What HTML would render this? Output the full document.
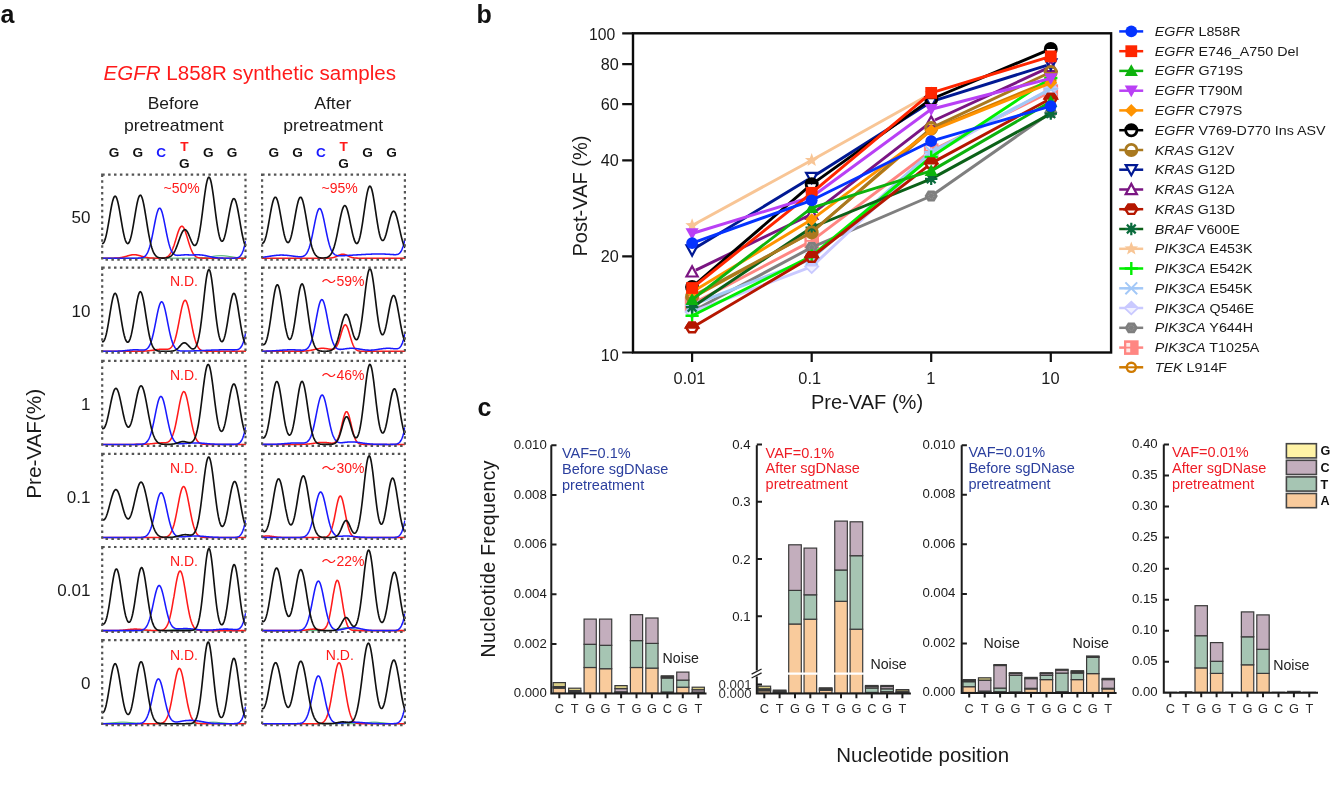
<!DOCTYPE html>
<html lang="en">
<head>
<meta charset="utf-8">
<title>Figure</title>
<style>
html,body{margin:0;padding:0;background:#fff;}
body{width:1332px;height:795px;overflow:hidden;font-family:"Liberation Sans", sans-serif;}
svg{display:block;}
</style>
</head>
<body>
<svg width="1332" height="795" viewBox="0 0 1332 795" font-family='"Liberation Sans", sans-serif'>
<rect width="1332" height="795" fill="#ffffff"/>
<g id="panel-a">
<text x="0.6" y="22.5" font-size="25" fill="#111" text-anchor="start" font-weight="bold" font-style="normal" >a</text>
<text x="103.5" y="80.3" font-size="19.6" fill="#ff1a1a" textLength="292.5" lengthAdjust="spacingAndGlyphs"><tspan font-style="italic">EGFR</tspan> L858R synthetic samples</text>
<text x="173.4" y="109.0" font-size="16.4" fill="#1a1a1a" text-anchor="middle" textLength="51.3" lengthAdjust="spacingAndGlyphs">Before</text>
<text x="173.8" y="130.6" font-size="16.4" fill="#1a1a1a" text-anchor="middle" textLength="99.8" lengthAdjust="spacingAndGlyphs">pretreatment</text>
<text x="332.8" y="109.0" font-size="16.4" fill="#1a1a1a" text-anchor="middle" textLength="37.2" lengthAdjust="spacingAndGlyphs">After</text>
<text x="333.2" y="130.6" font-size="16.4" fill="#1a1a1a" text-anchor="middle" textLength="99.8" lengthAdjust="spacingAndGlyphs">pretreatment</text>
<text x="114.0" y="157.2" font-size="13.6" fill="#111" text-anchor="middle" font-weight="bold" font-style="normal" >G</text>
<text x="137.8" y="157.2" font-size="13.6" fill="#111" text-anchor="middle" font-weight="bold" font-style="normal" >G</text>
<text x="161.2" y="157.2" font-size="13.6" fill="#1a1aff" text-anchor="middle" font-weight="bold" font-style="normal" >C</text>
<text x="184.3" y="151.2" font-size="13.6" fill="#ff1a1a" text-anchor="middle" font-weight="bold" font-style="normal" >T</text>
<text x="184.3" y="167.8" font-size="13.6" fill="#111" text-anchor="middle" font-weight="bold" font-style="normal" >G</text>
<text x="208.2" y="157.2" font-size="13.6" fill="#111" text-anchor="middle" font-weight="bold" font-style="normal" >G</text>
<text x="232.0" y="157.2" font-size="13.6" fill="#111" text-anchor="middle" font-weight="bold" font-style="normal" >G</text>
<text x="273.9" y="157.2" font-size="13.6" fill="#111" text-anchor="middle" font-weight="bold" font-style="normal" >G</text>
<text x="297.6" y="157.2" font-size="13.6" fill="#111" text-anchor="middle" font-weight="bold" font-style="normal" >G</text>
<text x="321.0" y="157.2" font-size="13.6" fill="#1a1aff" text-anchor="middle" font-weight="bold" font-style="normal" >C</text>
<text x="343.6" y="151.2" font-size="13.6" fill="#ff1a1a" text-anchor="middle" font-weight="bold" font-style="normal" >T</text>
<text x="343.6" y="167.8" font-size="13.6" fill="#111" text-anchor="middle" font-weight="bold" font-style="normal" >G</text>
<text x="367.6" y="157.2" font-size="13.6" fill="#111" text-anchor="middle" font-weight="bold" font-style="normal" >G</text>
<text x="391.6" y="157.2" font-size="13.6" fill="#111" text-anchor="middle" font-weight="bold" font-style="normal" >G</text>
<text transform="translate(40.8 443.8) rotate(-90)" font-size="20.8" textLength="110" lengthAdjust="spacing" fill="#1a1a1a" text-anchor="middle">Pre-VAF(%)</text>
<text x="90.4" y="223.4" font-size="17" fill="#1a1a1a" text-anchor="end" font-weight="normal" font-style="normal" >50</text>
<clipPath id="clip00"><rect x="101.8" y="174.6" width="144.1" height="85.6"/></clipPath>
<g clip-path="url(#clip00)" fill="none" stroke-linejoin="round" stroke-linecap="round">
<path d="M102.2 258.20 L102.7 258.20 L103.2 258.20 L103.7 258.20 L104.2 258.20 L104.7 258.20 L105.2 258.20 L105.7 258.20 L106.2 258.20 L106.7 258.20 L107.2 258.20 L107.7 258.20 L108.2 258.20 L108.7 258.20 L109.2 258.20 L109.7 258.20 L110.2 258.20 L110.7 258.20 L111.2 258.20 L111.7 258.20 L112.2 258.20 L112.7 258.20 L113.2 258.20 L113.7 258.20 L114.2 258.20 L114.7 258.20 L115.2 258.20 L115.7 258.20 L116.2 258.20 L116.7 258.20 L117.2 258.20 L117.7 258.20 L118.2 258.20 L118.7 258.20 L119.2 258.20 L119.7 258.20 L120.2 258.20 L120.7 258.20 L121.2 258.20 L121.7 258.20 L122.2 258.20 L122.7 258.20 L123.2 258.20 L123.7 258.20 L124.2 258.20 L124.7 258.20 L125.2 258.20 L125.7 258.20 L126.3 258.20 L126.8 258.20 L127.3 258.20 L127.8 258.20 L128.3 258.20 L128.8 258.20 L129.3 258.20 L129.8 258.20 L130.3 258.20 L130.8 258.20 L131.3 258.20 L131.8 258.20 L132.3 258.20 L132.8 258.20 L133.3 258.20 L133.8 258.20 L134.3 258.20 L134.8 258.20 L135.3 258.20 L135.8 258.20 L136.3 258.20 L136.8 258.20 L137.3 258.20 L137.8 258.20 L138.3 258.20 L138.8 258.20 L139.3 258.20 L139.8 258.20 L140.3 258.20 L140.8 258.20 L141.3 258.20 L141.8 258.20 L142.3 258.20 L142.8 258.20 L143.3 258.20 L143.8 258.20 L144.3 258.20 L144.8 258.20 L145.3 258.20 L145.8 258.20 L146.3 258.20 L146.8 258.20 L147.3 258.20 L147.8 258.20 L148.3 258.20 L148.8 258.20 L149.3 258.20 L149.8 258.20 L150.3 258.20 L150.8 258.20 L151.3 258.20 L151.8 258.20 L152.3 258.20 L152.8 258.20 L153.3 258.20 L153.8 258.20 L154.3 258.20 L154.8 258.20 L155.3 258.20 L155.8 258.20 L156.3 258.20 L156.8 258.20 L157.3 258.20 L157.8 258.20 L158.3 258.20 L158.8 258.20 L159.3 258.20 L159.8 258.20 L160.3 258.20 L160.8 258.20 L161.3 258.20 L161.8 258.20 L162.3 258.20 L162.8 258.20 L163.3 258.20 L163.8 258.20 L164.3 258.20 L164.8 258.20 L165.3 258.20 L165.8 258.20 L166.3 258.20 L166.8 258.20 L167.3 258.20 L167.8 258.20 L168.3 258.20 L168.8 258.20 L169.3 258.20 L169.8 258.20 L170.3 258.20 L170.8 258.20 L171.3 258.20 L171.8 258.20 L172.3 258.20 L172.8 258.20 L173.3 258.20 L173.9 258.20 L174.4 258.20 L174.9 258.20 L175.4 258.20 L175.9 258.20 L176.4 258.20 L176.9 258.20 L177.4 258.20 L177.9 258.20 L178.4 258.20 L178.9 258.20 L179.4 258.20 L179.9 258.20 L180.4 258.20 L180.9 258.20 L181.4 258.20 L181.9 258.20 L182.4 258.20 L182.9 258.20 L183.4 258.20 L183.9 258.20 L184.4 258.20 L184.9 258.20 L185.4 258.20 L185.9 258.19 L186.4 258.19 L186.9 258.19 L187.4 258.19 L187.9 258.19 L188.4 258.19 L188.9 258.18 L189.4 258.18 L189.9 258.18 L190.4 258.18 L190.9 258.17 L191.4 258.17 L191.9 258.16 L192.4 258.16 L192.9 258.15 L193.4 258.14 L193.9 258.13 L194.4 258.12 L194.9 258.11 L195.4 258.10 L195.9 258.09 L196.4 258.07 L196.9 258.06 L197.4 258.04 L197.9 258.02 L198.4 258.00 L198.9 257.97 L199.4 257.95 L199.9 257.92 L200.4 257.89 L200.9 257.85 L201.4 257.82 L201.9 257.78 L202.4 257.74 L202.9 257.69 L203.4 257.65 L203.9 257.60 L204.4 257.55 L204.9 257.49 L205.4 257.43 L205.9 257.37 L206.4 257.31 L206.9 257.24 L207.4 257.18 L207.9 257.11 L208.4 257.04 L208.9 256.96 L209.4 256.89 L209.9 256.81 L210.4 256.74 L210.9 256.66 L211.4 256.59 L211.9 256.51 L212.4 256.44 L212.9 256.36 L213.4 256.29 L213.9 256.22 L214.4 256.16 L214.9 256.09 L215.4 256.03 L215.9 255.98 L216.4 255.93 L216.9 255.88 L217.4 255.84 L217.9 255.80 L218.4 255.77 L218.9 255.74 L219.4 255.72 L219.9 255.71 L220.4 255.70 L220.9 255.70 L221.4 255.71 L222.0 255.72 L222.5 255.73 L223.0 255.76 L223.5 255.79 L224.0 255.82 L224.5 255.86 L225.0 255.91 L225.5 255.96 L226.0 256.01 L226.5 256.07 L227.0 256.13 L227.5 256.20 L228.0 256.27 L228.5 256.34 L229.0 256.41 L229.5 256.48 L230.0 256.56 L230.5 256.64 L231.0 256.71 L231.5 256.79 L232.0 256.86 L232.5 256.94 L233.0 257.01 L233.5 257.08 L234.0 257.15 L234.5 257.22 L235.0 257.29 L235.5 257.35 L236.0 257.41 L236.5 257.47 L237.0 257.53 L237.5 257.58 L238.0 257.63 L238.5 257.68 L239.0 257.72 L239.5 257.77 L240.0 257.80 L240.5 257.84 L241.0 257.88 L241.5 257.91 L242.0 257.94 L242.5 257.96 L243.0 257.99 L243.5 258.01 L244.0 258.03 L244.5 258.05 L245.0 258.07 L245.5 258.08" stroke="#1a9a4a" stroke-width="1.0"/>
<path d="M102.2 258.20 L102.7 258.20 L103.2 258.20 L103.7 258.20 L104.2 258.20 L104.7 258.20 L105.2 258.20 L105.7 258.20 L106.2 258.20 L106.7 258.20 L107.2 258.20 L107.7 258.20 L108.2 258.20 L108.7 258.19 L109.2 258.19 L109.7 258.19 L110.2 258.19 L110.7 258.19 L111.2 258.18 L111.7 258.18 L112.2 258.17 L112.7 258.17 L113.2 258.16 L113.7 258.15 L114.2 258.14 L114.7 258.12 L115.2 258.10 L115.7 258.08 L116.2 258.06 L116.7 258.03 L117.2 258.00 L117.7 257.97 L118.2 257.92 L118.7 257.88 L119.2 257.82 L119.7 257.76 L120.2 257.70 L120.7 257.62 L121.2 257.54 L121.7 257.45 L122.2 257.35 L122.7 257.24 L123.2 257.13 L123.7 257.01 L124.2 256.88 L124.7 256.74 L125.2 256.60 L125.7 256.46 L126.3 256.31 L126.8 256.16 L127.3 256.00 L127.8 255.85 L128.3 255.71 L128.8 255.56 L129.3 255.42 L129.8 255.29 L130.3 255.17 L130.8 255.06 L131.3 254.96 L131.8 254.88 L132.3 254.81 L132.8 254.76 L133.3 254.72 L133.8 254.70 L134.3 254.70 L134.8 254.72 L135.3 254.76 L135.8 254.81 L136.3 254.88 L136.8 254.96 L137.3 255.06 L137.8 255.17 L138.3 255.29 L138.8 255.42 L139.3 255.56 L139.8 255.71 L140.3 255.86 L140.8 256.01 L141.3 256.16 L141.8 256.31 L142.3 256.46 L142.8 256.60 L143.3 256.74 L143.8 256.88 L144.3 257.01 L144.8 257.13 L145.3 257.24 L145.8 257.35 L146.3 257.45 L146.8 257.54 L147.3 257.62 L147.8 257.70 L148.3 257.76 L148.8 257.82 L149.3 257.88 L149.8 257.92 L150.3 257.97 L150.8 258.00 L151.3 258.03 L151.8 258.06 L152.3 258.08 L152.8 258.10 L153.3 258.12 L153.8 258.14 L154.3 258.15 L154.8 258.16 L155.3 258.16 L155.8 258.17 L156.3 258.18 L156.8 258.18 L157.3 258.18 L157.8 258.18 L158.3 258.18 L158.8 258.18 L159.3 258.18 L159.8 258.17 L160.3 258.16 L160.8 258.15 L161.3 258.14 L161.8 258.11 L162.3 258.09 L162.8 258.05 L163.3 258.00 L163.8 257.94 L164.3 257.86 L164.8 257.76 L165.3 257.63 L165.8 257.48 L166.3 257.29 L166.8 257.05 L167.3 256.77 L167.8 256.44 L168.3 256.04 L168.8 255.57 L169.3 255.02 L169.8 254.38 L170.3 253.65 L170.8 252.83 L171.3 251.90 L171.8 250.86 L172.3 249.72 L172.8 248.48 L173.3 247.13 L173.9 245.69 L174.4 244.17 L174.9 242.59 L175.4 240.95 L175.9 239.28 L176.4 237.61 L176.9 235.95 L177.4 234.34 L177.9 232.80 L178.4 231.36 L178.9 230.06 L179.4 228.91 L179.9 227.94 L180.4 227.17 L180.9 226.61 L181.4 226.29 L181.9 226.20 L182.4 226.35 L182.9 226.74 L183.4 227.35 L183.9 228.17 L184.4 229.19 L184.9 230.39 L185.4 231.73 L185.9 233.20 L186.4 234.76 L186.9 236.38 L187.4 238.05 L187.9 239.72 L188.4 241.38 L188.9 243.01 L189.4 244.58 L189.9 246.08 L190.4 247.50 L190.9 248.82 L191.4 250.03 L191.9 251.15 L192.4 252.15 L192.9 253.05 L193.4 253.85 L193.9 254.56 L194.4 255.17 L194.9 255.70 L195.4 256.15 L195.9 256.53 L196.4 256.85 L196.9 257.12 L197.4 257.34 L197.9 257.52 L198.4 257.67 L198.9 257.79 L199.4 257.88 L199.9 257.95 L200.4 258.01 L200.9 258.06 L201.4 258.09 L201.9 258.12 L202.4 258.14 L202.9 258.16 L203.4 258.17 L203.9 258.18 L204.4 258.18 L204.9 258.19 L205.4 258.19 L205.9 258.19 L206.4 258.20 L206.9 258.20 L207.4 258.20 L207.9 258.20 L208.4 258.20 L208.9 258.20 L209.4 258.20 L209.9 258.20 L210.4 258.20 L210.9 258.20 L211.4 258.20 L211.9 258.20 L212.4 258.20 L212.9 258.20 L213.4 258.20 L213.9 258.20 L214.4 258.20 L214.9 258.20 L215.4 258.20 L215.9 258.20 L216.4 258.20 L216.9 258.20 L217.4 258.20 L217.9 258.20 L218.4 258.20 L218.9 258.20 L219.4 258.20 L219.9 258.20 L220.4 258.20 L220.9 258.20 L221.4 258.20 L222.0 258.20 L222.5 258.20 L223.0 258.20 L223.5 258.20 L224.0 258.20 L224.5 258.20 L225.0 258.20 L225.5 258.20 L226.0 258.20 L226.5 258.20 L227.0 258.20 L227.5 258.20 L228.0 258.20 L228.5 258.20 L229.0 258.20 L229.5 258.20 L230.0 258.20 L230.5 258.20 L231.0 258.20 L231.5 258.20 L232.0 258.20 L232.5 258.20 L233.0 258.20 L233.5 258.20 L234.0 258.20 L234.5 258.20 L235.0 258.20 L235.5 258.20 L236.0 258.20 L236.5 258.20 L237.0 258.20 L237.5 258.20 L238.0 258.20 L238.5 258.20 L239.0 258.20 L239.5 258.20 L240.0 258.20 L240.5 258.20 L241.0 258.20 L241.5 258.20 L242.0 258.20 L242.5 258.20 L243.0 258.20 L243.5 258.20 L244.0 258.20 L244.5 258.20 L245.0 258.20 L245.5 258.20" stroke="#ff1a1a" stroke-width="1.55"/>
<path d="M102.2 258.20 L102.7 258.20 L103.2 258.20 L103.7 258.20 L104.2 258.20 L104.7 258.20 L105.2 258.20 L105.7 258.20 L106.2 258.20 L106.7 258.20 L107.2 258.20 L107.7 258.20 L108.2 258.20 L108.7 258.20 L109.2 258.20 L109.7 258.20 L110.2 258.20 L110.7 258.20 L111.2 258.20 L111.7 258.20 L112.2 258.20 L112.7 258.20 L113.2 258.20 L113.7 258.20 L114.2 258.20 L114.7 258.20 L115.2 258.20 L115.7 258.20 L116.2 258.20 L116.7 258.20 L117.2 258.20 L117.7 258.20 L118.2 258.20 L118.7 258.20 L119.2 258.20 L119.7 258.20 L120.2 258.20 L120.7 258.20 L121.2 258.20 L121.7 258.20 L122.2 258.20 L122.7 258.20 L123.2 258.20 L123.7 258.20 L124.2 258.20 L124.7 258.20 L125.2 258.20 L125.7 258.20 L126.3 258.20 L126.8 258.20 L127.3 258.20 L127.8 258.20 L128.3 258.20 L128.8 258.20 L129.3 258.20 L129.8 258.20 L130.3 258.20 L130.8 258.20 L131.3 258.20 L131.8 258.20 L132.3 258.20 L132.8 258.20 L133.3 258.20 L133.8 258.20 L134.3 258.20 L134.8 258.20 L135.3 258.19 L135.8 258.19 L136.3 258.19 L136.8 258.18 L137.3 258.17 L137.8 258.16 L138.3 258.14 L138.8 258.12 L139.3 258.10 L139.8 258.06 L140.3 258.01 L140.8 257.95 L141.3 257.87 L141.8 257.77 L142.3 257.64 L142.8 257.48 L143.3 257.27 L143.8 257.02 L144.3 256.71 L144.8 256.34 L145.3 255.88 L145.8 255.34 L146.3 254.70 L146.8 253.94 L147.3 253.06 L147.8 252.05 L148.3 250.88 L148.8 249.57 L149.3 248.09 L149.8 246.44 L150.3 244.63 L150.8 242.66 L151.3 240.53 L151.8 238.26 L152.3 235.86 L152.8 233.37 L153.3 230.79 L153.8 228.18 L154.3 225.57 L154.8 222.99 L155.3 220.48 L155.8 218.10 L156.3 215.89 L156.8 213.89 L157.3 212.13 L157.8 210.66 L158.3 209.51 L158.8 208.70 L159.3 208.25 L159.8 208.17 L160.3 208.46 L160.8 209.12 L161.3 210.12 L161.8 211.45 L162.3 213.08 L162.8 214.97 L163.3 217.08 L163.8 219.38 L164.3 221.81 L164.8 224.33 L165.3 226.91 L165.8 229.48 L166.3 232.03 L166.8 234.51 L167.3 236.90 L167.8 239.17 L168.3 241.29 L168.8 243.26 L169.3 245.06 L169.8 246.70 L170.3 248.16 L170.8 249.45 L171.3 250.58 L171.8 251.56 L172.3 252.39 L172.8 253.08 L173.3 253.66 L173.9 254.13 L174.4 254.50 L174.9 254.79 L175.4 255.00 L175.9 255.16 L176.4 255.26 L176.9 255.32 L177.4 255.35 L177.9 255.35 L178.4 255.34 L178.9 255.30 L179.4 255.26 L179.9 255.21 L180.4 255.16 L180.9 255.11 L181.4 255.06 L181.9 255.01 L182.4 254.97 L182.9 254.93 L183.4 254.90 L183.9 254.88 L184.4 254.86 L184.9 254.84 L185.4 254.84 L185.9 254.84 L186.4 254.84 L186.9 254.84 L187.4 254.85 L187.9 254.86 L188.4 254.87 L188.9 254.88 L189.4 254.90 L189.9 254.91 L190.4 254.91 L190.9 254.92 L191.4 254.92 L191.9 254.92 L192.4 254.92 L192.9 254.92 L193.4 254.91 L193.9 254.90 L194.4 254.89 L194.9 254.88 L195.4 254.87 L195.9 254.86 L196.4 254.85 L196.9 254.84 L197.4 254.84 L197.9 254.84 L198.4 254.84 L198.9 254.85 L199.4 254.86 L199.9 254.89 L200.4 254.92 L200.9 254.95 L201.4 255.00 L201.9 255.05 L202.4 255.11 L202.9 255.18 L203.4 255.25 L203.9 255.34 L204.4 255.43 L204.9 255.52 L205.4 255.62 L205.9 255.73 L206.4 255.84 L206.9 255.96 L207.4 256.07 L207.9 256.19 L208.4 256.31 L208.9 256.42 L209.4 256.54 L209.9 256.65 L210.4 256.77 L210.9 256.88 L211.4 256.98 L211.9 257.08 L212.4 257.18 L212.9 257.27 L213.4 257.36 L213.9 257.44 L214.4 257.52 L214.9 257.59 L215.4 257.65 L215.9 257.71 L216.4 257.77 L216.9 257.82 L217.4 257.87 L217.9 257.91 L218.4 257.95 L218.9 257.98 L219.4 258.01 L219.9 258.04 L220.4 258.06 L220.9 258.08 L221.4 258.10 L222.0 258.11 L222.5 258.13 L223.0 258.14 L223.5 258.15 L224.0 258.16 L224.5 258.16 L225.0 258.17 L225.5 258.18 L226.0 258.18 L226.5 258.18 L227.0 258.19 L227.5 258.19 L228.0 258.19 L228.5 258.19 L229.0 258.19 L229.5 258.19 L230.0 258.19 L230.5 258.19 L231.0 258.19 L231.5 258.19 L232.0 258.19 L232.5 258.18 L233.0 258.18 L233.5 258.17 L234.0 258.15 L234.5 258.13 L235.0 258.10 L235.5 258.07 L236.0 258.01 L236.5 257.94 L237.0 257.84 L237.5 257.72 L238.0 257.55 L238.5 257.33 L239.0 257.06 L239.5 256.71 L240.0 256.28 L240.5 255.74 L241.0 255.09 L241.5 254.30 L242.0 253.36 L242.5 252.26 L243.0 250.98 L243.5 249.51 L244.0 247.84 L244.5 245.97 L245.0 243.92 L245.5 241.69" stroke="#1a1aff" stroke-width="1.55"/>
<path d="M102.2 243.52 L102.7 243.55 L103.2 243.27 L103.7 242.69 L104.2 241.80 L104.7 240.61 L105.2 239.12 L105.7 237.36 L106.2 235.34 L106.7 233.08 L107.2 230.61 L107.7 227.96 L108.2 225.16 L108.7 222.26 L109.2 219.29 L109.7 216.31 L110.2 213.36 L110.7 210.50 L111.2 207.77 L111.7 205.23 L112.2 202.92 L112.7 200.90 L113.2 199.20 L113.7 197.85 L114.2 196.88 L114.7 196.32 L115.2 196.18 L115.7 196.45 L116.2 197.14 L116.7 198.23 L117.2 199.69 L117.7 201.50 L118.2 203.61 L118.7 206.00 L119.2 208.61 L119.7 211.39 L120.2 214.29 L120.7 217.26 L121.2 220.26 L121.7 223.22 L122.2 226.11 L122.7 228.88 L123.2 231.50 L123.7 233.92 L124.2 236.12 L124.7 238.07 L125.2 239.75 L125.7 241.14 L126.3 242.23 L126.8 243.00 L127.3 243.45 L127.8 243.58 L128.3 243.38 L128.8 242.85 L129.3 242.00 L129.8 240.84 L130.3 239.37 L130.8 237.62 L131.3 235.59 L131.8 233.32 L132.3 230.82 L132.8 228.14 L133.3 225.30 L133.8 222.35 L134.3 219.33 L134.8 216.29 L135.3 213.27 L135.8 210.33 L136.3 207.52 L136.8 204.89 L137.3 202.49 L137.8 200.37 L138.3 198.57 L138.8 197.13 L139.3 196.07 L139.8 195.42 L140.3 195.19 L140.8 195.39 L141.3 196.01 L141.8 197.04 L142.3 198.47 L142.8 200.26 L143.3 202.37 L143.8 204.77 L144.3 207.42 L144.8 210.26 L145.3 213.25 L145.8 216.35 L146.3 219.49 L146.8 222.64 L147.3 225.75 L147.8 228.80 L148.3 231.74 L148.8 234.54 L149.3 237.20 L149.8 239.68 L150.3 241.98 L150.8 244.09 L151.3 246.01 L151.8 247.74 L152.3 249.28 L152.8 250.65 L153.3 251.85 L153.8 252.90 L154.3 253.80 L154.8 254.58 L155.3 255.24 L155.8 255.79 L156.3 256.26 L156.8 256.64 L157.3 256.96 L157.8 257.22 L158.3 257.43 L158.8 257.60 L159.3 257.73 L159.8 257.84 L160.3 257.92 L160.8 257.98 L161.3 258.03 L161.8 258.06 L162.3 258.08 L162.8 258.10 L163.3 258.10 L163.8 258.09 L164.3 258.08 L164.8 258.06 L165.3 258.02 L165.8 257.98 L166.3 257.92 L166.8 257.84 L167.3 257.75 L167.8 257.63 L168.3 257.48 L168.8 257.31 L169.3 257.10 L169.8 256.84 L170.3 256.54 L170.8 256.19 L171.3 255.77 L171.8 255.30 L172.3 254.75 L172.8 254.12 L173.3 253.42 L173.9 252.63 L174.4 251.76 L174.9 250.80 L175.4 249.75 L175.9 248.62 L176.4 247.42 L176.9 246.14 L177.4 244.81 L177.9 243.43 L178.4 242.02 L178.9 240.60 L179.4 239.17 L179.9 237.78 L180.4 236.43 L180.9 235.15 L181.4 233.96 L181.9 232.88 L182.4 231.93 L182.9 231.13 L183.4 230.49 L183.9 230.03 L184.4 229.76 L184.9 229.67 L185.4 229.78 L185.9 230.07 L186.4 230.54 L186.9 231.18 L187.4 231.98 L187.9 232.91 L188.4 233.95 L188.9 235.08 L189.4 236.27 L189.9 237.50 L190.4 238.73 L190.9 239.94 L191.4 241.10 L191.9 242.19 L192.4 243.16 L192.9 243.99 L193.4 244.67 L193.9 245.16 L194.4 245.44 L194.9 245.49 L195.4 245.29 L195.9 244.83 L196.4 244.08 L196.9 243.03 L197.4 241.68 L197.9 240.02 L198.4 238.05 L198.9 235.76 L199.4 233.18 L199.9 230.31 L200.4 227.17 L200.9 223.78 L201.4 220.19 L201.9 216.44 L202.4 212.55 L202.9 208.60 L203.4 204.63 L203.9 200.70 L204.4 196.88 L204.9 193.24 L205.4 189.83 L205.9 186.72 L206.4 183.97 L206.9 181.63 L207.4 179.74 L207.9 178.36 L208.4 177.50 L208.9 177.18 L209.4 177.41 L209.9 178.18 L210.4 179.48 L210.9 181.28 L211.4 183.54 L211.9 186.23 L212.4 189.27 L212.9 192.63 L213.4 196.22 L213.9 200.00 L214.4 203.88 L214.9 207.82 L215.4 211.74 L215.9 215.58 L216.4 219.29 L216.9 222.82 L217.4 226.12 L217.9 229.16 L218.4 231.91 L218.9 234.33 L219.4 236.41 L219.9 238.13 L220.4 239.49 L220.9 240.47 L221.4 241.07 L222.0 241.30 L222.5 241.16 L223.0 240.66 L223.5 239.81 L224.0 238.64 L224.5 237.15 L225.0 235.37 L225.5 233.33 L226.0 231.06 L226.5 228.60 L227.0 225.98 L227.5 223.24 L228.0 220.43 L228.5 217.61 L229.0 214.80 L229.5 212.08 L230.0 209.49 L230.5 207.07 L231.0 204.89 L231.5 202.97 L232.0 201.36 L232.5 200.10 L233.0 199.20 L233.5 198.69 L234.0 198.59 L234.5 198.88 L235.0 199.57 L235.5 200.65 L236.0 202.08 L236.5 203.85 L237.0 205.92 L237.5 208.24 L238.0 210.78 L238.5 213.49 L239.0 216.31 L239.5 219.21 L240.0 222.13 L240.5 225.04 L241.0 227.89 L241.5 230.65 L242.0 233.27 L242.5 235.74 L243.0 238.04 L243.5 240.13 L244.0 242.01 L244.5 243.67 L245.0 245.11 L245.5 246.31" stroke="#111111" stroke-width="1.65"/>
</g>
<rect x="102.2" y="174.6" width="143.3" height="85.0" fill="none" stroke="#555555" stroke-width="2.2" stroke-dasharray="2.5 3.4"/>
<text x="163.6" y="192.7" font-size="14" fill="#ff1a1a" text-anchor="start" font-weight="normal" font-style="normal" >~50%</text>
<clipPath id="clip01"><rect x="261.7" y="174.6" width="143.6" height="85.6"/></clipPath>
<g clip-path="url(#clip01)" fill="none" stroke-linejoin="round" stroke-linecap="round">
<path d="M262.1 258.20 L262.6 258.20 L263.1 258.20 L263.6 258.20 L264.1 258.20 L264.6 258.20 L265.1 258.20 L265.6 258.20 L266.1 258.20 L266.6 258.20 L267.1 258.20 L267.6 258.20 L268.1 258.20 L268.6 258.20 L269.1 258.20 L269.6 258.20 L270.1 258.20 L270.6 258.20 L271.1 258.20 L271.6 258.20 L272.1 258.20 L272.6 258.20 L273.1 258.20 L273.6 258.20 L274.1 258.20 L274.6 258.20 L275.1 258.20 L275.6 258.20 L276.1 258.20 L276.6 258.20 L277.1 258.20 L277.6 258.20 L278.1 258.20 L278.6 258.20 L279.1 258.20 L279.6 258.20 L280.1 258.20 L280.6 258.20 L281.1 258.20 L281.6 258.20 L282.1 258.20 L282.6 258.20 L283.1 258.20 L283.6 258.20 L284.1 258.20 L284.6 258.20 L285.1 258.20 L285.6 258.20 L286.2 258.20 L286.7 258.20 L287.2 258.20 L287.7 258.20 L288.2 258.20 L288.7 258.20 L289.2 258.20 L289.7 258.20 L290.2 258.20 L290.7 258.20 L291.2 258.20 L291.7 258.20 L292.2 258.20 L292.7 258.20 L293.2 258.20 L293.7 258.20 L294.2 258.20 L294.7 258.20 L295.2 258.20 L295.7 258.20 L296.2 258.20 L296.7 258.20 L297.2 258.20 L297.7 258.20 L298.2 258.20 L298.7 258.20 L299.2 258.20 L299.7 258.20 L300.2 258.20 L300.7 258.20 L301.2 258.20 L301.7 258.20 L302.2 258.20 L302.7 258.20 L303.2 258.20 L303.7 258.20 L304.2 258.20 L304.7 258.20 L305.2 258.20 L305.7 258.20 L306.2 258.20 L306.7 258.20 L307.2 258.20 L307.7 258.20 L308.2 258.20 L308.7 258.20 L309.2 258.20 L309.7 258.20 L310.2 258.20 L310.7 258.20 L311.2 258.20 L311.7 258.20 L312.2 258.20 L312.7 258.20 L313.2 258.20 L313.7 258.20 L314.2 258.20 L314.7 258.20 L315.2 258.20 L315.7 258.20 L316.2 258.20 L316.7 258.20 L317.2 258.20 L317.7 258.20 L318.2 258.20 L318.7 258.20 L319.2 258.20 L319.7 258.20 L320.2 258.20 L320.7 258.20 L321.2 258.20 L321.7 258.20 L322.2 258.20 L322.7 258.20 L323.2 258.20 L323.7 258.20 L324.2 258.20 L324.7 258.19 L325.2 258.19 L325.7 258.19 L326.2 258.18 L326.7 258.18 L327.2 258.17 L327.7 258.16 L328.2 258.14 L328.7 258.12 L329.2 258.10 L329.7 258.07 L330.2 258.03 L330.7 257.98 L331.2 257.92 L331.7 257.85 L332.2 257.76 L332.7 257.66 L333.2 257.55 L333.8 257.41 L334.3 257.26 L334.8 257.09 L335.3 256.91 L335.8 256.70 L336.3 256.49 L336.8 256.26 L337.3 256.02 L337.8 255.78 L338.3 255.54 L338.8 255.30 L339.3 255.07 L339.8 254.86 L340.3 254.67 L340.8 254.51 L341.3 254.38 L341.8 254.28 L342.3 254.22 L342.8 254.20 L343.3 254.22 L343.8 254.28 L344.3 254.38 L344.8 254.51 L345.3 254.67 L345.8 254.86 L346.3 255.07 L346.8 255.30 L347.3 255.54 L347.8 255.78 L348.3 256.02 L348.8 256.26 L349.3 256.49 L349.8 256.71 L350.3 256.91 L350.8 257.09 L351.3 257.26 L351.8 257.41 L352.3 257.55 L352.8 257.66 L353.3 257.76 L353.8 257.85 L354.3 257.92 L354.8 257.98 L355.3 258.03 L355.8 258.07 L356.3 258.10 L356.8 258.12 L357.3 258.14 L357.8 258.16 L358.3 258.17 L358.8 258.18 L359.3 258.18 L359.8 258.19 L360.3 258.19 L360.8 258.19 L361.3 258.20 L361.8 258.20 L362.3 258.20 L362.8 258.20 L363.3 258.20 L363.8 258.20 L364.3 258.20 L364.8 258.20 L365.3 258.20 L365.8 258.20 L366.3 258.20 L366.8 258.20 L367.3 258.20 L367.8 258.20 L368.3 258.20 L368.8 258.20 L369.3 258.20 L369.8 258.20 L370.3 258.20 L370.8 258.20 L371.3 258.20 L371.8 258.20 L372.3 258.20 L372.8 258.20 L373.3 258.20 L373.8 258.20 L374.3 258.20 L374.8 258.20 L375.3 258.20 L375.8 258.20 L376.3 258.20 L376.8 258.20 L377.3 258.20 L377.8 258.20 L378.3 258.20 L378.8 258.20 L379.3 258.20 L379.8 258.20 L380.3 258.20 L380.8 258.20 L381.4 258.20 L381.9 258.20 L382.4 258.20 L382.9 258.20 L383.4 258.20 L383.9 258.20 L384.4 258.20 L384.9 258.20 L385.4 258.20 L385.9 258.20 L386.4 258.20 L386.9 258.20 L387.4 258.20 L387.9 258.20 L388.4 258.20 L388.9 258.20 L389.4 258.20 L389.9 258.20 L390.4 258.20 L390.9 258.20 L391.4 258.20 L391.9 258.20 L392.4 258.20 L392.9 258.20 L393.4 258.20 L393.9 258.20 L394.4 258.20 L394.9 258.20 L395.4 258.20 L395.9 258.20 L396.4 258.20 L396.9 258.20 L397.4 258.20 L397.9 258.20 L398.4 258.20 L398.9 258.20 L399.4 258.20 L399.9 258.20 L400.4 258.20 L400.9 258.20 L401.4 258.20 L401.9 258.20 L402.4 258.20 L402.9 258.20 L403.4 258.20 L403.9 258.20 L404.4 258.20 L404.9 258.20" stroke="#ff1a1a" stroke-width="1.55"/>
<path d="M262.1 257.33 L262.6 257.27 L263.1 257.21 L263.6 257.15 L264.1 257.08 L264.6 257.02 L265.1 256.95 L265.6 256.88 L266.1 256.81 L266.6 256.73 L267.1 256.66 L267.6 256.58 L268.1 256.50 L268.6 256.43 L269.1 256.35 L269.6 256.27 L270.1 256.19 L270.6 256.12 L271.1 256.04 L271.6 255.97 L272.1 255.89 L272.6 255.82 L273.1 255.75 L273.6 255.68 L274.1 255.61 L274.6 255.55 L275.1 255.49 L275.6 255.44 L276.1 255.38 L276.6 255.33 L277.1 255.29 L277.6 255.25 L278.1 255.21 L278.6 255.18 L279.1 255.15 L279.6 255.13 L280.1 255.11 L280.6 255.10 L281.1 255.09 L281.6 255.09 L282.1 255.10 L282.6 255.10 L283.1 255.12 L283.6 255.13 L284.1 255.16 L284.6 255.18 L285.1 255.22 L285.6 255.25 L286.2 255.29 L286.7 255.33 L287.2 255.38 L287.7 255.43 L288.2 255.49 L288.7 255.54 L289.2 255.60 L289.7 255.66 L290.2 255.72 L290.7 255.79 L291.2 255.85 L291.7 255.92 L292.2 255.98 L292.7 256.05 L293.2 256.11 L293.7 256.18 L294.2 256.24 L294.7 256.31 L295.2 256.37 L295.7 256.43 L296.2 256.49 L296.7 256.54 L297.2 256.59 L297.7 256.64 L298.2 256.68 L298.7 256.71 L299.2 256.73 L299.7 256.75 L300.2 256.74 L300.7 256.73 L301.2 256.69 L301.7 256.63 L302.2 256.55 L302.7 256.42 L303.2 256.26 L303.7 256.05 L304.2 255.78 L304.7 255.44 L305.2 255.03 L305.7 254.53 L306.2 253.93 L306.7 253.23 L307.2 252.40 L307.7 251.43 L308.2 250.33 L308.7 249.07 L309.2 247.65 L309.7 246.08 L310.2 244.34 L310.7 242.44 L311.2 240.38 L311.7 238.19 L312.2 235.87 L312.7 233.45 L313.2 230.95 L313.7 228.41 L314.2 225.86 L314.7 223.33 L315.2 220.88 L315.7 218.54 L316.2 216.36 L316.7 214.37 L317.2 212.62 L317.7 211.15 L318.2 209.98 L318.7 209.14 L319.2 208.64 L319.7 208.51 L320.2 208.73 L320.7 209.31 L321.2 210.23 L321.7 211.48 L322.2 213.01 L322.7 214.81 L323.2 216.83 L323.7 219.04 L324.2 221.38 L324.7 223.82 L325.2 226.32 L325.7 228.83 L326.2 231.32 L326.7 233.76 L327.2 236.11 L327.7 238.35 L328.2 240.46 L328.7 242.42 L329.2 244.23 L329.7 245.88 L330.2 247.37 L330.7 248.70 L331.2 249.87 L331.7 250.90 L332.2 251.79 L332.7 252.56 L333.2 253.21 L333.8 253.75 L334.3 254.21 L334.8 254.58 L335.3 254.88 L335.8 255.12 L336.3 255.31 L336.8 255.46 L337.3 255.57 L337.8 255.66 L338.3 255.72 L338.8 255.75 L339.3 255.78 L339.8 255.79 L340.3 255.79 L340.8 255.78 L341.3 255.77 L341.8 255.76 L342.3 255.74 L342.8 255.71 L343.3 255.69 L343.8 255.66 L344.3 255.64 L344.8 255.61 L345.3 255.58 L345.8 255.55 L346.3 255.52 L346.8 255.49 L347.3 255.46 L347.8 255.43 L348.3 255.40 L348.8 255.37 L349.3 255.34 L349.8 255.31 L350.3 255.28 L350.8 255.25 L351.3 255.22 L351.8 255.19 L352.3 255.16 L352.8 255.13 L353.3 255.10 L353.8 255.07 L354.3 255.04 L354.8 255.01 L355.3 254.98 L355.8 254.95 L356.3 254.92 L356.8 254.89 L357.3 254.86 L357.8 254.83 L358.3 254.80 L358.8 254.77 L359.3 254.74 L359.8 254.71 L360.3 254.68 L360.8 254.65 L361.3 254.62 L361.8 254.59 L362.3 254.56 L362.8 254.53 L363.3 254.51 L363.8 254.48 L364.3 254.45 L364.8 254.42 L365.3 254.40 L365.8 254.37 L366.3 254.35 L366.8 254.32 L367.3 254.30 L367.8 254.27 L368.3 254.25 L368.8 254.23 L369.3 254.21 L369.8 254.19 L370.3 254.17 L370.8 254.15 L371.3 254.13 L371.8 254.11 L372.3 254.10 L372.8 254.08 L373.3 254.07 L373.8 254.05 L374.3 254.04 L374.8 254.03 L375.3 254.02 L375.8 254.01 L376.3 254.01 L376.8 254.00 L377.3 253.99 L377.8 253.99 L378.3 253.99 L378.8 253.99 L379.3 253.99 L379.8 253.99 L380.3 254.00 L380.8 254.00 L381.4 254.01 L381.9 254.02 L382.4 254.03 L382.9 254.04 L383.4 254.06 L383.9 254.07 L384.4 254.09 L384.9 254.11 L385.4 254.13 L385.9 254.15 L386.4 254.17 L386.9 254.20 L387.4 254.22 L387.9 254.25 L388.4 254.28 L388.9 254.31 L389.4 254.34 L389.9 254.38 L390.4 254.41 L390.9 254.44 L391.4 254.48 L391.9 254.51 L392.4 254.55 L392.9 254.58 L393.4 254.61 L393.9 254.63 L394.4 254.65 L394.9 254.66 L395.4 254.65 L395.9 254.63 L396.4 254.58 L396.9 254.50 L397.4 254.39 L397.9 254.22 L398.4 254.00 L398.9 253.70 L399.4 253.32 L399.9 252.84 L400.4 252.24 L400.9 251.51 L401.4 250.63 L401.9 249.58 L402.4 248.35 L402.9 246.94 L403.4 245.33 L403.9 243.52 L404.4 241.52 L404.9 239.34" stroke="#1a1aff" stroke-width="1.55"/>
<path d="M262.1 243.06 L262.6 243.18 L263.1 243.02 L263.6 242.56 L264.1 241.80 L264.6 240.76 L265.1 239.43 L265.6 237.84 L266.1 235.98 L266.6 233.90 L267.1 231.60 L267.6 229.12 L268.1 226.48 L268.6 223.73 L269.1 220.91 L269.6 218.05 L270.1 215.20 L270.6 212.41 L271.1 209.73 L271.6 207.20 L272.1 204.87 L272.6 202.78 L273.1 200.98 L273.6 199.49 L274.1 198.36 L274.6 197.59 L275.1 197.21 L275.6 197.22 L276.1 197.63 L276.6 198.42 L277.1 199.58 L277.6 201.09 L278.1 202.91 L278.6 205.01 L279.1 207.35 L279.6 209.89 L280.1 212.58 L280.6 215.38 L281.1 218.22 L281.6 221.08 L282.1 223.90 L282.6 226.63 L283.1 229.25 L283.6 231.70 L284.1 233.97 L284.6 236.02 L285.1 237.82 L285.6 239.35 L286.2 240.61 L286.7 241.56 L287.2 242.22 L287.7 242.55 L288.2 242.57 L288.7 242.28 L289.2 241.67 L289.7 240.75 L290.2 239.54 L290.7 238.04 L291.2 236.27 L291.7 234.26 L292.2 232.02 L292.7 229.58 L293.2 226.99 L293.7 224.27 L294.2 221.46 L294.7 218.61 L295.2 215.75 L295.7 212.95 L296.2 210.24 L296.7 207.68 L297.2 205.31 L297.7 203.17 L298.2 201.31 L298.7 199.77 L299.2 198.56 L299.7 197.72 L300.2 197.27 L300.7 197.21 L301.2 197.54 L301.7 198.27 L302.2 199.37 L302.7 200.83 L303.2 202.61 L303.7 204.69 L304.2 207.03 L304.7 209.58 L305.2 212.31 L305.7 215.16 L306.2 218.10 L306.7 221.09 L307.2 224.07 L307.7 227.02 L308.2 229.90 L308.7 232.68 L309.2 235.34 L309.7 237.85 L310.2 240.21 L310.7 242.39 L311.2 244.40 L311.7 246.24 L312.2 247.89 L312.7 249.38 L313.2 250.70 L313.7 251.86 L314.2 252.88 L314.7 253.77 L315.2 254.53 L315.7 255.18 L316.2 255.73 L316.7 256.19 L317.2 256.58 L317.7 256.90 L318.2 257.16 L318.7 257.38 L319.2 257.55 L319.7 257.69 L320.2 257.79 L320.7 257.88 L321.2 257.94 L321.7 257.98 L322.2 258.01 L322.7 258.02 L323.2 258.02 L323.7 258.01 L324.2 257.98 L324.7 257.93 L325.2 257.87 L325.7 257.78 L326.2 257.67 L326.7 257.53 L327.2 257.35 L327.7 257.13 L328.2 256.87 L328.7 256.54 L329.2 256.15 L329.7 255.68 L330.2 255.12 L330.7 254.47 L331.2 253.71 L331.7 252.83 L332.2 251.82 L332.7 250.68 L333.2 249.38 L333.8 247.94 L334.3 246.33 L334.8 244.57 L335.3 242.66 L335.8 240.59 L336.3 238.38 L336.8 236.05 L337.3 233.60 L337.8 231.07 L338.3 228.48 L338.8 225.87 L339.3 223.25 L339.8 220.69 L340.3 218.20 L340.8 215.84 L341.3 213.63 L341.8 211.63 L342.3 209.87 L342.8 208.37 L343.3 207.18 L343.8 206.30 L344.3 205.77 L344.8 205.59 L345.3 205.75 L345.8 206.27 L346.3 207.12 L346.8 208.30 L347.3 209.76 L347.8 211.50 L348.3 213.46 L348.8 215.61 L349.3 217.92 L349.8 220.33 L350.3 222.80 L350.8 225.29 L351.3 227.76 L351.8 230.16 L352.3 232.45 L352.8 234.61 L353.3 236.59 L353.8 238.37 L354.3 239.92 L354.8 241.22 L355.3 242.25 L355.8 242.99 L356.3 243.43 L356.8 243.55 L357.3 243.36 L357.8 242.84 L358.3 241.99 L358.8 240.82 L359.3 239.32 L359.8 237.51 L360.3 235.40 L360.8 233.00 L361.3 230.34 L361.8 227.45 L362.3 224.35 L362.8 221.09 L363.3 217.70 L363.8 214.24 L364.3 210.75 L364.8 207.29 L365.3 203.92 L365.8 200.69 L366.3 197.66 L366.8 194.89 L367.3 192.43 L367.8 190.32 L368.3 188.61 L368.8 187.34 L369.3 186.52 L369.8 186.17 L370.3 186.31 L370.8 186.93 L371.3 188.01 L371.8 189.53 L372.3 191.46 L372.8 193.76 L373.3 196.39 L373.8 199.29 L374.3 202.41 L374.8 205.68 L375.3 209.06 L375.8 212.48 L376.3 215.88 L376.8 219.21 L377.3 222.43 L377.8 225.47 L378.3 228.31 L378.8 230.91 L379.3 233.23 L379.8 235.26 L380.3 236.97 L380.8 238.36 L381.4 239.41 L381.9 240.11 L382.4 240.49 L382.9 240.53 L383.4 240.25 L383.9 239.66 L384.4 238.79 L384.9 237.65 L385.4 236.27 L385.9 234.68 L386.4 232.91 L386.9 231.00 L387.4 228.99 L387.9 226.90 L388.4 224.80 L388.9 222.71 L389.4 220.69 L389.9 218.76 L390.4 216.99 L390.9 215.39 L391.4 214.01 L391.9 212.87 L392.4 212.01 L392.9 211.44 L393.4 211.17 L393.9 211.21 L394.4 211.57 L394.9 212.23 L395.4 213.18 L395.9 214.40 L396.4 215.87 L396.9 217.57 L397.4 219.45 L397.9 221.48 L398.4 223.62 L398.9 225.85 L399.4 228.12 L399.9 230.39 L400.4 232.63 L400.9 234.81 L401.4 236.90 L401.9 238.88 L402.4 240.72 L402.9 242.40 L403.4 243.92 L403.9 245.26 L404.4 246.41 L404.9 247.37" stroke="#111111" stroke-width="1.65"/>
</g>
<rect x="262.1" y="174.6" width="142.8" height="85.0" fill="none" stroke="#555555" stroke-width="2.2" stroke-dasharray="2.5 3.4"/>
<text x="321.6" y="192.7" font-size="14" fill="#ff1a1a" text-anchor="start" font-weight="normal" font-style="normal" >~95%</text>
<text x="90.4" y="316.5" font-size="17" fill="#1a1a1a" text-anchor="end" font-weight="normal" font-style="normal" >10</text>
<clipPath id="clip10"><rect x="101.8" y="267.7" width="144.1" height="85.6"/></clipPath>
<g clip-path="url(#clip10)" fill="none" stroke-linejoin="round" stroke-linecap="round">
<path d="M102.2 351.30 L102.7 351.30 L103.2 351.30 L103.7 351.30 L104.2 351.30 L104.7 351.30 L105.2 351.30 L105.7 351.30 L106.2 351.30 L106.7 351.30 L107.2 351.30 L107.7 351.30 L108.2 351.30 L108.7 351.30 L109.2 351.30 L109.7 351.30 L110.2 351.30 L110.7 351.30 L111.2 351.30 L111.7 351.30 L112.2 351.30 L112.7 351.30 L113.2 351.30 L113.7 351.30 L114.2 351.30 L114.7 351.30 L115.2 351.30 L115.7 351.30 L116.2 351.30 L116.7 351.30 L117.2 351.30 L117.7 351.30 L118.2 351.30 L118.7 351.30 L119.2 351.30 L119.7 351.30 L120.2 351.30 L120.7 351.30 L121.2 351.30 L121.7 351.30 L122.2 351.30 L122.7 351.30 L123.2 351.30 L123.7 351.30 L124.2 351.30 L124.7 351.30 L125.2 351.30 L125.7 351.30 L126.3 351.30 L126.8 351.30 L127.3 351.30 L127.8 351.30 L128.3 351.30 L128.8 351.30 L129.3 351.30 L129.8 351.30 L130.3 351.30 L130.8 351.30 L131.3 351.30 L131.8 351.30 L132.3 351.30 L132.8 351.30 L133.3 351.30 L133.8 351.30 L134.3 351.29 L134.8 351.29 L135.3 351.29 L135.8 351.29 L136.3 351.29 L136.8 351.28 L137.3 351.28 L137.8 351.28 L138.3 351.27 L138.8 351.27 L139.3 351.26 L139.8 351.25 L140.3 351.24 L140.8 351.23 L141.3 351.22 L141.8 351.21 L142.3 351.19 L142.8 351.18 L143.3 351.16 L143.8 351.14 L144.3 351.11 L144.8 351.08 L145.3 351.05 L145.8 351.02 L146.3 350.99 L146.8 350.95 L147.3 350.90 L147.8 350.86 L148.3 350.81 L148.8 350.75 L149.3 350.70 L149.8 350.64 L150.3 350.57 L150.8 350.51 L151.3 350.44 L151.8 350.37 L152.3 350.29 L152.8 350.22 L153.3 350.14 L153.8 350.07 L154.3 349.99 L154.8 349.92 L155.3 349.84 L155.8 349.77 L156.3 349.70 L156.8 349.64 L157.3 349.58 L157.8 349.52 L158.3 349.47 L158.8 349.42 L159.3 349.38 L159.8 349.35 L160.3 349.32 L160.8 349.30 L161.3 349.29 L161.8 349.28 L162.3 349.28 L162.8 349.29 L163.3 349.30 L163.8 349.31 L164.3 349.32 L164.8 349.33 L165.3 349.34 L165.8 349.34 L166.3 349.33 L166.8 349.31 L167.3 349.27 L167.8 349.20 L168.3 349.09 L168.8 348.94 L169.3 348.75 L169.8 348.49 L170.3 348.16 L170.8 347.74 L171.3 347.24 L171.8 346.62 L172.3 345.88 L172.8 345.01 L173.3 343.99 L173.9 342.82 L174.4 341.49 L174.9 339.98 L175.4 338.30 L175.9 336.45 L176.4 334.44 L176.9 332.26 L177.4 329.94 L177.9 327.50 L178.4 324.96 L178.9 322.35 L179.4 319.71 L179.9 317.07 L180.4 314.48 L180.9 311.98 L181.4 309.61 L181.9 307.43 L182.4 305.48 L182.9 303.78 L183.4 302.39 L183.9 301.34 L184.4 300.63 L184.9 300.30 L185.4 300.34 L185.9 300.77 L186.4 301.56 L186.9 302.70 L187.4 304.17 L187.9 305.93 L188.4 307.96 L188.9 310.20 L189.4 312.61 L189.9 315.15 L190.4 317.78 L190.9 320.45 L191.4 323.11 L191.9 325.74 L192.4 328.29 L192.9 330.75 L193.4 333.07 L193.9 335.26 L194.4 337.29 L194.9 339.15 L195.4 340.84 L195.9 342.37 L196.4 343.72 L196.9 344.92 L197.4 345.97 L197.9 346.88 L198.4 347.67 L198.9 348.33 L199.4 348.89 L199.9 349.36 L200.4 349.75 L200.9 350.07 L201.4 350.33 L201.9 350.55 L202.4 350.72 L202.9 350.85 L203.4 350.96 L203.9 351.04 L204.4 351.10 L204.9 351.15 L205.4 351.19 L205.9 351.22 L206.4 351.24 L206.9 351.26 L207.4 351.27 L207.9 351.28 L208.4 351.28 L208.9 351.29 L209.4 351.29 L209.9 351.29 L210.4 351.30 L210.9 351.30 L211.4 351.30 L211.9 351.30 L212.4 351.30 L212.9 351.30 L213.4 351.30 L213.9 351.30 L214.4 351.30 L214.9 351.30 L215.4 351.30 L215.9 351.30 L216.4 351.30 L216.9 351.30 L217.4 351.30 L217.9 351.30 L218.4 351.30 L218.9 351.30 L219.4 351.30 L219.9 351.30 L220.4 351.30 L220.9 351.30 L221.4 351.30 L222.0 351.30 L222.5 351.30 L223.0 351.30 L223.5 351.30 L224.0 351.30 L224.5 351.30 L225.0 351.30 L225.5 351.30 L226.0 351.30 L226.5 351.30 L227.0 351.30 L227.5 351.30 L228.0 351.30 L228.5 351.30 L229.0 351.30 L229.5 351.30 L230.0 351.30 L230.5 351.30 L231.0 351.30 L231.5 351.30 L232.0 351.30 L232.5 351.30 L233.0 351.30 L233.5 351.30 L234.0 351.30 L234.5 351.30 L235.0 351.30 L235.5 351.30 L236.0 351.30 L236.5 351.30 L237.0 351.30 L237.5 351.30 L238.0 351.30 L238.5 351.30 L239.0 351.30 L239.5 351.30 L240.0 351.30 L240.5 351.30 L241.0 351.30 L241.5 351.30 L242.0 351.30 L242.5 351.30 L243.0 351.30 L243.5 351.30 L244.0 351.30 L244.5 351.30 L245.0 351.30 L245.5 351.30" stroke="#ff1a1a" stroke-width="1.55"/>
<path d="M102.2 351.30 L102.7 351.30 L103.2 351.30 L103.7 351.30 L104.2 351.30 L104.7 351.30 L105.2 351.30 L105.7 351.30 L106.2 351.30 L106.7 351.30 L107.2 351.30 L107.7 351.30 L108.2 351.30 L108.7 351.29 L109.2 351.29 L109.7 351.29 L110.2 351.29 L110.7 351.29 L111.2 351.28 L111.7 351.28 L112.2 351.28 L112.7 351.27 L113.2 351.27 L113.7 351.26 L114.2 351.25 L114.7 351.24 L115.2 351.24 L115.7 351.22 L116.2 351.21 L116.7 351.20 L117.2 351.18 L117.7 351.16 L118.2 351.14 L118.7 351.12 L119.2 351.10 L119.7 351.07 L120.2 351.04 L120.7 351.01 L121.2 350.98 L121.7 350.94 L122.2 350.90 L122.7 350.86 L123.2 350.82 L123.7 350.77 L124.2 350.72 L124.7 350.67 L125.2 350.62 L125.7 350.56 L126.3 350.51 L126.8 350.45 L127.3 350.39 L127.8 350.34 L128.3 350.28 L128.8 350.22 L129.3 350.17 L129.8 350.12 L130.3 350.07 L130.8 350.02 L131.3 349.98 L131.8 349.94 L132.3 349.90 L132.8 349.87 L133.3 349.85 L133.8 349.83 L134.3 349.81 L134.8 349.80 L135.3 349.80 L135.8 349.80 L136.3 349.81 L136.8 349.82 L137.3 349.84 L137.8 349.86 L138.3 349.89 L138.8 349.92 L139.3 349.95 L139.8 349.98 L140.3 350.01 L140.8 350.04 L141.3 350.07 L141.8 350.08 L142.3 350.09 L142.8 350.09 L143.3 350.07 L143.8 350.02 L144.3 349.95 L144.8 349.85 L145.3 349.70 L145.8 349.51 L146.3 349.25 L146.8 348.93 L147.3 348.53 L147.8 348.04 L148.3 347.45 L148.8 346.74 L149.3 345.91 L149.8 344.94 L150.3 343.82 L150.8 342.55 L151.3 341.11 L151.8 339.51 L152.3 337.74 L152.8 335.81 L153.3 333.72 L153.8 331.49 L154.3 329.13 L154.8 326.68 L155.3 324.14 L155.8 321.57 L156.3 318.99 L156.8 316.44 L157.3 313.97 L157.8 311.62 L158.3 309.43 L158.8 307.45 L159.3 305.71 L159.8 304.26 L160.3 303.12 L160.8 302.32 L161.3 301.88 L161.8 301.80 L162.3 302.09 L162.8 302.74 L163.3 303.74 L163.8 305.07 L164.3 306.69 L164.8 308.58 L165.3 310.68 L165.8 312.98 L166.3 315.41 L166.8 317.93 L167.3 320.51 L167.8 323.10 L168.3 325.66 L168.8 328.17 L169.3 330.58 L169.8 332.88 L170.3 335.04 L170.8 337.06 L171.3 338.91 L171.8 340.61 L172.3 342.13 L172.8 343.50 L173.3 344.71 L173.9 345.77 L174.4 346.69 L174.9 347.49 L175.4 348.16 L175.9 348.73 L176.4 349.21 L176.9 349.61 L177.4 349.94 L177.9 350.20 L178.4 350.42 L178.9 350.59 L179.4 350.72 L179.9 350.83 L180.4 350.91 L180.9 350.97 L181.4 351.02 L181.9 351.05 L182.4 351.07 L182.9 351.09 L183.4 351.10 L183.9 351.10 L184.4 351.10 L184.9 351.10 L185.4 351.09 L185.9 351.09 L186.4 351.08 L186.9 351.07 L187.4 351.06 L187.9 351.05 L188.4 351.04 L188.9 351.03 L189.4 351.01 L189.9 351.00 L190.4 350.99 L190.9 350.97 L191.4 350.96 L191.9 350.94 L192.4 350.93 L192.9 350.91 L193.4 350.90 L193.9 350.88 L194.4 350.86 L194.9 350.85 L195.4 350.83 L195.9 350.81 L196.4 350.79 L196.9 350.77 L197.4 350.75 L197.9 350.73 L198.4 350.71 L198.9 350.69 L199.4 350.67 L199.9 350.65 L200.4 350.63 L200.9 350.61 L201.4 350.59 L201.9 350.57 L202.4 350.54 L202.9 350.52 L203.4 350.50 L203.9 350.48 L204.4 350.45 L204.9 350.43 L205.4 350.41 L205.9 350.39 L206.4 350.36 L206.9 350.34 L207.4 350.32 L207.9 350.29 L208.4 350.27 L208.9 350.25 L209.4 350.23 L209.9 350.21 L210.4 350.18 L210.9 350.16 L211.4 350.14 L211.9 350.12 L212.4 350.10 L212.9 350.08 L213.4 350.06 L213.9 350.04 L214.4 350.02 L214.9 350.01 L215.4 349.99 L215.9 349.97 L216.4 349.96 L216.9 349.94 L217.4 349.93 L217.9 349.91 L218.4 349.90 L218.9 349.89 L219.4 349.87 L219.9 349.86 L220.4 349.85 L220.9 349.84 L221.4 349.84 L222.0 349.83 L222.5 349.82 L223.0 349.82 L223.5 349.81 L224.0 349.81 L224.5 349.80 L225.0 349.80 L225.5 349.80 L226.0 349.80 L226.5 349.80 L227.0 349.80 L227.5 349.80 L228.0 349.81 L228.5 349.81 L229.0 349.82 L229.5 349.82 L230.0 349.83 L230.5 349.84 L231.0 349.84 L231.5 349.85 L232.0 349.86 L232.5 349.87 L233.0 349.87 L233.5 349.87 L234.0 349.87 L234.5 349.87 L235.0 349.85 L235.5 349.83 L236.0 349.79 L236.5 349.74 L237.0 349.66 L237.5 349.55 L238.0 349.40 L238.5 349.21 L239.0 348.95 L239.5 348.62 L240.0 348.21 L240.5 347.70 L241.0 347.06 L241.5 346.30 L242.0 345.38 L242.5 344.30 L243.0 343.04 L243.5 341.59 L244.0 339.95 L244.5 338.10 L245.0 336.07 L245.5 333.86" stroke="#1a1aff" stroke-width="1.55"/>
<path d="M102.2 341.65 L102.7 341.79 L103.2 341.63 L103.7 341.18 L104.2 340.42 L104.7 339.36 L105.2 338.01 L105.7 336.37 L106.2 334.45 L106.7 332.28 L107.2 329.86 L107.7 327.22 L108.2 324.41 L108.7 321.44 L109.2 318.37 L109.7 315.25 L110.2 312.13 L110.7 309.07 L111.2 306.12 L111.7 303.35 L112.2 300.82 L112.7 298.58 L113.2 296.68 L113.7 295.18 L114.2 294.09 L114.7 293.46 L115.2 293.30 L115.7 293.61 L116.2 294.38 L116.7 295.59 L117.2 297.22 L117.7 299.23 L118.2 301.57 L118.7 304.18 L119.2 307.02 L119.7 310.01 L120.2 313.11 L120.7 316.24 L121.2 319.36 L121.7 322.42 L122.2 325.36 L122.7 328.14 L123.2 330.74 L123.7 333.12 L124.2 335.25 L124.7 337.12 L125.2 338.71 L125.7 340.02 L126.3 341.03 L126.8 341.75 L127.3 342.16 L127.8 342.27 L128.3 342.08 L128.8 341.58 L129.3 340.78 L129.8 339.68 L130.3 338.28 L130.8 336.59 L131.3 334.63 L131.8 332.40 L132.3 329.92 L132.8 327.23 L133.3 324.34 L133.8 321.30 L134.3 318.15 L134.8 314.93 L135.3 311.71 L135.8 308.54 L136.3 305.47 L136.8 302.58 L137.3 299.92 L137.8 297.56 L138.3 295.53 L138.8 293.90 L139.3 292.70 L139.8 291.96 L140.3 291.70 L140.8 291.92 L141.3 292.62 L141.8 293.78 L142.3 295.38 L142.8 297.38 L143.3 299.72 L143.8 302.37 L144.3 305.25 L144.8 308.32 L145.3 311.51 L145.8 314.76 L146.3 318.01 L146.8 321.23 L147.3 324.35 L147.8 327.35 L148.3 330.18 L148.8 332.83 L149.3 335.28 L149.8 337.52 L150.3 339.54 L150.8 341.35 L151.3 342.94 L151.8 344.34 L152.3 345.55 L152.8 346.59 L153.3 347.47 L153.8 348.21 L154.3 348.83 L154.8 349.34 L155.3 349.76 L155.8 350.10 L156.3 350.37 L156.8 350.59 L157.3 350.76 L157.8 350.89 L158.3 350.99 L158.8 351.07 L159.3 351.13 L159.8 351.18 L160.3 351.21 L160.8 351.24 L161.3 351.25 L161.8 351.27 L162.3 351.28 L162.8 351.28 L163.3 351.29 L163.8 351.29 L164.3 351.29 L164.8 351.30 L165.3 351.30 L165.8 351.30 L166.3 351.30 L166.8 351.29 L167.3 351.29 L167.8 351.29 L168.3 351.28 L168.8 351.28 L169.3 351.27 L169.8 351.25 L170.3 351.23 L170.8 351.20 L171.3 351.17 L171.8 351.12 L172.3 351.05 L172.8 350.97 L173.3 350.86 L173.9 350.73 L174.4 350.57 L174.9 350.37 L175.4 350.13 L175.9 349.85 L176.4 349.52 L176.9 349.15 L177.4 348.73 L177.9 348.26 L178.4 347.76 L178.9 347.22 L179.4 346.66 L179.9 346.09 L180.4 345.52 L180.9 344.97 L181.4 344.44 L181.9 343.97 L182.4 343.56 L182.9 343.23 L183.4 342.98 L183.9 342.84 L184.4 342.80 L184.9 342.86 L185.4 343.03 L185.9 343.29 L186.4 343.63 L186.9 344.05 L187.4 344.53 L187.9 345.05 L188.4 345.59 L188.9 346.14 L189.4 346.68 L189.9 347.19 L190.4 347.66 L190.9 348.07 L191.4 348.42 L191.9 348.69 L192.4 348.86 L192.9 348.94 L193.4 348.91 L193.9 348.75 L194.4 348.46 L194.9 348.02 L195.4 347.41 L195.9 346.62 L196.4 345.62 L196.9 344.40 L197.4 342.93 L197.9 341.19 L198.4 339.17 L198.9 336.85 L199.4 334.22 L199.9 331.28 L200.4 328.02 L200.9 324.45 L201.4 320.60 L201.9 316.50 L202.4 312.18 L202.9 307.71 L203.4 303.14 L203.9 298.55 L204.4 294.01 L204.9 289.62 L205.4 285.46 L205.9 281.62 L206.4 278.19 L206.9 275.25 L207.4 272.87 L207.9 271.11 L208.4 270.01 L208.9 269.60 L209.4 269.89 L209.9 270.88 L210.4 272.54 L210.9 274.82 L211.4 277.67 L211.9 281.02 L212.4 284.79 L212.9 288.90 L213.4 293.25 L213.9 297.75 L214.4 302.31 L214.9 306.85 L215.4 311.30 L215.9 315.58 L216.4 319.64 L216.9 323.43 L217.4 326.91 L217.9 330.04 L218.4 332.82 L218.9 335.22 L219.4 337.24 L219.9 338.88 L220.4 340.14 L220.9 341.02 L221.4 341.53 L222.0 341.68 L222.5 341.47 L223.0 340.92 L223.5 340.02 L224.0 338.79 L224.5 337.25 L225.0 335.40 L225.5 333.26 L226.0 330.85 L226.5 328.21 L227.0 325.36 L227.5 322.34 L228.0 319.20 L228.5 315.99 L229.0 312.77 L229.5 309.60 L230.0 306.55 L230.5 303.67 L231.0 301.04 L231.5 298.71 L232.0 296.74 L232.5 295.18 L233.0 294.08 L233.5 293.45 L234.0 293.31 L234.5 293.67 L235.0 294.52 L235.5 295.84 L236.0 297.58 L236.5 299.72 L237.0 302.20 L237.5 304.96 L238.0 307.93 L238.5 311.06 L239.0 314.28 L239.5 317.53 L240.0 320.74 L240.5 323.88 L241.0 326.89 L241.5 329.73 L242.0 332.38 L242.5 334.80 L243.0 337.00 L243.5 338.94 L244.0 340.64 L244.5 342.08 L245.0 343.28 L245.5 344.24" stroke="#111111" stroke-width="1.65"/>
</g>
<rect x="102.2" y="267.7" width="143.3" height="85.0" fill="none" stroke="#555555" stroke-width="2.2" stroke-dasharray="2.5 3.4"/>
<text x="170.0" y="285.6" font-size="14" fill="#ff1a1a" text-anchor="start" font-weight="normal" font-style="normal" >N.D.</text>
<clipPath id="clip11"><rect x="261.7" y="267.7" width="143.6" height="85.6"/></clipPath>
<g clip-path="url(#clip11)" fill="none" stroke-linejoin="round" stroke-linecap="round">
<path d="M262.1 351.30 L262.6 351.30 L263.1 351.30 L263.6 351.30 L264.1 351.30 L264.6 351.30 L265.1 351.30 L265.6 351.30 L266.1 351.30 L266.6 351.30 L267.1 351.30 L267.6 351.30 L268.1 351.30 L268.6 351.30 L269.1 351.30 L269.6 351.30 L270.1 351.30 L270.6 351.30 L271.1 351.30 L271.6 351.30 L272.1 351.30 L272.6 351.30 L273.1 351.30 L273.6 351.30 L274.1 351.30 L274.6 351.30 L275.1 351.30 L275.6 351.30 L276.1 351.30 L276.6 351.30 L277.1 351.30 L277.6 351.30 L278.1 351.30 L278.6 351.30 L279.1 351.30 L279.6 351.30 L280.1 351.30 L280.6 351.30 L281.1 351.30 L281.6 351.30 L282.1 351.30 L282.6 351.30 L283.1 351.30 L283.6 351.30 L284.1 351.30 L284.6 351.30 L285.1 351.30 L285.6 351.30 L286.2 351.30 L286.7 351.30 L287.2 351.30 L287.7 351.30 L288.2 351.30 L288.7 351.30 L289.2 351.30 L289.7 351.30 L290.2 351.30 L290.7 351.30 L291.2 351.30 L291.7 351.30 L292.2 351.30 L292.7 351.30 L293.2 351.30 L293.7 351.30 L294.2 351.29 L294.7 351.29 L295.2 351.29 L295.7 351.29 L296.2 351.29 L296.7 351.28 L297.2 351.28 L297.7 351.28 L298.2 351.27 L298.7 351.27 L299.2 351.26 L299.7 351.25 L300.2 351.24 L300.7 351.23 L301.2 351.22 L301.7 351.20 L302.2 351.19 L302.7 351.17 L303.2 351.14 L303.7 351.12 L304.2 351.09 L304.7 351.06 L305.2 351.02 L305.7 350.98 L306.2 350.94 L306.7 350.89 L307.2 350.84 L307.7 350.78 L308.2 350.71 L308.7 350.64 L309.2 350.57 L309.7 350.49 L310.2 350.41 L310.7 350.32 L311.2 350.22 L311.7 350.12 L312.2 350.02 L312.7 349.91 L313.2 349.80 L313.7 349.69 L314.2 349.58 L314.7 349.47 L315.2 349.35 L315.7 349.24 L316.2 349.13 L316.7 349.02 L317.2 348.92 L317.7 348.82 L318.2 348.73 L318.7 348.64 L319.2 348.56 L319.7 348.49 L320.2 348.43 L320.7 348.39 L321.2 348.35 L321.7 348.32 L322.2 348.30 L322.7 348.30 L323.2 348.31 L323.7 348.33 L324.2 348.36 L324.7 348.40 L325.2 348.45 L325.7 348.51 L326.2 348.58 L326.7 348.66 L327.2 348.74 L327.7 348.83 L328.2 348.92 L328.7 349.01 L329.2 349.10 L329.7 349.19 L330.2 349.26 L330.7 349.32 L331.2 349.37 L331.7 349.38 L332.2 349.36 L332.7 349.30 L333.2 349.19 L333.8 349.01 L334.3 348.76 L334.8 348.42 L335.3 347.98 L335.8 347.42 L336.3 346.74 L336.8 345.93 L337.3 344.97 L337.8 343.86 L338.3 342.62 L338.8 341.24 L339.3 339.74 L339.8 338.14 L340.3 336.47 L340.8 334.77 L341.3 333.06 L341.8 331.41 L342.3 329.85 L342.8 328.43 L343.3 327.20 L343.8 326.19 L344.3 325.45 L344.8 325.00 L345.3 324.85 L345.8 325.01 L346.3 325.47 L346.8 326.23 L347.3 327.25 L347.8 328.50 L348.3 329.94 L348.8 331.52 L349.3 333.20 L349.8 334.94 L350.3 336.68 L350.8 338.39 L351.3 340.04 L351.8 341.59 L352.3 343.02 L352.8 344.33 L353.3 345.50 L353.8 346.53 L354.3 347.42 L354.8 348.19 L355.3 348.83 L355.8 349.36 L356.3 349.80 L356.8 350.15 L357.3 350.43 L357.8 350.65 L358.3 350.82 L358.8 350.95 L359.3 351.05 L359.8 351.12 L360.3 351.17 L360.8 351.21 L361.3 351.24 L361.8 351.26 L362.3 351.27 L362.8 351.28 L363.3 351.29 L363.8 351.29 L364.3 351.29 L364.8 351.30 L365.3 351.30 L365.8 351.30 L366.3 351.30 L366.8 351.30 L367.3 351.30 L367.8 351.30 L368.3 351.30 L368.8 351.30 L369.3 351.30 L369.8 351.30 L370.3 351.30 L370.8 351.30 L371.3 351.30 L371.8 351.30 L372.3 351.30 L372.8 351.30 L373.3 351.30 L373.8 351.30 L374.3 351.30 L374.8 351.30 L375.3 351.30 L375.8 351.30 L376.3 351.30 L376.8 351.30 L377.3 351.30 L377.8 351.30 L378.3 351.30 L378.8 351.30 L379.3 351.30 L379.8 351.30 L380.3 351.30 L380.8 351.30 L381.4 351.30 L381.9 351.30 L382.4 351.30 L382.9 351.30 L383.4 351.30 L383.9 351.30 L384.4 351.30 L384.9 351.30 L385.4 351.30 L385.9 351.30 L386.4 351.30 L386.9 351.30 L387.4 351.30 L387.9 351.30 L388.4 351.30 L388.9 351.30 L389.4 351.30 L389.9 351.30 L390.4 351.30 L390.9 351.30 L391.4 351.30 L391.9 351.30 L392.4 351.30 L392.9 351.30 L393.4 351.30 L393.9 351.30 L394.4 351.30 L394.9 351.30 L395.4 351.30 L395.9 351.30 L396.4 351.30 L396.9 351.30 L397.4 351.30 L397.9 351.30 L398.4 351.30 L398.9 351.30 L399.4 351.30 L399.9 351.30 L400.4 351.30 L400.9 351.30 L401.4 351.30 L401.9 351.30 L402.4 351.30 L402.9 351.30 L403.4 351.30 L403.9 351.30 L404.4 351.30 L404.9 351.30" stroke="#ff1a1a" stroke-width="1.55"/>
<path d="M262.1 351.22 L262.6 351.21 L263.1 351.20 L263.6 351.19 L264.1 351.18 L264.6 351.17 L265.1 351.16 L265.6 351.15 L266.1 351.13 L266.6 351.12 L267.1 351.10 L267.6 351.08 L268.1 351.06 L268.6 351.05 L269.1 351.02 L269.6 351.00 L270.1 350.98 L270.6 350.96 L271.1 350.93 L271.6 350.90 L272.1 350.88 L272.6 350.85 L273.1 350.82 L273.6 350.79 L274.1 350.76 L274.6 350.72 L275.1 350.69 L275.6 350.65 L276.1 350.62 L276.6 350.58 L277.1 350.55 L277.6 350.51 L278.1 350.47 L278.6 350.43 L279.1 350.40 L279.6 350.36 L280.1 350.32 L280.6 350.28 L281.1 350.24 L281.6 350.21 L282.1 350.17 L282.6 350.14 L283.1 350.10 L283.6 350.07 L284.1 350.04 L284.6 350.01 L285.1 349.98 L285.6 349.95 L286.2 349.93 L286.7 349.90 L287.2 349.88 L287.7 349.86 L288.2 349.85 L288.7 349.83 L289.2 349.82 L289.7 349.81 L290.2 349.81 L290.7 349.80 L291.2 349.80 L291.7 349.80 L292.2 349.80 L292.7 349.81 L293.2 349.82 L293.7 349.83 L294.2 349.84 L294.7 349.86 L295.2 349.88 L295.7 349.90 L296.2 349.92 L296.7 349.94 L297.2 349.97 L297.7 349.99 L298.2 350.02 L298.7 350.05 L299.2 350.07 L299.7 350.10 L300.2 350.12 L300.7 350.14 L301.2 350.15 L301.7 350.16 L302.2 350.15 L302.7 350.14 L303.2 350.10 L303.7 350.05 L304.2 349.97 L304.7 349.87 L305.2 349.72 L305.7 349.53 L306.2 349.29 L306.7 348.98 L307.2 348.60 L307.7 348.13 L308.2 347.57 L308.7 346.90 L309.2 346.10 L309.7 345.18 L310.2 344.10 L310.7 342.87 L311.2 341.48 L311.7 339.92 L312.2 338.18 L312.7 336.27 L313.2 334.20 L313.7 331.97 L314.2 329.59 L314.7 327.10 L315.2 324.51 L315.7 321.85 L316.2 319.17 L316.7 316.49 L317.2 313.86 L317.7 311.33 L318.2 308.95 L318.7 306.75 L319.2 304.78 L319.7 303.08 L320.2 301.69 L320.7 300.64 L321.2 299.94 L321.7 299.63 L322.2 299.69 L322.7 300.14 L323.2 300.96 L323.7 302.13 L324.2 303.62 L324.7 305.42 L325.2 307.47 L325.7 309.74 L326.2 312.17 L326.7 314.74 L327.2 317.38 L327.7 320.06 L328.2 322.74 L328.7 325.37 L329.2 327.92 L329.7 330.37 L330.2 332.69 L330.7 334.85 L331.2 336.86 L331.7 338.69 L332.2 340.35 L332.7 341.84 L333.2 343.15 L333.8 344.30 L334.3 345.30 L334.8 346.15 L335.3 346.87 L335.8 347.47 L336.3 347.97 L336.8 348.36 L337.3 348.68 L337.8 348.92 L338.3 349.10 L338.8 349.23 L339.3 349.31 L339.8 349.36 L340.3 349.37 L340.8 349.37 L341.3 349.34 L341.8 349.30 L342.3 349.25 L342.8 349.18 L343.3 349.12 L343.8 349.04 L344.3 348.97 L344.8 348.90 L345.3 348.82 L345.8 348.75 L346.3 348.68 L346.8 348.62 L347.3 348.56 L347.8 348.50 L348.3 348.46 L348.8 348.41 L349.3 348.37 L349.8 348.34 L350.3 348.32 L350.8 348.31 L351.3 348.30 L351.8 348.30 L352.3 348.30 L352.8 348.32 L353.3 348.34 L353.8 348.36 L354.3 348.40 L354.8 348.44 L355.3 348.49 L355.8 348.54 L356.3 348.60 L356.8 348.66 L357.3 348.73 L357.8 348.80 L358.3 348.87 L358.8 348.95 L359.3 349.03 L359.8 349.11 L360.3 349.19 L360.8 349.27 L361.3 349.35 L361.8 349.43 L362.3 349.51 L362.8 349.58 L363.3 349.65 L363.8 349.72 L364.3 349.79 L364.8 349.85 L365.3 349.91 L365.8 349.96 L366.3 350.01 L366.8 350.05 L367.3 350.08 L367.8 350.11 L368.3 350.13 L368.8 350.15 L369.3 350.16 L369.8 350.16 L370.3 350.16 L370.8 350.15 L371.3 350.13 L371.8 350.11 L372.3 350.08 L372.8 350.04 L373.3 350.00 L373.8 349.95 L374.3 349.90 L374.8 349.84 L375.3 349.78 L375.8 349.72 L376.3 349.65 L376.8 349.57 L377.3 349.50 L377.8 349.42 L378.3 349.34 L378.8 349.26 L379.3 349.18 L379.8 349.10 L380.3 349.02 L380.8 348.94 L381.4 348.87 L381.9 348.79 L382.4 348.72 L382.9 348.65 L383.4 348.59 L383.9 348.53 L384.4 348.48 L384.9 348.44 L385.4 348.40 L385.9 348.36 L386.4 348.33 L386.9 348.31 L387.4 348.30 L387.9 348.30 L388.4 348.30 L388.9 348.31 L389.4 348.32 L389.9 348.35 L390.4 348.37 L390.9 348.41 L391.4 348.45 L391.9 348.50 L392.4 348.55 L392.9 348.60 L393.4 348.65 L393.9 348.70 L394.4 348.75 L394.9 348.79 L395.4 348.82 L395.9 348.83 L396.4 348.83 L396.9 348.79 L397.4 348.71 L397.9 348.59 L398.4 348.40 L398.9 348.15 L399.4 347.80 L399.9 347.36 L400.4 346.79 L400.9 346.09 L401.4 345.23 L401.9 344.21 L402.4 343.01 L402.9 341.61 L403.4 340.02 L403.9 338.22 L404.4 336.23 L404.9 334.06" stroke="#1a1aff" stroke-width="1.55"/>
<path d="M262.1 343.62 L262.6 344.22 L263.1 344.57 L263.6 344.69 L264.1 344.55 L264.6 344.16 L265.1 343.51 L265.6 342.60 L266.1 341.42 L266.6 339.96 L267.1 338.23 L267.6 336.23 L268.1 333.96 L268.6 331.43 L269.1 328.64 L269.6 325.64 L270.1 322.43 L270.6 319.05 L271.1 315.55 L271.6 311.97 L272.1 308.38 L272.6 304.82 L273.1 301.36 L273.6 298.07 L274.1 295.01 L274.6 292.25 L275.1 289.85 L275.6 287.86 L276.1 286.32 L276.6 285.28 L277.1 284.76 L277.6 284.77 L278.1 285.30 L278.6 286.35 L279.1 287.90 L279.6 289.90 L280.1 292.30 L280.6 295.06 L281.1 298.11 L281.6 301.39 L282.1 304.82 L282.6 308.35 L283.1 311.90 L283.6 315.41 L284.1 318.83 L284.6 322.10 L285.1 325.17 L285.6 328.01 L286.2 330.58 L286.7 332.86 L287.2 334.81 L287.7 336.44 L288.2 337.72 L288.7 338.64 L289.2 339.20 L289.7 339.40 L290.2 339.24 L290.7 338.70 L291.2 337.81 L291.7 336.56 L292.2 334.95 L292.7 333.01 L293.2 330.75 L293.7 328.19 L294.2 325.35 L294.7 322.28 L295.2 318.99 L295.7 315.55 L296.2 312.01 L296.7 308.42 L297.2 304.84 L297.7 301.34 L298.2 298.00 L298.7 294.87 L299.2 292.02 L299.7 289.53 L300.2 287.43 L300.7 285.79 L301.2 284.65 L301.7 284.02 L302.2 283.92 L302.7 284.37 L303.2 285.34 L303.7 286.81 L304.2 288.76 L304.7 291.13 L305.2 293.87 L305.7 296.92 L306.2 300.22 L306.7 303.71 L307.2 307.31 L307.7 310.96 L308.2 314.60 L308.7 318.18 L309.2 321.65 L309.7 324.97 L310.2 328.10 L310.7 331.02 L311.2 333.72 L311.7 336.18 L312.2 338.40 L312.7 340.38 L313.2 342.13 L313.7 343.66 L314.2 344.99 L314.7 346.13 L315.2 347.09 L315.7 347.91 L316.2 348.58 L316.7 349.14 L317.2 349.60 L317.7 349.97 L318.2 350.27 L318.7 350.51 L319.2 350.70 L319.7 350.84 L320.2 350.96 L320.7 351.04 L321.2 351.11 L321.7 351.16 L322.2 351.20 L322.7 351.22 L323.2 351.24 L323.7 351.25 L324.2 351.26 L324.7 351.26 L325.2 351.26 L325.7 351.25 L326.2 351.24 L326.7 351.22 L327.2 351.19 L327.7 351.15 L328.2 351.10 L328.7 351.04 L329.2 350.95 L329.7 350.84 L330.2 350.70 L330.7 350.52 L331.2 350.31 L331.7 350.03 L332.2 349.70 L332.7 349.30 L333.2 348.82 L333.8 348.25 L334.3 347.57 L334.8 346.79 L335.3 345.88 L335.8 344.85 L336.3 343.69 L336.8 342.39 L337.3 340.95 L337.8 339.38 L338.3 337.68 L338.8 335.87 L339.3 333.97 L339.8 331.99 L340.3 329.97 L340.8 327.92 L341.3 325.90 L341.8 323.92 L342.3 322.04 L342.8 320.28 L343.3 318.69 L343.8 317.30 L344.3 316.15 L344.8 315.26 L345.3 314.64 L345.8 314.33 L346.3 314.32 L346.8 314.61 L347.3 315.20 L347.8 316.06 L348.3 317.18 L348.8 318.54 L349.3 320.08 L349.8 321.78 L350.3 323.60 L350.8 325.48 L351.3 327.40 L351.8 329.30 L352.3 331.14 L352.8 332.89 L353.3 334.51 L353.8 335.96 L354.3 337.21 L354.8 338.24 L355.3 339.02 L355.8 339.53 L356.3 339.75 L356.8 339.65 L357.3 339.24 L357.8 338.49 L358.3 337.39 L358.8 335.95 L359.3 334.15 L359.8 331.99 L360.3 329.49 L360.8 326.65 L361.3 323.50 L361.8 320.05 L362.3 316.33 L362.8 312.40 L363.3 308.29 L363.8 304.06 L364.3 299.77 L364.8 295.49 L365.3 291.29 L365.8 287.24 L366.3 283.43 L366.8 279.92 L367.3 276.79 L367.8 274.11 L368.3 271.92 L368.8 270.29 L369.3 269.24 L369.8 268.80 L370.3 268.98 L370.8 269.77 L371.3 271.16 L371.8 273.11 L372.3 275.58 L372.8 278.52 L373.3 281.86 L373.8 285.53 L374.3 289.45 L374.8 293.55 L375.3 297.75 L375.8 301.97 L376.3 306.15 L376.8 310.20 L377.3 314.08 L377.8 317.73 L378.3 321.10 L378.8 324.15 L379.3 326.85 L379.8 329.17 L380.3 331.10 L380.8 332.63 L381.4 333.74 L381.9 334.45 L382.4 334.75 L382.9 334.64 L383.4 334.16 L383.9 333.30 L384.4 332.09 L384.9 330.56 L385.4 328.72 L385.9 326.63 L386.4 324.31 L386.9 321.81 L387.4 319.16 L387.9 316.43 L388.4 313.66 L388.9 310.91 L389.4 308.23 L389.9 305.67 L390.4 303.31 L390.9 301.18 L391.4 299.33 L391.9 297.81 L392.4 296.64 L392.9 295.87 L393.4 295.51 L393.9 295.56 L394.4 296.02 L394.9 296.90 L395.4 298.16 L395.9 299.77 L396.4 301.71 L396.9 303.94 L397.4 306.39 L397.9 309.04 L398.4 311.82 L398.9 314.68 L399.4 317.58 L399.9 320.46 L400.4 323.29 L400.9 326.01 L401.4 328.61 L401.9 331.04 L402.4 333.29 L402.9 335.33 L403.4 337.16 L403.9 338.76 L404.4 340.13 L404.9 341.27" stroke="#111111" stroke-width="1.65"/>
</g>
<rect x="262.1" y="267.7" width="142.8" height="85.0" fill="none" stroke="#555555" stroke-width="2.2" stroke-dasharray="2.5 3.4"/>
<text x="321.6" y="285.6" font-size="14" fill="#ff1a1a"><tspan font-family='"Liberation Sans", "Noto Sans CJK JP", sans-serif' textLength="14.6" lengthAdjust="spacingAndGlyphs">～</tspan><tspan x="336.4">59%</tspan></text>
<text x="90.4" y="409.6" font-size="17" fill="#1a1a1a" text-anchor="end" font-weight="normal" font-style="normal" >1</text>
<clipPath id="clip20"><rect x="101.8" y="360.8" width="144.1" height="85.6"/></clipPath>
<g clip-path="url(#clip20)" fill="none" stroke-linejoin="round" stroke-linecap="round">
<path d="M102.2 444.40 L102.7 444.40 L103.2 444.40 L103.7 444.40 L104.2 444.40 L104.7 444.40 L105.2 444.40 L105.7 444.40 L106.2 444.40 L106.7 444.40 L107.2 444.40 L107.7 444.40 L108.2 444.40 L108.7 444.40 L109.2 444.40 L109.7 444.40 L110.2 444.40 L110.7 444.40 L111.2 444.40 L111.7 444.40 L112.2 444.40 L112.7 444.40 L113.2 444.40 L113.7 444.40 L114.2 444.40 L114.7 444.40 L115.2 444.40 L115.7 444.40 L116.2 444.40 L116.7 444.40 L117.2 444.40 L117.7 444.40 L118.2 444.40 L118.7 444.40 L119.2 444.40 L119.7 444.40 L120.2 444.40 L120.7 444.40 L121.2 444.40 L121.7 444.40 L122.2 444.40 L122.7 444.40 L123.2 444.40 L123.7 444.40 L124.2 444.40 L124.7 444.40 L125.2 444.40 L125.7 444.40 L126.3 444.40 L126.8 444.40 L127.3 444.40 L127.8 444.40 L128.3 444.40 L128.8 444.40 L129.3 444.40 L129.8 444.40 L130.3 444.40 L130.8 444.40 L131.3 444.40 L131.8 444.40 L132.3 444.40 L132.8 444.40 L133.3 444.40 L133.8 444.40 L134.3 444.40 L134.8 444.39 L135.3 444.39 L135.8 444.39 L136.3 444.39 L136.8 444.39 L137.3 444.39 L137.8 444.38 L138.3 444.38 L138.8 444.38 L139.3 444.37 L139.8 444.36 L140.3 444.36 L140.8 444.35 L141.3 444.34 L141.8 444.33 L142.3 444.32 L142.8 444.31 L143.3 444.29 L143.8 444.28 L144.3 444.26 L144.8 444.24 L145.3 444.22 L145.8 444.19 L146.3 444.16 L146.8 444.13 L147.3 444.10 L147.8 444.07 L148.3 444.03 L148.8 443.99 L149.3 443.95 L149.8 443.90 L150.3 443.85 L150.8 443.80 L151.3 443.75 L151.8 443.70 L152.3 443.65 L152.8 443.59 L153.3 443.53 L153.8 443.48 L154.3 443.42 L154.8 443.36 L155.3 443.31 L155.8 443.25 L156.3 443.20 L156.8 443.15 L157.3 443.11 L157.8 443.06 L158.3 443.02 L158.8 442.99 L159.3 442.96 L159.8 442.93 L160.3 442.91 L160.8 442.89 L161.3 442.87 L161.8 442.86 L162.3 442.85 L162.8 442.84 L163.3 442.83 L163.8 442.81 L164.3 442.79 L164.8 442.76 L165.3 442.72 L165.8 442.66 L166.3 442.57 L166.8 442.45 L167.3 442.30 L167.8 442.10 L168.3 441.84 L168.8 441.51 L169.3 441.10 L169.8 440.61 L170.3 440.01 L170.8 439.29 L171.3 438.44 L171.8 437.45 L172.3 436.30 L172.8 434.99 L173.3 433.51 L173.9 431.85 L174.4 430.02 L174.9 428.01 L175.4 425.83 L175.9 423.49 L176.4 421.02 L176.9 418.43 L177.4 415.76 L177.9 413.03 L178.4 410.29 L178.9 407.58 L179.4 404.94 L179.9 402.42 L180.4 400.06 L180.9 397.91 L181.4 396.02 L181.9 394.43 L182.4 393.16 L182.9 392.25 L183.4 391.72 L183.9 391.57 L184.4 391.82 L184.9 392.45 L185.4 393.46 L185.9 394.82 L186.4 396.50 L186.9 398.47 L187.4 400.68 L187.9 403.10 L188.4 405.67 L188.9 408.35 L189.4 411.10 L189.9 413.87 L190.4 416.61 L190.9 419.30 L191.4 421.89 L191.9 424.37 L192.4 426.70 L192.9 428.88 L193.4 430.90 L193.9 432.73 L194.4 434.40 L194.9 435.89 L195.4 437.21 L195.9 438.37 L196.4 439.38 L196.9 440.26 L197.4 441.00 L197.9 441.64 L198.4 442.17 L198.9 442.61 L199.4 442.98 L199.9 443.27 L200.4 443.52 L200.9 443.71 L201.4 443.87 L201.9 443.99 L202.4 444.09 L202.9 444.17 L203.4 444.22 L203.9 444.27 L204.4 444.30 L204.9 444.33 L205.4 444.35 L205.9 444.36 L206.4 444.37 L206.9 444.38 L207.4 444.39 L207.9 444.39 L208.4 444.39 L208.9 444.40 L209.4 444.40 L209.9 444.40 L210.4 444.40 L210.9 444.40 L211.4 444.40 L211.9 444.40 L212.4 444.40 L212.9 444.40 L213.4 444.40 L213.9 444.40 L214.4 444.40 L214.9 444.40 L215.4 444.40 L215.9 444.40 L216.4 444.40 L216.9 444.40 L217.4 444.40 L217.9 444.40 L218.4 444.40 L218.9 444.40 L219.4 444.40 L219.9 444.40 L220.4 444.40 L220.9 444.40 L221.4 444.40 L222.0 444.40 L222.5 444.40 L223.0 444.40 L223.5 444.40 L224.0 444.40 L224.5 444.40 L225.0 444.40 L225.5 444.40 L226.0 444.40 L226.5 444.40 L227.0 444.40 L227.5 444.40 L228.0 444.40 L228.5 444.40 L229.0 444.40 L229.5 444.40 L230.0 444.40 L230.5 444.40 L231.0 444.40 L231.5 444.40 L232.0 444.40 L232.5 444.40 L233.0 444.40 L233.5 444.40 L234.0 444.40 L234.5 444.40 L235.0 444.40 L235.5 444.40 L236.0 444.40 L236.5 444.40 L237.0 444.40 L237.5 444.40 L238.0 444.40 L238.5 444.40 L239.0 444.40 L239.5 444.40 L240.0 444.40 L240.5 444.40 L241.0 444.40 L241.5 444.40 L242.0 444.40 L242.5 444.40 L243.0 444.40 L243.5 444.40 L244.0 444.40 L244.5 444.40 L245.0 444.40 L245.5 444.40" stroke="#ff1a1a" stroke-width="1.55"/>
<path d="M102.2 444.40 L102.7 444.40 L103.2 444.40 L103.7 444.40 L104.2 444.40 L104.7 444.40 L105.2 444.40 L105.7 444.40 L106.2 444.40 L106.7 444.40 L107.2 444.40 L107.7 444.40 L108.2 444.40 L108.7 444.40 L109.2 444.40 L109.7 444.40 L110.2 444.40 L110.7 444.40 L111.2 444.40 L111.7 444.40 L112.2 444.40 L112.7 444.40 L113.2 444.40 L113.7 444.40 L114.2 444.40 L114.7 444.40 L115.2 444.40 L115.7 444.40 L116.2 444.40 L116.7 444.40 L117.2 444.40 L117.7 444.40 L118.2 444.40 L118.7 444.40 L119.2 444.40 L119.7 444.40 L120.2 444.40 L120.7 444.40 L121.2 444.40 L121.7 444.40 L122.2 444.40 L122.7 444.40 L123.2 444.40 L123.7 444.40 L124.2 444.40 L124.7 444.40 L125.2 444.40 L125.7 444.40 L126.3 444.40 L126.8 444.40 L127.3 444.40 L127.8 444.40 L128.3 444.40 L128.8 444.40 L129.3 444.40 L129.8 444.40 L130.3 444.40 L130.8 444.40 L131.3 444.40 L131.8 444.40 L132.3 444.40 L132.8 444.40 L133.3 444.40 L133.8 444.40 L134.3 444.40 L134.8 444.40 L135.3 444.40 L135.8 444.40 L136.3 444.39 L136.8 444.39 L137.3 444.39 L137.8 444.38 L138.3 444.38 L138.8 444.37 L139.3 444.35 L139.8 444.34 L140.3 444.31 L140.8 444.28 L141.3 444.24 L141.8 444.19 L142.3 444.13 L142.8 444.04 L143.3 443.93 L143.8 443.79 L144.3 443.62 L144.8 443.40 L145.3 443.13 L145.8 442.81 L146.3 442.41 L146.8 441.93 L147.3 441.37 L147.8 440.70 L148.3 439.92 L148.8 439.01 L149.3 437.96 L149.8 436.78 L150.3 435.43 L150.8 433.94 L151.3 432.28 L151.8 430.46 L152.3 428.49 L152.8 426.38 L153.3 424.14 L153.8 421.79 L154.3 419.36 L154.8 416.87 L155.3 414.35 L155.8 411.86 L156.3 409.41 L156.8 407.06 L157.3 404.85 L157.8 402.82 L158.3 401.01 L158.8 399.46 L159.3 398.20 L159.8 397.26 L160.3 396.66 L160.8 396.40 L161.3 396.51 L161.8 396.97 L162.3 397.77 L162.8 398.90 L163.3 400.34 L163.8 402.04 L164.3 403.98 L164.8 406.12 L165.3 408.42 L165.8 410.83 L166.3 413.30 L166.8 415.81 L167.3 418.31 L167.8 420.77 L168.3 423.15 L168.8 425.44 L169.3 427.60 L169.8 429.62 L170.3 431.49 L170.8 433.21 L171.3 434.76 L171.8 436.16 L172.3 437.39 L172.8 438.48 L173.3 439.43 L173.9 440.25 L174.4 440.95 L174.9 441.54 L175.4 442.03 L175.9 442.44 L176.4 442.77 L176.9 443.04 L177.4 443.25 L177.9 443.41 L178.4 443.54 L178.9 443.63 L179.4 443.69 L179.9 443.74 L180.4 443.76 L180.9 443.77 L181.4 443.76 L181.9 443.75 L182.4 443.73 L182.9 443.70 L183.4 443.67 L183.9 443.63 L184.4 443.59 L184.9 443.55 L185.4 443.51 L185.9 443.46 L186.4 443.42 L186.9 443.38 L187.4 443.33 L187.9 443.29 L188.4 443.25 L188.9 443.21 L189.4 443.17 L189.9 443.13 L190.4 443.09 L190.9 443.06 L191.4 443.03 L191.9 443.00 L192.4 442.98 L192.9 442.96 L193.4 442.94 L193.9 442.92 L194.4 442.91 L194.9 442.90 L195.4 442.90 L195.9 442.90 L196.4 442.90 L196.9 442.91 L197.4 442.92 L197.9 442.94 L198.4 442.96 L198.9 442.98 L199.4 443.00 L199.9 443.03 L200.4 443.06 L200.9 443.09 L201.4 443.13 L201.9 443.17 L202.4 443.21 L202.9 443.25 L203.4 443.29 L203.9 443.34 L204.4 443.38 L204.9 443.42 L205.4 443.47 L205.9 443.52 L206.4 443.56 L206.9 443.61 L207.4 443.65 L207.9 443.69 L208.4 443.74 L208.9 443.78 L209.4 443.82 L209.9 443.86 L210.4 443.90 L210.9 443.93 L211.4 443.97 L211.9 444.00 L212.4 444.03 L212.9 444.06 L213.4 444.09 L213.9 444.12 L214.4 444.14 L214.9 444.17 L215.4 444.19 L215.9 444.21 L216.4 444.23 L216.9 444.25 L217.4 444.26 L217.9 444.28 L218.4 444.29 L218.9 444.30 L219.4 444.31 L219.9 444.32 L220.4 444.33 L220.9 444.34 L221.4 444.35 L222.0 444.35 L222.5 444.36 L223.0 444.36 L223.5 444.37 L224.0 444.37 L224.5 444.38 L225.0 444.38 L225.5 444.38 L226.0 444.38 L226.5 444.39 L227.0 444.39 L227.5 444.39 L228.0 444.39 L228.5 444.39 L229.0 444.39 L229.5 444.39 L230.0 444.39 L230.5 444.39 L231.0 444.39 L231.5 444.39 L232.0 444.39 L232.5 444.38 L233.0 444.38 L233.5 444.37 L234.0 444.35 L234.5 444.33 L235.0 444.30 L235.5 444.27 L236.0 444.21 L236.5 444.14 L237.0 444.04 L237.5 443.92 L238.0 443.75 L238.5 443.53 L239.0 443.26 L239.5 442.91 L240.0 442.48 L240.5 441.94 L241.0 441.29 L241.5 440.50 L242.0 439.56 L242.5 438.46 L243.0 437.18 L243.5 435.71 L244.0 434.04 L244.5 432.17 L245.0 430.12 L245.5 427.89" stroke="#1a1aff" stroke-width="1.55"/>
<path d="M102.2 428.25 L102.7 428.56 L103.2 428.61 L103.7 428.40 L104.2 427.92 L104.7 427.17 L105.2 426.17 L105.7 424.93 L106.2 423.45 L106.7 421.75 L107.2 419.86 L107.7 417.79 L108.2 415.57 L108.7 413.24 L109.2 410.82 L109.7 408.36 L110.2 405.88 L110.7 403.42 L111.2 401.03 L111.7 398.75 L112.2 396.61 L112.7 394.65 L113.2 392.91 L113.7 391.41 L114.2 390.19 L114.7 389.26 L115.2 388.65 L115.7 388.37 L116.2 388.41 L116.7 388.79 L117.2 389.49 L117.7 390.50 L118.2 391.80 L118.7 393.37 L119.2 395.17 L119.7 397.18 L120.2 399.35 L120.7 401.65 L121.2 404.05 L121.7 406.49 L122.2 408.94 L122.7 411.36 L123.2 413.72 L123.7 415.97 L124.2 418.08 L124.7 420.03 L125.2 421.79 L125.7 423.32 L126.3 424.63 L126.8 425.67 L127.3 426.45 L127.8 426.95 L128.3 427.17 L128.8 427.09 L129.3 426.73 L129.8 426.09 L130.3 425.16 L130.8 423.97 L131.3 422.52 L131.8 420.83 L132.3 418.93 L132.8 416.83 L133.3 414.57 L133.8 412.18 L134.3 409.68 L134.8 407.12 L135.3 404.54 L135.8 401.98 L136.3 399.47 L136.8 397.06 L137.3 394.80 L137.8 392.71 L138.3 390.85 L138.8 389.23 L139.3 387.90 L139.8 386.87 L140.3 386.18 L140.8 385.82 L141.3 385.81 L141.8 386.15 L142.3 386.84 L142.8 387.85 L143.3 389.18 L143.8 390.80 L144.3 392.69 L144.8 394.81 L145.3 397.12 L145.8 399.60 L146.3 402.21 L146.8 404.90 L147.3 407.64 L147.8 410.39 L148.3 413.13 L148.8 415.82 L149.3 418.43 L149.8 420.95 L150.3 423.35 L150.8 425.62 L151.3 427.74 L151.8 429.72 L152.3 431.53 L152.8 433.19 L153.3 434.70 L153.8 436.05 L154.3 437.26 L154.8 438.32 L155.3 439.26 L155.8 440.09 L156.3 440.80 L156.8 441.41 L157.3 441.93 L157.8 442.38 L158.3 442.75 L158.8 443.06 L159.3 443.32 L159.8 443.54 L160.3 443.71 L160.8 443.86 L161.3 443.97 L161.8 444.07 L162.3 444.14 L162.8 444.20 L163.3 444.25 L163.8 444.28 L164.3 444.31 L164.8 444.33 L165.3 444.34 L165.8 444.36 L166.3 444.36 L166.8 444.37 L167.3 444.37 L167.8 444.36 L168.3 444.36 L168.8 444.35 L169.3 444.33 L169.8 444.31 L170.3 444.29 L170.8 444.26 L171.3 444.22 L171.8 444.17 L172.3 444.12 L172.8 444.05 L173.3 443.97 L173.9 443.89 L174.4 443.79 L174.9 443.67 L175.4 443.55 L175.9 443.41 L176.4 443.26 L176.9 443.10 L177.4 442.94 L177.9 442.77 L178.4 442.60 L178.9 442.43 L179.4 442.27 L179.9 442.12 L180.4 441.98 L180.9 441.86 L181.4 441.75 L181.9 441.67 L182.4 441.62 L182.9 441.59 L183.4 441.59 L183.9 441.62 L184.4 441.67 L184.9 441.75 L185.4 441.84 L185.9 441.95 L186.4 442.07 L186.9 442.19 L187.4 442.32 L187.9 442.43 L188.4 442.53 L188.9 442.60 L189.4 442.65 L189.9 442.65 L190.4 442.61 L190.9 442.50 L191.4 442.33 L191.9 442.07 L192.4 441.71 L192.9 441.25 L193.4 440.65 L193.9 439.92 L194.4 439.03 L194.9 437.96 L195.4 436.70 L195.9 435.23 L196.4 433.54 L196.9 431.60 L197.4 429.42 L197.9 426.98 L198.4 424.28 L198.9 421.33 L199.4 418.12 L199.9 414.68 L200.4 411.03 L200.9 407.21 L201.4 403.23 L201.9 399.16 L202.4 395.05 L202.9 390.95 L203.4 386.92 L203.9 383.03 L204.4 379.35 L204.9 375.95 L205.4 372.88 L205.9 370.21 L206.4 368.00 L206.9 366.29 L207.4 365.11 L207.9 364.49 L208.4 364.45 L208.9 364.98 L209.4 366.07 L209.9 367.70 L210.4 369.83 L210.9 372.42 L211.4 375.42 L211.9 378.76 L212.4 382.38 L212.9 386.22 L213.4 390.19 L213.9 394.23 L214.4 398.29 L214.9 402.28 L215.4 406.16 L215.9 409.88 L216.4 413.39 L216.9 416.65 L217.4 419.63 L217.9 422.30 L218.4 424.64 L218.9 426.65 L219.4 428.30 L219.9 429.60 L220.4 430.54 L220.9 431.12 L221.4 431.35 L222.0 431.22 L222.5 430.75 L223.0 429.95 L223.5 428.82 L224.0 427.38 L224.5 425.65 L225.0 423.65 L225.5 421.39 L226.0 418.91 L226.5 416.24 L227.0 413.42 L227.5 410.48 L228.0 407.47 L228.5 404.44 L229.0 401.44 L229.5 398.52 L230.0 395.74 L230.5 393.15 L231.0 390.80 L231.5 388.73 L232.0 387.00 L232.5 385.64 L233.0 384.67 L233.5 384.12 L234.0 384.00 L234.5 384.31 L235.0 385.06 L235.5 386.21 L236.0 387.75 L236.5 389.64 L237.0 391.84 L237.5 394.32 L238.0 397.01 L238.5 399.88 L239.0 402.86 L239.5 405.91 L240.0 408.97 L240.5 412.01 L241.0 414.97 L241.5 417.82 L242.0 420.52 L242.5 423.05 L243.0 425.38 L243.5 427.50 L244.0 429.39 L244.5 431.04 L245.0 432.46 L245.5 433.64" stroke="#111111" stroke-width="1.65"/>
</g>
<rect x="102.2" y="360.8" width="143.3" height="85.0" fill="none" stroke="#555555" stroke-width="2.2" stroke-dasharray="2.5 3.4"/>
<text x="170.0" y="380.2" font-size="14" fill="#ff1a1a" text-anchor="start" font-weight="normal" font-style="normal" >N.D.</text>
<clipPath id="clip21"><rect x="261.7" y="360.8" width="143.6" height="85.6"/></clipPath>
<g clip-path="url(#clip21)" fill="none" stroke-linejoin="round" stroke-linecap="round">
<path d="M262.1 444.40 L262.6 444.40 L263.1 444.40 L263.6 444.40 L264.1 444.40 L264.6 444.40 L265.1 444.40 L265.6 444.40 L266.1 444.40 L266.6 444.40 L267.1 444.40 L267.6 444.40 L268.1 444.40 L268.6 444.40 L269.1 444.40 L269.6 444.40 L270.1 444.40 L270.6 444.40 L271.1 444.40 L271.6 444.40 L272.1 444.40 L272.6 444.40 L273.1 444.40 L273.6 444.40 L274.1 444.40 L274.6 444.40 L275.1 444.40 L275.6 444.40 L276.1 444.40 L276.6 444.40 L277.1 444.40 L277.6 444.40 L278.1 444.40 L278.6 444.40 L279.1 444.40 L279.6 444.40 L280.1 444.40 L280.6 444.40 L281.1 444.40 L281.6 444.40 L282.1 444.40 L282.6 444.40 L283.1 444.40 L283.6 444.40 L284.1 444.40 L284.6 444.40 L285.1 444.40 L285.6 444.40 L286.2 444.40 L286.7 444.40 L287.2 444.40 L287.7 444.40 L288.2 444.40 L288.7 444.40 L289.2 444.40 L289.7 444.40 L290.2 444.40 L290.7 444.40 L291.2 444.40 L291.7 444.40 L292.2 444.40 L292.7 444.40 L293.2 444.40 L293.7 444.40 L294.2 444.40 L294.7 444.40 L295.2 444.39 L295.7 444.39 L296.2 444.39 L296.7 444.39 L297.2 444.39 L297.7 444.38 L298.2 444.38 L298.7 444.38 L299.2 444.37 L299.7 444.37 L300.2 444.36 L300.7 444.35 L301.2 444.35 L301.7 444.34 L302.2 444.32 L302.7 444.31 L303.2 444.30 L303.7 444.28 L304.2 444.26 L304.7 444.24 L305.2 444.21 L305.7 444.19 L306.2 444.16 L306.7 444.13 L307.2 444.09 L307.7 444.05 L308.2 444.01 L308.7 443.96 L309.2 443.91 L309.7 443.86 L310.2 443.80 L310.7 443.74 L311.2 443.68 L311.7 443.62 L312.2 443.55 L312.7 443.48 L313.2 443.40 L313.7 443.33 L314.2 443.25 L314.7 443.18 L315.2 443.10 L315.7 443.03 L316.2 442.95 L316.7 442.88 L317.2 442.81 L317.7 442.75 L318.2 442.68 L318.7 442.63 L319.2 442.58 L319.7 442.53 L320.2 442.49 L320.7 442.46 L321.2 442.43 L321.7 442.41 L322.2 442.40 L322.7 442.40 L323.2 442.41 L323.7 442.42 L324.2 442.44 L324.7 442.47 L325.2 442.50 L325.7 442.54 L326.2 442.59 L326.7 442.64 L327.2 442.70 L327.7 442.76 L328.2 442.82 L328.7 442.89 L329.2 442.95 L329.7 443.01 L330.2 443.06 L330.7 443.11 L331.2 443.15 L331.7 443.17 L332.2 443.16 L332.7 443.13 L333.2 443.07 L333.8 442.95 L334.3 442.78 L334.8 442.54 L335.3 442.21 L335.8 441.78 L336.3 441.24 L336.8 440.57 L337.3 439.75 L337.8 438.77 L338.3 437.63 L338.8 436.31 L339.3 434.81 L339.8 433.15 L340.3 431.33 L340.8 429.37 L341.3 427.31 L341.8 425.19 L342.3 423.05 L342.8 420.94 L343.3 418.92 L343.8 417.05 L344.3 415.39 L344.8 413.98 L345.3 412.88 L345.8 412.12 L346.3 411.73 L346.8 411.72 L347.3 412.10 L347.8 412.85 L348.3 413.95 L348.8 415.36 L349.3 417.02 L349.8 418.90 L350.3 420.92 L350.8 423.04 L351.3 425.20 L351.8 427.35 L352.3 429.43 L352.8 431.41 L353.3 433.26 L353.8 434.97 L354.3 436.50 L354.8 437.87 L355.3 439.06 L355.8 440.08 L356.3 440.95 L356.8 441.68 L357.3 442.28 L357.8 442.77 L358.3 443.16 L358.8 443.46 L359.3 443.70 L359.8 443.89 L360.3 444.03 L360.8 444.13 L361.3 444.21 L361.8 444.27 L362.3 444.31 L362.8 444.34 L363.3 444.36 L363.8 444.37 L364.3 444.38 L364.8 444.39 L365.3 444.39 L365.8 444.39 L366.3 444.40 L366.8 444.40 L367.3 444.40 L367.8 444.40 L368.3 444.40 L368.8 444.40 L369.3 444.40 L369.8 444.40 L370.3 444.40 L370.8 444.40 L371.3 444.40 L371.8 444.40 L372.3 444.40 L372.8 444.40 L373.3 444.40 L373.8 444.40 L374.3 444.40 L374.8 444.40 L375.3 444.40 L375.8 444.40 L376.3 444.40 L376.8 444.40 L377.3 444.40 L377.8 444.40 L378.3 444.40 L378.8 444.40 L379.3 444.40 L379.8 444.40 L380.3 444.40 L380.8 444.40 L381.4 444.40 L381.9 444.40 L382.4 444.40 L382.9 444.40 L383.4 444.40 L383.9 444.40 L384.4 444.40 L384.9 444.40 L385.4 444.40 L385.9 444.40 L386.4 444.40 L386.9 444.40 L387.4 444.40 L387.9 444.40 L388.4 444.40 L388.9 444.40 L389.4 444.40 L389.9 444.40 L390.4 444.40 L390.9 444.40 L391.4 444.40 L391.9 444.40 L392.4 444.40 L392.9 444.40 L393.4 444.40 L393.9 444.40 L394.4 444.40 L394.9 444.40 L395.4 444.40 L395.9 444.40 L396.4 444.40 L396.9 444.40 L397.4 444.40 L397.9 444.40 L398.4 444.40 L398.9 444.40 L399.4 444.40 L399.9 444.40 L400.4 444.40 L400.9 444.40 L401.4 444.40 L401.9 444.40 L402.4 444.40 L402.9 444.40 L403.4 444.40 L403.9 444.40 L404.4 444.40 L404.9 444.40" stroke="#ff1a1a" stroke-width="1.55"/>
<path d="M262.1 444.40 L262.6 444.39 L263.1 444.39 L263.6 444.39 L264.1 444.39 L264.6 444.39 L265.1 444.39 L265.6 444.39 L266.1 444.38 L266.6 444.38 L267.1 444.38 L267.6 444.38 L268.1 444.37 L268.6 444.37 L269.1 444.36 L269.6 444.36 L270.1 444.35 L270.6 444.34 L271.1 444.34 L271.6 444.33 L272.1 444.32 L272.6 444.31 L273.1 444.30 L273.6 444.28 L274.1 444.27 L274.6 444.25 L275.1 444.24 L275.6 444.22 L276.1 444.20 L276.6 444.18 L277.1 444.16 L277.6 444.13 L278.1 444.11 L278.6 444.08 L279.1 444.05 L279.6 444.02 L280.1 443.99 L280.6 443.96 L281.1 443.92 L281.6 443.88 L282.1 443.84 L282.6 443.80 L283.1 443.76 L283.6 443.72 L284.1 443.68 L284.6 443.63 L285.1 443.59 L285.6 443.54 L286.2 443.50 L286.7 443.45 L287.2 443.41 L287.7 443.36 L288.2 443.32 L288.7 443.27 L289.2 443.23 L289.7 443.19 L290.2 443.15 L290.7 443.12 L291.2 443.08 L291.7 443.05 L292.2 443.02 L292.7 442.99 L293.2 442.97 L293.7 442.95 L294.2 442.93 L294.7 442.92 L295.2 442.91 L295.7 442.90 L296.2 442.90 L296.7 442.90 L297.2 442.90 L297.7 442.91 L298.2 442.92 L298.7 442.93 L299.2 442.94 L299.7 442.96 L300.2 442.97 L300.7 442.99 L301.2 443.00 L301.7 443.01 L302.2 443.01 L302.7 443.00 L303.2 442.99 L303.7 442.95 L304.2 442.90 L304.7 442.82 L305.2 442.71 L305.7 442.56 L306.2 442.36 L306.7 442.11 L307.2 441.80 L307.7 441.41 L308.2 440.93 L308.7 440.35 L309.2 439.67 L309.7 438.86 L310.2 437.91 L310.7 436.83 L311.2 435.59 L311.7 434.19 L312.2 432.62 L312.7 430.89 L313.2 429.00 L313.7 426.95 L314.2 424.75 L314.7 422.43 L315.2 420.01 L315.7 417.51 L316.2 414.96 L316.7 412.39 L317.2 409.86 L317.7 407.40 L318.2 405.05 L318.7 402.85 L319.2 400.86 L319.7 399.10 L320.2 397.63 L320.7 396.46 L321.2 395.62 L321.7 395.14 L322.2 395.02 L322.7 395.27 L323.2 395.87 L323.7 396.82 L324.2 398.10 L324.7 399.68 L325.2 401.52 L325.7 403.59 L326.2 405.84 L326.7 408.24 L327.2 410.73 L327.7 413.29 L328.2 415.85 L328.7 418.39 L329.2 420.87 L329.7 423.27 L330.2 425.55 L330.7 427.69 L331.2 429.69 L331.7 431.53 L332.2 433.20 L332.7 434.71 L333.2 436.05 L333.8 437.23 L334.3 438.26 L334.8 439.15 L335.3 439.91 L335.8 440.54 L336.3 441.07 L336.8 441.50 L337.3 441.85 L337.8 442.12 L338.3 442.33 L338.8 442.49 L339.3 442.60 L339.8 442.67 L340.3 442.71 L340.8 442.72 L341.3 442.71 L341.8 442.69 L342.3 442.66 L342.8 442.61 L343.3 442.56 L343.8 442.51 L344.3 442.45 L344.8 442.39 L345.3 442.33 L345.8 442.27 L346.3 442.22 L346.8 442.17 L347.3 442.12 L347.8 442.07 L348.3 442.03 L348.8 441.99 L349.3 441.96 L349.8 441.94 L350.3 441.92 L350.8 441.91 L351.3 441.90 L351.8 441.90 L352.3 441.91 L352.8 441.92 L353.3 441.94 L353.8 441.96 L354.3 441.99 L354.8 442.03 L355.3 442.07 L355.8 442.11 L356.3 442.16 L356.8 442.22 L357.3 442.28 L357.8 442.34 L358.3 442.41 L358.8 442.48 L359.3 442.55 L359.8 442.62 L360.3 442.69 L360.8 442.77 L361.3 442.84 L361.8 442.92 L362.3 443.00 L362.8 443.07 L363.3 443.15 L363.8 443.22 L364.3 443.29 L364.8 443.36 L365.3 443.43 L365.8 443.49 L366.3 443.56 L366.8 443.62 L367.3 443.68 L367.8 443.73 L368.3 443.79 L368.8 443.84 L369.3 443.88 L369.8 443.93 L370.3 443.97 L370.8 444.01 L371.3 444.05 L371.8 444.08 L372.3 444.11 L372.8 444.14 L373.3 444.17 L373.8 444.19 L374.3 444.21 L374.8 444.23 L375.3 444.25 L375.8 444.27 L376.3 444.28 L376.8 444.30 L377.3 444.31 L377.8 444.32 L378.3 444.33 L378.8 444.34 L379.3 444.35 L379.8 444.35 L380.3 444.36 L380.8 444.37 L381.4 444.37 L381.9 444.37 L382.4 444.38 L382.9 444.38 L383.4 444.38 L383.9 444.39 L384.4 444.39 L384.9 444.39 L385.4 444.39 L385.9 444.39 L386.4 444.39 L386.9 444.39 L387.4 444.40 L387.9 444.40 L388.4 444.40 L388.9 444.40 L389.4 444.40 L389.9 444.40 L390.4 444.39 L390.9 444.39 L391.4 444.39 L391.9 444.38 L392.4 444.38 L392.9 444.37 L393.4 444.35 L393.9 444.33 L394.4 444.30 L394.9 444.27 L395.4 444.21 L395.9 444.14 L396.4 444.04 L396.9 443.92 L397.4 443.75 L397.9 443.53 L398.4 443.26 L398.9 442.91 L399.4 442.48 L399.9 441.94 L400.4 441.29 L400.9 440.50 L401.4 439.56 L401.9 438.46 L402.4 437.18 L402.9 435.71 L403.4 434.04 L403.9 432.17 L404.4 430.12 L404.9 427.89" stroke="#1a1aff" stroke-width="1.55"/>
<path d="M262.1 437.07 L262.6 437.60 L263.1 437.88 L263.6 437.91 L264.1 437.69 L264.6 437.21 L265.1 436.46 L265.6 435.45 L266.1 434.18 L266.6 432.63 L267.1 430.80 L267.6 428.71 L268.1 426.36 L268.6 423.75 L269.1 420.92 L269.6 417.88 L270.1 414.67 L270.6 411.32 L271.1 407.89 L271.6 404.43 L272.1 400.99 L272.6 397.64 L273.1 394.44 L273.6 391.47 L274.1 388.78 L274.6 386.43 L275.1 384.49 L275.6 382.99 L276.1 381.97 L276.6 381.46 L277.1 381.47 L277.6 382.00 L278.1 383.03 L278.6 384.55 L279.1 386.51 L279.6 388.87 L280.1 391.56 L280.6 394.54 L281.1 397.74 L281.6 401.08 L282.1 404.51 L282.6 407.95 L283.1 411.35 L283.6 414.65 L284.1 417.81 L284.6 420.78 L285.1 423.53 L285.6 426.02 L286.2 428.24 L286.7 430.17 L287.2 431.79 L287.7 433.10 L288.2 434.10 L288.7 434.77 L289.2 435.12 L289.7 435.14 L290.2 434.84 L290.7 434.22 L291.2 433.28 L291.7 432.02 L292.2 430.44 L292.7 428.56 L293.2 426.39 L293.7 423.94 L294.2 421.23 L294.7 418.29 L295.2 415.16 L295.7 411.88 L296.2 408.49 L296.7 405.05 L297.2 401.61 L297.7 398.25 L298.2 395.03 L298.7 392.01 L299.2 389.27 L299.7 386.85 L300.2 384.83 L300.7 383.24 L301.2 382.13 L301.7 381.52 L302.2 381.43 L302.7 381.86 L303.2 382.79 L303.7 384.22 L304.2 386.10 L304.7 388.39 L305.2 391.03 L305.7 393.97 L306.2 397.14 L306.7 400.48 L307.2 403.92 L307.7 407.39 L308.2 410.85 L308.7 414.24 L309.2 417.51 L309.7 420.62 L310.2 423.55 L310.7 426.27 L311.2 428.76 L311.7 431.02 L312.2 433.05 L312.7 434.85 L313.2 436.43 L313.7 437.81 L314.2 438.99 L314.7 440.00 L315.2 440.85 L315.7 441.56 L316.2 442.14 L316.7 442.62 L317.2 443.01 L317.7 443.33 L318.2 443.58 L318.7 443.77 L319.2 443.93 L319.7 444.04 L320.2 444.14 L320.7 444.21 L321.2 444.26 L321.7 444.30 L322.2 444.33 L322.7 444.35 L323.2 444.36 L323.7 444.37 L324.2 444.38 L324.7 444.39 L325.2 444.39 L325.7 444.39 L326.2 444.39 L326.7 444.39 L327.2 444.39 L327.7 444.39 L328.2 444.39 L328.7 444.38 L329.2 444.38 L329.7 444.36 L330.2 444.35 L330.7 444.32 L331.2 444.29 L331.7 444.24 L332.2 444.18 L332.7 444.09 L333.2 443.97 L333.8 443.82 L334.3 443.62 L334.8 443.36 L335.3 443.03 L335.8 442.63 L336.3 442.12 L336.8 441.51 L337.3 440.78 L337.8 439.92 L338.3 438.92 L338.8 437.77 L339.3 436.47 L339.8 435.04 L340.3 433.48 L340.8 431.80 L341.3 430.04 L341.8 428.23 L342.3 426.40 L342.8 424.60 L343.3 422.88 L343.8 421.29 L344.3 419.87 L344.8 418.66 L345.3 417.72 L345.8 417.07 L346.3 416.74 L346.8 416.73 L347.3 417.04 L347.8 417.67 L348.3 418.58 L348.8 419.76 L349.3 421.14 L349.8 422.70 L350.3 424.38 L350.8 426.13 L351.3 427.88 L351.8 429.61 L352.3 431.25 L352.8 432.78 L353.3 434.14 L353.8 435.33 L354.3 436.30 L354.8 437.05 L355.3 437.55 L355.8 437.80 L356.3 437.77 L356.8 437.47 L357.3 436.88 L357.8 435.98 L358.3 434.78 L358.8 433.27 L359.3 431.43 L359.8 429.27 L360.3 426.77 L360.8 423.96 L361.3 420.82 L361.8 417.39 L362.3 413.68 L362.8 409.72 L363.3 405.57 L363.8 401.27 L364.3 396.87 L364.8 392.47 L365.3 388.11 L365.8 383.90 L366.3 379.90 L366.8 376.21 L367.3 372.91 L367.8 370.06 L368.3 367.74 L368.8 366.00 L369.3 364.88 L369.8 364.41 L370.3 364.60 L370.8 365.46 L371.3 366.94 L371.8 369.03 L372.3 371.66 L372.8 374.78 L373.3 378.31 L373.8 382.17 L374.3 386.29 L374.8 390.56 L375.3 394.93 L375.8 399.29 L376.3 403.57 L376.8 407.72 L377.3 411.67 L377.8 415.36 L378.3 418.76 L378.8 421.84 L379.3 424.56 L379.8 426.92 L380.3 428.90 L380.8 430.49 L381.4 431.70 L381.9 432.52 L382.4 432.96 L382.9 433.03 L383.4 432.73 L383.9 432.08 L384.4 431.08 L384.9 429.75 L385.4 428.12 L385.9 426.19 L386.4 423.99 L386.9 421.56 L387.4 418.92 L387.9 416.12 L388.4 413.20 L388.9 410.22 L389.4 407.21 L389.9 404.25 L390.4 401.40 L390.9 398.70 L391.4 396.23 L391.9 394.04 L392.4 392.17 L392.9 390.69 L393.4 389.61 L393.9 388.98 L394.4 388.80 L394.9 389.07 L395.4 389.80 L395.9 390.97 L396.4 392.54 L396.9 394.48 L397.4 396.74 L397.9 399.27 L398.4 402.01 L398.9 404.91 L399.4 407.91 L399.9 410.94 L400.4 413.96 L400.9 416.91 L401.4 419.75 L401.9 422.45 L402.4 424.96 L402.9 427.27 L403.4 429.35 L403.9 431.19 L404.4 432.78 L404.9 434.13" stroke="#111111" stroke-width="1.65"/>
</g>
<rect x="262.1" y="360.8" width="142.8" height="85.0" fill="none" stroke="#555555" stroke-width="2.2" stroke-dasharray="2.5 3.4"/>
<text x="321.6" y="380.2" font-size="14" fill="#ff1a1a"><tspan font-family='"Liberation Sans", "Noto Sans CJK JP", sans-serif' textLength="14.6" lengthAdjust="spacingAndGlyphs">～</tspan><tspan x="336.4">46%</tspan></text>
<text x="90.4" y="502.7" font-size="17" fill="#1a1a1a" text-anchor="end" font-weight="normal" font-style="normal" >0.1</text>
<clipPath id="clip30"><rect x="101.8" y="453.9" width="144.1" height="85.6"/></clipPath>
<g clip-path="url(#clip30)" fill="none" stroke-linejoin="round" stroke-linecap="round">
<path d="M102.2 537.50 L102.7 537.50 L103.2 537.50 L103.7 537.50 L104.2 537.50 L104.7 537.50 L105.2 537.50 L105.7 537.50 L106.2 537.50 L106.7 537.50 L107.2 537.50 L107.7 537.50 L108.2 537.50 L108.7 537.50 L109.2 537.50 L109.7 537.50 L110.2 537.50 L110.7 537.50 L111.2 537.50 L111.7 537.50 L112.2 537.50 L112.7 537.50 L113.2 537.50 L113.7 537.50 L114.2 537.50 L114.7 537.50 L115.2 537.50 L115.7 537.50 L116.2 537.50 L116.7 537.50 L117.2 537.50 L117.7 537.50 L118.2 537.50 L118.7 537.50 L119.2 537.50 L119.7 537.50 L120.2 537.50 L120.7 537.50 L121.2 537.50 L121.7 537.50 L122.2 537.50 L122.7 537.50 L123.2 537.50 L123.7 537.50 L124.2 537.50 L124.7 537.50 L125.2 537.50 L125.7 537.50 L126.3 537.50 L126.8 537.50 L127.3 537.50 L127.8 537.50 L128.3 537.50 L128.8 537.50 L129.3 537.50 L129.8 537.50 L130.3 537.50 L130.8 537.50 L131.3 537.50 L131.8 537.50 L132.3 537.50 L132.8 537.50 L133.3 537.50 L133.8 537.50 L134.3 537.50 L134.8 537.50 L135.3 537.50 L135.8 537.50 L136.3 537.50 L136.8 537.50 L137.3 537.50 L137.8 537.50 L138.3 537.50 L138.8 537.50 L139.3 537.50 L139.8 537.50 L140.3 537.50 L140.8 537.50 L141.3 537.50 L141.8 537.50 L142.3 537.50 L142.8 537.50 L143.3 537.50 L143.8 537.50 L144.3 537.50 L144.8 537.50 L145.3 537.50 L145.8 537.50 L146.3 537.50 L146.8 537.50 L147.3 537.50 L147.8 537.50 L148.3 537.50 L148.8 537.50 L149.3 537.50 L149.8 537.50 L150.3 537.50 L150.8 537.50 L151.3 537.50 L151.8 537.50 L152.3 537.50 L152.8 537.50 L153.3 537.50 L153.8 537.50 L154.3 537.50 L154.8 537.50 L155.3 537.50 L155.8 537.50 L156.3 537.50 L156.8 537.50 L157.3 537.50 L157.8 537.50 L158.3 537.50 L158.8 537.49 L159.3 537.49 L159.8 537.49 L160.3 537.48 L160.8 537.48 L161.3 537.47 L161.8 537.45 L162.3 537.44 L162.8 537.41 L163.3 537.38 L163.8 537.34 L164.3 537.29 L164.8 537.22 L165.3 537.13 L165.8 537.02 L166.3 536.88 L166.8 536.70 L167.3 536.48 L167.8 536.21 L168.3 535.87 L168.8 535.47 L169.3 534.98 L169.8 534.39 L170.3 533.70 L170.8 532.89 L171.3 531.95 L171.8 530.87 L172.3 529.63 L172.8 528.24 L173.3 526.68 L173.9 524.95 L174.4 523.05 L174.9 520.98 L175.4 518.76 L175.9 516.41 L176.4 513.93 L176.9 511.36 L177.4 508.72 L177.9 506.05 L178.4 503.39 L178.9 500.78 L179.4 498.26 L179.9 495.88 L180.4 493.69 L180.9 491.72 L181.4 490.03 L181.9 488.63 L182.4 487.57 L182.9 486.86 L183.4 486.53 L183.9 486.57 L184.4 487.00 L184.9 487.79 L185.4 488.93 L185.9 490.40 L186.4 492.17 L186.9 494.19 L187.4 496.43 L187.9 498.84 L188.4 501.39 L188.9 504.01 L189.4 506.68 L189.9 509.34 L190.4 511.97 L190.9 514.52 L191.4 516.97 L191.9 519.30 L192.4 521.48 L192.9 523.51 L193.4 525.37 L193.9 527.06 L194.4 528.58 L194.9 529.94 L195.4 531.14 L195.9 532.19 L196.4 533.09 L196.9 533.87 L197.4 534.54 L197.9 535.10 L198.4 535.57 L198.9 535.96 L199.4 536.28 L199.9 536.54 L200.4 536.75 L200.9 536.92 L201.4 537.05 L201.9 537.16 L202.4 537.24 L202.9 537.30 L203.4 537.35 L203.9 537.39 L204.4 537.42 L204.9 537.44 L205.4 537.46 L205.9 537.47 L206.4 537.48 L206.9 537.48 L207.4 537.49 L207.9 537.49 L208.4 537.49 L208.9 537.50 L209.4 537.50 L209.9 537.50 L210.4 537.50 L210.9 537.50 L211.4 537.50 L211.9 537.50 L212.4 537.50 L212.9 537.50 L213.4 537.50 L213.9 537.50 L214.4 537.50 L214.9 537.50 L215.4 537.50 L215.9 537.50 L216.4 537.50 L216.9 537.50 L217.4 537.50 L217.9 537.50 L218.4 537.50 L218.9 537.50 L219.4 537.50 L219.9 537.50 L220.4 537.50 L220.9 537.50 L221.4 537.50 L222.0 537.50 L222.5 537.50 L223.0 537.50 L223.5 537.50 L224.0 537.50 L224.5 537.50 L225.0 537.50 L225.5 537.50 L226.0 537.50 L226.5 537.50 L227.0 537.50 L227.5 537.50 L228.0 537.50 L228.5 537.50 L229.0 537.50 L229.5 537.50 L230.0 537.50 L230.5 537.50 L231.0 537.50 L231.5 537.50 L232.0 537.50 L232.5 537.50 L233.0 537.50 L233.5 537.50 L234.0 537.50 L234.5 537.50 L235.0 537.50 L235.5 537.50 L236.0 537.50 L236.5 537.50 L237.0 537.50 L237.5 537.50 L238.0 537.50 L238.5 537.50 L239.0 537.50 L239.5 537.50 L240.0 537.50 L240.5 537.50 L241.0 537.50 L241.5 537.50 L242.0 537.50 L242.5 537.50 L243.0 537.50 L243.5 537.50 L244.0 537.50 L244.5 537.50 L245.0 537.50 L245.5 537.50" stroke="#ff1a1a" stroke-width="1.55"/>
<path d="M102.2 537.50 L102.7 537.50 L103.2 537.50 L103.7 537.50 L104.2 537.50 L104.7 537.50 L105.2 537.50 L105.7 537.50 L106.2 537.50 L106.7 537.50 L107.2 537.50 L107.7 537.50 L108.2 537.50 L108.7 537.50 L109.2 537.50 L109.7 537.50 L110.2 537.50 L110.7 537.50 L111.2 537.50 L111.7 537.50 L112.2 537.50 L112.7 537.50 L113.2 537.50 L113.7 537.50 L114.2 537.50 L114.7 537.50 L115.2 537.50 L115.7 537.50 L116.2 537.50 L116.7 537.50 L117.2 537.50 L117.7 537.50 L118.2 537.50 L118.7 537.50 L119.2 537.50 L119.7 537.50 L120.2 537.50 L120.7 537.50 L121.2 537.50 L121.7 537.50 L122.2 537.50 L122.7 537.50 L123.2 537.50 L123.7 537.50 L124.2 537.50 L124.7 537.50 L125.2 537.50 L125.7 537.50 L126.3 537.50 L126.8 537.50 L127.3 537.50 L127.8 537.50 L128.3 537.50 L128.8 537.50 L129.3 537.50 L129.8 537.50 L130.3 537.50 L130.8 537.50 L131.3 537.50 L131.8 537.50 L132.3 537.50 L132.8 537.50 L133.3 537.50 L133.8 537.50 L134.3 537.50 L134.8 537.50 L135.3 537.50 L135.8 537.50 L136.3 537.50 L136.8 537.49 L137.3 537.49 L137.8 537.49 L138.3 537.48 L138.8 537.47 L139.3 537.46 L139.8 537.45 L140.3 537.43 L140.8 537.41 L141.3 537.38 L141.8 537.33 L142.3 537.28 L142.8 537.21 L143.3 537.12 L143.8 537.00 L144.3 536.85 L144.8 536.67 L145.3 536.45 L145.8 536.17 L146.3 535.84 L146.8 535.43 L147.3 534.95 L147.8 534.37 L148.3 533.70 L148.8 532.91 L149.3 532.00 L149.8 530.96 L150.3 529.78 L150.8 528.45 L151.3 526.98 L151.8 525.36 L152.3 523.59 L152.8 521.69 L153.3 519.66 L153.8 517.51 L154.3 515.28 L154.8 512.97 L155.3 510.64 L155.8 508.29 L156.3 505.98 L156.8 503.74 L157.3 501.61 L157.8 499.62 L158.3 497.83 L158.8 496.25 L159.3 494.94 L159.8 493.91 L160.3 493.18 L160.8 492.78 L161.3 492.71 L161.8 492.97 L162.3 493.56 L162.8 494.47 L163.3 495.67 L163.8 497.14 L164.3 498.84 L164.8 500.75 L165.3 502.82 L165.8 505.02 L166.3 507.31 L166.8 509.64 L167.3 511.98 L167.8 514.30 L168.3 516.56 L168.8 518.74 L169.3 520.81 L169.8 522.77 L170.3 524.59 L170.8 526.26 L171.3 527.78 L171.8 529.16 L172.3 530.39 L172.8 531.47 L173.3 532.42 L173.9 533.24 L174.4 533.95 L174.9 534.55 L175.4 535.05 L175.9 535.47 L176.4 535.81 L176.9 536.08 L177.4 536.30 L177.9 536.47 L178.4 536.61 L178.9 536.70 L179.4 536.77 L179.9 536.82 L180.4 536.84 L180.9 536.85 L181.4 536.85 L181.9 536.84 L182.4 536.82 L182.9 536.79 L183.4 536.76 L183.9 536.73 L184.4 536.69 L184.9 536.65 L185.4 536.61 L185.9 536.56 L186.4 536.52 L186.9 536.48 L187.4 536.43 L187.9 536.39 L188.4 536.35 L188.9 536.31 L189.4 536.27 L189.9 536.23 L190.4 536.19 L190.9 536.16 L191.4 536.13 L191.9 536.10 L192.4 536.08 L192.9 536.06 L193.4 536.04 L193.9 536.02 L194.4 536.01 L194.9 536.00 L195.4 536.00 L195.9 536.00 L196.4 536.00 L196.9 536.01 L197.4 536.02 L197.9 536.04 L198.4 536.06 L198.9 536.08 L199.4 536.10 L199.9 536.13 L200.4 536.16 L200.9 536.19 L201.4 536.23 L201.9 536.27 L202.4 536.31 L202.9 536.35 L203.4 536.39 L203.9 536.44 L204.4 536.48 L204.9 536.52 L205.4 536.57 L205.9 536.62 L206.4 536.66 L206.9 536.71 L207.4 536.75 L207.9 536.79 L208.4 536.84 L208.9 536.88 L209.4 536.92 L209.9 536.96 L210.4 537.00 L210.9 537.03 L211.4 537.07 L211.9 537.10 L212.4 537.13 L212.9 537.16 L213.4 537.19 L213.9 537.22 L214.4 537.24 L214.9 537.27 L215.4 537.29 L215.9 537.31 L216.4 537.33 L216.9 537.35 L217.4 537.36 L217.9 537.38 L218.4 537.39 L218.9 537.40 L219.4 537.41 L219.9 537.42 L220.4 537.43 L220.9 537.44 L221.4 537.45 L222.0 537.45 L222.5 537.46 L223.0 537.46 L223.5 537.47 L224.0 537.47 L224.5 537.48 L225.0 537.48 L225.5 537.48 L226.0 537.48 L226.5 537.49 L227.0 537.49 L227.5 537.49 L228.0 537.49 L228.5 537.49 L229.0 537.49 L229.5 537.49 L230.0 537.49 L230.5 537.49 L231.0 537.49 L231.5 537.49 L232.0 537.49 L232.5 537.48 L233.0 537.48 L233.5 537.47 L234.0 537.45 L234.5 537.43 L235.0 537.40 L235.5 537.37 L236.0 537.31 L236.5 537.24 L237.0 537.14 L237.5 537.02 L238.0 536.85 L238.5 536.63 L239.0 536.36 L239.5 536.01 L240.0 535.58 L240.5 535.04 L241.0 534.39 L241.5 533.60 L242.0 532.66 L242.5 531.56 L243.0 530.28 L243.5 528.81 L244.0 527.14 L244.5 525.27 L245.0 523.22 L245.5 520.99" stroke="#1a1aff" stroke-width="1.55"/>
<path d="M102.2 519.26 L102.7 519.71 L103.2 519.93 L103.7 519.91 L104.2 519.67 L104.7 519.19 L105.2 518.50 L105.7 517.60 L106.2 516.50 L106.7 515.22 L107.2 513.77 L107.7 512.18 L108.2 510.48 L108.7 508.68 L109.2 506.81 L109.7 504.91 L110.2 503.00 L110.7 501.11 L111.2 499.27 L111.7 497.52 L112.2 495.88 L112.7 494.39 L113.2 493.06 L113.7 491.92 L114.2 490.99 L114.7 490.29 L115.2 489.82 L115.7 489.61 L116.2 489.64 L116.7 489.93 L117.2 490.46 L117.7 491.22 L118.2 492.21 L118.7 493.40 L119.2 494.77 L119.7 496.30 L120.2 497.97 L120.7 499.73 L121.2 501.57 L121.7 503.44 L122.2 505.33 L122.7 507.20 L123.2 509.01 L123.7 510.74 L124.2 512.37 L124.7 513.86 L125.2 515.19 L125.7 516.35 L126.3 517.31 L126.8 518.05 L127.3 518.58 L127.8 518.86 L128.3 518.91 L128.8 518.71 L129.3 518.27 L129.8 517.59 L130.3 516.67 L130.8 515.53 L131.3 514.17 L131.8 512.62 L132.3 510.89 L132.8 509.00 L133.3 506.98 L133.8 504.85 L134.3 502.66 L134.8 500.42 L135.3 498.17 L135.8 495.95 L136.3 493.79 L136.8 491.72 L137.3 489.79 L137.8 488.01 L138.3 486.42 L138.8 485.06 L139.3 483.93 L139.8 483.07 L140.3 482.48 L140.8 482.19 L141.3 482.19 L141.8 482.48 L142.3 483.07 L142.8 483.94 L143.3 485.08 L143.8 486.47 L144.3 488.10 L144.8 489.93 L145.3 491.94 L145.8 494.10 L146.3 496.38 L146.8 498.76 L147.3 501.19 L147.8 503.66 L148.3 506.13 L148.8 508.57 L149.3 510.97 L149.8 513.30 L150.3 515.55 L150.8 517.70 L151.3 519.73 L151.8 521.64 L152.3 523.42 L152.8 525.07 L153.3 526.59 L153.8 527.97 L154.3 529.22 L154.8 530.35 L155.3 531.36 L155.8 532.25 L156.3 533.04 L156.8 533.73 L157.3 534.33 L157.8 534.85 L158.3 535.29 L158.8 535.68 L159.3 536.00 L159.8 536.27 L160.3 536.50 L160.8 536.69 L161.3 536.85 L161.8 536.98 L162.3 537.08 L162.8 537.17 L163.3 537.24 L163.8 537.29 L164.3 537.33 L164.8 537.37 L165.3 537.39 L165.8 537.41 L166.3 537.42 L166.8 537.43 L167.3 537.43 L167.8 537.43 L168.3 537.42 L168.8 537.41 L169.3 537.40 L169.8 537.38 L170.3 537.36 L170.8 537.33 L171.3 537.29 L171.8 537.25 L172.3 537.20 L172.8 537.15 L173.3 537.08 L173.9 537.01 L174.4 536.93 L174.9 536.84 L175.4 536.75 L175.9 536.64 L176.4 536.52 L176.9 536.40 L177.4 536.27 L177.9 536.14 L178.4 536.00 L178.9 535.86 L179.4 535.72 L179.9 535.58 L180.4 535.44 L180.9 535.31 L181.4 535.18 L181.9 535.07 L182.4 534.97 L182.9 534.88 L183.4 534.80 L183.9 534.75 L184.4 534.71 L184.9 534.68 L185.4 534.68 L185.9 534.69 L186.4 534.72 L186.9 534.76 L187.4 534.81 L187.9 534.86 L188.4 534.92 L188.9 534.98 L189.4 535.03 L189.9 535.06 L190.4 535.06 L190.9 535.03 L191.4 534.96 L191.9 534.83 L192.4 534.64 L192.9 534.35 L193.4 533.97 L193.9 533.47 L194.4 532.84 L194.9 532.05 L195.4 531.10 L195.9 529.94 L196.4 528.58 L196.9 526.99 L197.4 525.15 L197.9 523.05 L198.4 520.68 L198.9 518.05 L199.4 515.13 L199.9 511.96 L200.4 508.53 L200.9 504.87 L201.4 501.01 L201.9 496.99 L202.4 492.85 L202.9 488.65 L203.4 484.45 L203.9 480.32 L204.4 476.31 L204.9 472.52 L205.4 469.00 L205.9 465.82 L206.4 463.05 L206.9 460.75 L207.4 458.97 L207.9 457.74 L208.4 457.10 L208.9 457.05 L209.4 457.60 L209.9 458.74 L210.4 460.43 L210.9 462.65 L211.4 465.34 L211.9 468.45 L212.4 471.92 L212.9 475.67 L213.4 479.63 L213.9 483.73 L214.4 487.89 L214.9 492.06 L215.4 496.16 L215.9 500.14 L216.4 503.94 L216.9 507.53 L217.4 510.86 L217.9 513.91 L218.4 516.65 L218.9 519.06 L219.4 521.14 L219.9 522.88 L220.4 524.27 L220.9 525.32 L221.4 526.03 L222.0 526.39 L222.5 526.43 L223.0 526.14 L223.5 525.53 L224.0 524.62 L224.5 523.41 L225.0 521.92 L225.5 520.16 L226.0 518.16 L226.5 515.93 L227.0 513.50 L227.5 510.90 L228.0 508.18 L228.5 505.36 L229.0 502.49 L229.5 499.62 L230.0 496.80 L230.5 494.07 L231.0 491.50 L231.5 489.13 L232.0 487.01 L232.5 485.18 L233.0 483.69 L233.5 482.57 L234.0 481.83 L234.5 481.51 L235.0 481.60 L235.5 482.10 L236.0 483.01 L236.5 484.30 L237.0 485.94 L237.5 487.90 L238.0 490.13 L238.5 492.59 L239.0 495.24 L239.5 498.01 L240.0 500.86 L240.5 503.74 L241.0 506.61 L241.5 509.41 L242.0 512.10 L242.5 514.67 L243.0 517.06 L243.5 519.27 L244.0 521.27 L244.5 523.05 L245.0 524.59 L245.5 525.91" stroke="#111111" stroke-width="1.65"/>
</g>
<rect x="102.2" y="453.9" width="143.3" height="85.0" fill="none" stroke="#555555" stroke-width="2.2" stroke-dasharray="2.5 3.4"/>
<text x="170.0" y="473.2" font-size="14" fill="#ff1a1a" text-anchor="start" font-weight="normal" font-style="normal" >N.D.</text>
<clipPath id="clip31"><rect x="261.7" y="453.9" width="143.6" height="85.6"/></clipPath>
<g clip-path="url(#clip31)" fill="none" stroke-linejoin="round" stroke-linecap="round">
<path d="M262.1 536.47 L262.6 536.40 L263.1 536.33 L263.6 536.26 L264.1 536.20 L264.6 536.15 L265.1 536.10 L265.6 536.06 L266.1 536.03 L266.6 536.01 L267.1 536.00 L267.6 536.00 L268.1 536.01 L268.6 536.03 L269.1 536.07 L269.6 536.11 L270.1 536.16 L270.6 536.21 L271.1 536.27 L271.6 536.34 L272.1 536.41 L272.6 536.49 L273.1 536.56 L273.6 536.64 L274.1 536.71 L274.6 536.79 L275.1 536.86 L275.6 536.93 L276.1 536.99 L276.6 537.05 L277.1 537.11 L277.6 537.16 L278.1 537.20 L278.6 537.25 L279.1 537.28 L279.6 537.32 L280.1 537.35 L280.6 537.37 L281.1 537.39 L281.6 537.41 L282.1 537.43 L282.6 537.44 L283.1 537.45 L283.6 537.46 L284.1 537.47 L284.6 537.48 L285.1 537.48 L285.6 537.49 L286.2 537.49 L286.7 537.49 L287.2 537.49 L287.7 537.50 L288.2 537.50 L288.7 537.50 L289.2 537.50 L289.7 537.50 L290.2 537.50 L290.7 537.50 L291.2 537.50 L291.7 537.50 L292.2 537.50 L292.7 537.50 L293.2 537.50 L293.7 537.50 L294.2 537.50 L294.7 537.50 L295.2 537.50 L295.7 537.50 L296.2 537.50 L296.7 537.50 L297.2 537.50 L297.7 537.50 L298.2 537.50 L298.7 537.50 L299.2 537.50 L299.7 537.50 L300.2 537.50 L300.7 537.50 L301.2 537.50 L301.7 537.50 L302.2 537.50 L302.7 537.50 L303.2 537.50 L303.7 537.50 L304.2 537.50 L304.7 537.50 L305.2 537.50 L305.7 537.50 L306.2 537.50 L306.7 537.50 L307.2 537.50 L307.7 537.50 L308.2 537.50 L308.7 537.50 L309.2 537.50 L309.7 537.50 L310.2 537.50 L310.7 537.50 L311.2 537.50 L311.7 537.50 L312.2 537.50 L312.7 537.50 L313.2 537.50 L313.7 537.50 L314.2 537.50 L314.7 537.50 L315.2 537.50 L315.7 537.50 L316.2 537.50 L316.7 537.50 L317.2 537.50 L317.7 537.50 L318.2 537.50 L318.7 537.50 L319.2 537.50 L319.7 537.50 L320.2 537.49 L320.7 537.49 L321.2 537.48 L321.7 537.48 L322.2 537.46 L322.7 537.45 L323.2 537.42 L323.7 537.39 L324.2 537.34 L324.7 537.28 L325.2 537.19 L325.7 537.07 L326.2 536.92 L326.7 536.71 L327.2 536.45 L327.7 536.11 L328.2 535.69 L328.7 535.16 L329.2 534.51 L329.7 533.72 L330.2 532.78 L330.7 531.66 L331.2 530.36 L331.7 528.86 L332.2 527.17 L332.7 525.27 L333.2 523.18 L333.8 520.91 L334.3 518.50 L334.8 515.97 L335.3 513.37 L335.8 510.74 L336.3 508.15 L336.8 505.66 L337.3 503.33 L337.8 501.23 L338.3 499.42 L338.8 497.95 L339.3 496.87 L339.8 496.21 L340.3 496.00 L340.8 496.24 L341.3 496.92 L341.8 498.02 L342.3 499.51 L342.8 501.33 L343.3 503.45 L343.8 505.78 L344.3 508.28 L344.8 510.87 L345.3 513.50 L345.8 516.10 L346.3 518.63 L346.8 521.03 L347.3 523.29 L347.8 525.37 L348.3 527.26 L348.8 528.95 L349.3 530.43 L349.8 531.72 L350.3 532.83 L350.8 533.77 L351.3 534.55 L351.8 535.19 L352.3 535.71 L352.8 536.13 L353.3 536.46 L353.8 536.72 L354.3 536.93 L354.8 537.08 L355.3 537.19 L355.8 537.28 L356.3 537.34 L356.8 537.39 L357.3 537.42 L357.8 537.45 L358.3 537.46 L358.8 537.48 L359.3 537.48 L359.8 537.49 L360.3 537.49 L360.8 537.50 L361.3 537.50 L361.8 537.50 L362.3 537.50 L362.8 537.50 L363.3 537.50 L363.8 537.50 L364.3 537.50 L364.8 537.50 L365.3 537.50 L365.8 537.50 L366.3 537.50 L366.8 537.50 L367.3 537.50 L367.8 537.50 L368.3 537.50 L368.8 537.50 L369.3 537.50 L369.8 537.50 L370.3 537.50 L370.8 537.50 L371.3 537.50 L371.8 537.50 L372.3 537.50 L372.8 537.50 L373.3 537.50 L373.8 537.50 L374.3 537.50 L374.8 537.50 L375.3 537.50 L375.8 537.50 L376.3 537.50 L376.8 537.50 L377.3 537.50 L377.8 537.50 L378.3 537.50 L378.8 537.50 L379.3 537.50 L379.8 537.50 L380.3 537.50 L380.8 537.50 L381.4 537.50 L381.9 537.50 L382.4 537.50 L382.9 537.50 L383.4 537.50 L383.9 537.50 L384.4 537.50 L384.9 537.50 L385.4 537.50 L385.9 537.50 L386.4 537.50 L386.9 537.50 L387.4 537.50 L387.9 537.50 L388.4 537.50 L388.9 537.50 L389.4 537.50 L389.9 537.50 L390.4 537.50 L390.9 537.50 L391.4 537.50 L391.9 537.50 L392.4 537.50 L392.9 537.50 L393.4 537.50 L393.9 537.50 L394.4 537.50 L394.9 537.50 L395.4 537.50 L395.9 537.50 L396.4 537.50 L396.9 537.50 L397.4 537.50 L397.9 537.50 L398.4 537.50 L398.9 537.50 L399.4 537.50 L399.9 537.50 L400.4 537.50 L400.9 537.50 L401.4 537.50 L401.9 537.50 L402.4 537.50 L402.9 537.50 L403.4 537.50 L403.9 537.50 L404.4 537.50 L404.9 537.50" stroke="#ff1a1a" stroke-width="1.55"/>
<path d="M262.1 537.50 L262.6 537.50 L263.1 537.50 L263.6 537.50 L264.1 537.50 L264.6 537.50 L265.1 537.50 L265.6 537.50 L266.1 537.50 L266.6 537.50 L267.1 537.50 L267.6 537.50 L268.1 537.50 L268.6 537.50 L269.1 537.50 L269.6 537.50 L270.1 537.50 L270.6 537.50 L271.1 537.50 L271.6 537.50 L272.1 537.50 L272.6 537.50 L273.1 537.50 L273.6 537.50 L274.1 537.50 L274.6 537.50 L275.1 537.50 L275.6 537.50 L276.1 537.50 L276.6 537.50 L277.1 537.50 L277.6 537.50 L278.1 537.50 L278.6 537.50 L279.1 537.50 L279.6 537.50 L280.1 537.50 L280.6 537.50 L281.1 537.50 L281.6 537.50 L282.1 537.50 L282.6 537.50 L283.1 537.50 L283.6 537.50 L284.1 537.50 L284.6 537.50 L285.1 537.50 L285.6 537.50 L286.2 537.50 L286.7 537.50 L287.2 537.50 L287.7 537.50 L288.2 537.50 L288.7 537.50 L289.2 537.50 L289.7 537.50 L290.2 537.50 L290.7 537.50 L291.2 537.50 L291.7 537.50 L292.2 537.50 L292.7 537.50 L293.2 537.50 L293.7 537.50 L294.2 537.50 L294.7 537.50 L295.2 537.50 L295.7 537.50 L296.2 537.49 L296.7 537.49 L297.2 537.49 L297.7 537.48 L298.2 537.47 L298.7 537.46 L299.2 537.45 L299.7 537.43 L300.2 537.41 L300.7 537.38 L301.2 537.34 L301.7 537.28 L302.2 537.21 L302.7 537.12 L303.2 537.01 L303.7 536.86 L304.2 536.68 L304.7 536.46 L305.2 536.19 L305.7 535.85 L306.2 535.45 L306.7 534.97 L307.2 534.39 L307.7 533.72 L308.2 532.93 L308.7 532.02 L309.2 530.98 L309.7 529.80 L310.2 528.48 L310.7 527.00 L311.2 525.37 L311.7 523.59 L312.2 521.67 L312.7 519.62 L313.2 517.45 L313.7 515.19 L314.2 512.86 L314.7 510.49 L315.2 508.11 L315.7 505.75 L316.2 503.47 L316.7 501.29 L317.2 499.25 L317.7 497.40 L318.2 495.78 L318.7 494.41 L319.2 493.33 L319.7 492.55 L320.2 492.11 L320.7 492.00 L321.2 492.23 L321.7 492.79 L322.2 493.67 L322.7 494.85 L323.2 496.31 L323.7 498.01 L324.2 499.93 L324.7 502.01 L325.2 504.23 L325.7 506.54 L326.2 508.90 L326.7 511.27 L327.2 513.62 L327.7 515.92 L328.2 518.13 L328.7 520.24 L329.2 522.23 L329.7 524.08 L330.2 525.78 L330.7 527.33 L331.2 528.72 L331.7 529.97 L332.2 531.07 L332.7 532.02 L333.2 532.85 L333.8 533.55 L334.3 534.15 L334.8 534.64 L335.3 535.05 L335.8 535.37 L336.3 535.63 L336.8 535.83 L337.3 535.99 L337.8 536.10 L338.3 536.17 L338.8 536.22 L339.3 536.25 L339.8 536.25 L340.3 536.25 L340.8 536.23 L341.3 536.21 L341.8 536.18 L342.3 536.16 L342.8 536.13 L343.3 536.10 L343.8 536.07 L344.3 536.05 L344.8 536.03 L345.3 536.01 L345.8 536.00 L346.3 536.00 L346.8 536.00 L347.3 536.01 L347.8 536.02 L348.3 536.03 L348.8 536.06 L349.3 536.09 L349.8 536.12 L350.3 536.16 L350.8 536.20 L351.3 536.24 L351.8 536.29 L352.3 536.34 L352.8 536.39 L353.3 536.45 L353.8 536.51 L354.3 536.56 L354.8 536.62 L355.3 536.68 L355.8 536.73 L356.3 536.79 L356.8 536.84 L357.3 536.89 L357.8 536.94 L358.3 536.99 L358.8 537.04 L359.3 537.08 L359.8 537.12 L360.3 537.16 L360.8 537.19 L361.3 537.23 L361.8 537.26 L362.3 537.29 L362.8 537.31 L363.3 537.33 L363.8 537.35 L364.3 537.37 L364.8 537.39 L365.3 537.40 L365.8 537.42 L366.3 537.43 L366.8 537.44 L367.3 537.45 L367.8 537.46 L368.3 537.46 L368.8 537.47 L369.3 537.47 L369.8 537.48 L370.3 537.48 L370.8 537.49 L371.3 537.49 L371.8 537.49 L372.3 537.49 L372.8 537.49 L373.3 537.49 L373.8 537.50 L374.3 537.50 L374.8 537.50 L375.3 537.50 L375.8 537.50 L376.3 537.50 L376.8 537.50 L377.3 537.50 L377.8 537.50 L378.3 537.50 L378.8 537.50 L379.3 537.50 L379.8 537.50 L380.3 537.50 L380.8 537.50 L381.4 537.50 L381.9 537.50 L382.4 537.50 L382.9 537.50 L383.4 537.50 L383.9 537.50 L384.4 537.50 L384.9 537.50 L385.4 537.50 L385.9 537.50 L386.4 537.50 L386.9 537.50 L387.4 537.50 L387.9 537.50 L388.4 537.50 L388.9 537.50 L389.4 537.50 L389.9 537.50 L390.4 537.50 L390.9 537.49 L391.4 537.49 L391.9 537.49 L392.4 537.48 L392.9 537.47 L393.4 537.45 L393.9 537.43 L394.4 537.41 L394.9 537.37 L395.4 537.31 L395.9 537.24 L396.4 537.14 L396.9 537.02 L397.4 536.85 L397.9 536.63 L398.4 536.36 L398.9 536.01 L399.4 535.58 L399.9 535.04 L400.4 534.39 L400.9 533.60 L401.4 532.66 L401.9 531.56 L402.4 530.28 L402.9 528.81 L403.4 527.14 L403.9 525.27 L404.4 523.22 L404.9 520.99" stroke="#1a1aff" stroke-width="1.55"/>
<path d="M262.1 529.49 L262.6 530.34 L263.1 530.98 L263.6 531.41 L264.1 531.63 L264.6 531.64 L265.1 531.45 L265.6 531.03 L266.1 530.40 L266.6 529.55 L267.1 528.48 L267.6 527.18 L268.1 525.66 L268.6 523.91 L269.1 521.94 L269.6 519.76 L270.1 517.38 L270.6 514.81 L271.1 512.08 L271.6 509.21 L272.1 506.24 L272.6 503.20 L273.1 500.15 L273.6 497.11 L274.1 494.15 L274.6 491.32 L275.1 488.67 L275.6 486.25 L276.1 484.10 L276.6 482.28 L277.1 480.82 L277.6 479.76 L278.1 479.11 L278.6 478.89 L279.1 479.11 L279.6 479.76 L280.1 480.82 L280.6 482.28 L281.1 484.09 L281.6 486.22 L282.1 488.63 L282.6 491.26 L283.1 494.05 L283.6 496.97 L284.1 499.94 L284.6 502.92 L285.1 505.86 L285.6 508.71 L286.2 511.42 L286.7 513.96 L287.2 516.29 L287.7 518.39 L288.2 520.22 L288.7 521.77 L289.2 523.03 L289.7 523.97 L290.2 524.60 L290.7 524.90 L291.2 524.87 L291.7 524.52 L292.2 523.83 L292.7 522.82 L293.2 521.50 L293.7 519.87 L294.2 517.95 L294.7 515.76 L295.2 513.32 L295.7 510.66 L296.2 507.82 L296.7 504.84 L297.2 501.75 L297.7 498.61 L298.2 495.48 L298.7 492.39 L299.2 489.42 L299.7 486.62 L300.2 484.04 L300.7 481.74 L301.2 479.77 L301.7 478.17 L302.2 476.97 L302.7 476.21 L303.2 475.90 L303.7 476.05 L304.2 476.65 L304.7 477.69 L305.2 479.15 L305.7 481.00 L306.2 483.20 L306.7 485.70 L307.2 488.45 L307.7 491.40 L308.2 494.50 L308.7 497.68 L309.2 500.91 L309.7 504.12 L310.2 507.28 L310.7 510.34 L311.2 513.27 L311.7 516.05 L312.2 518.65 L312.7 521.06 L313.2 523.26 L313.7 525.27 L314.2 527.07 L314.7 528.67 L315.2 530.08 L315.7 531.31 L316.2 532.37 L316.7 533.29 L317.2 534.07 L317.7 534.72 L318.2 535.27 L318.7 535.72 L319.2 536.09 L319.7 536.39 L320.2 536.64 L320.7 536.83 L321.2 536.99 L321.7 537.11 L322.2 537.20 L322.7 537.28 L323.2 537.33 L323.7 537.38 L324.2 537.41 L324.7 537.43 L325.2 537.45 L325.7 537.47 L326.2 537.48 L326.7 537.48 L327.2 537.49 L327.7 537.49 L328.2 537.49 L328.7 537.49 L329.2 537.49 L329.7 537.49 L330.2 537.48 L330.7 537.48 L331.2 537.46 L331.7 537.45 L332.2 537.42 L332.7 537.39 L333.2 537.33 L333.8 537.26 L334.3 537.17 L334.8 537.04 L335.3 536.87 L335.8 536.65 L336.3 536.37 L336.8 536.02 L337.3 535.59 L337.8 535.06 L338.3 534.44 L338.8 533.71 L339.3 532.87 L339.8 531.93 L340.3 530.89 L340.8 529.77 L341.3 528.58 L341.8 527.36 L342.3 526.13 L342.8 524.94 L343.3 523.81 L343.8 522.80 L344.3 521.93 L344.8 521.25 L345.3 520.77 L345.8 520.53 L346.3 520.52 L346.8 520.75 L347.3 521.21 L347.8 521.87 L348.3 522.72 L348.8 523.71 L349.3 524.80 L349.8 525.95 L350.3 527.13 L350.8 528.28 L351.3 529.38 L351.8 530.39 L352.3 531.27 L352.8 532.02 L353.3 532.60 L353.8 533.00 L354.3 533.21 L354.8 533.21 L355.3 533.00 L355.8 532.56 L356.3 531.88 L356.8 530.95 L357.3 529.75 L357.8 528.27 L358.3 526.50 L358.8 524.42 L359.3 522.01 L359.8 519.29 L360.3 516.24 L360.8 512.87 L361.3 509.20 L361.8 505.26 L362.3 501.07 L362.8 496.69 L363.3 492.18 L363.8 487.59 L364.3 483.01 L364.8 478.52 L365.3 474.20 L365.8 470.16 L366.3 466.46 L366.8 463.21 L367.3 460.48 L367.8 458.32 L368.3 456.81 L368.8 455.97 L369.3 455.83 L369.8 456.38 L370.3 457.63 L370.8 459.52 L371.3 462.02 L371.8 465.07 L372.3 468.58 L372.8 472.47 L373.3 476.66 L373.8 481.05 L374.3 485.55 L374.8 490.08 L375.3 494.54 L375.8 498.86 L376.3 502.97 L376.8 506.82 L377.3 510.35 L377.8 513.53 L378.3 516.32 L378.8 518.71 L379.3 520.67 L379.8 522.20 L380.3 523.30 L380.8 523.96 L381.4 524.20 L381.9 524.01 L382.4 523.41 L382.9 522.41 L383.4 521.03 L383.9 519.29 L384.4 517.22 L384.9 514.85 L385.4 512.20 L385.9 509.33 L386.4 506.28 L386.9 503.11 L387.4 499.87 L387.9 496.63 L388.4 493.46 L388.9 490.42 L389.4 487.58 L389.9 485.01 L390.4 482.78 L390.9 480.93 L391.4 479.52 L391.9 478.57 L392.4 478.13 L392.9 478.19 L393.4 478.76 L393.9 479.82 L394.4 481.35 L394.9 483.30 L395.4 485.64 L395.9 488.30 L396.4 491.22 L396.9 494.34 L397.4 497.59 L397.9 500.91 L398.4 504.23 L398.9 507.51 L399.4 510.69 L399.9 513.72 L400.4 516.57 L400.9 519.22 L401.4 521.64 L401.9 523.82 L402.4 525.75 L402.9 527.43 L403.4 528.86 L403.9 530.05 L404.4 531.01 L404.9 531.75" stroke="#111111" stroke-width="1.65"/>
</g>
<rect x="262.1" y="453.9" width="142.8" height="85.0" fill="none" stroke="#555555" stroke-width="2.2" stroke-dasharray="2.5 3.4"/>
<text x="321.6" y="473.2" font-size="14" fill="#ff1a1a"><tspan font-family='"Liberation Sans", "Noto Sans CJK JP", sans-serif' textLength="14.6" lengthAdjust="spacingAndGlyphs">～</tspan><tspan x="336.4">30%</tspan></text>
<text x="90.4" y="595.8" font-size="17" fill="#1a1a1a" text-anchor="end" font-weight="normal" font-style="normal" >0.01</text>
<clipPath id="clip40"><rect x="101.8" y="547.0" width="144.1" height="85.6"/></clipPath>
<g clip-path="url(#clip40)" fill="none" stroke-linejoin="round" stroke-linecap="round">
<path d="M102.2 630.60 L102.7 630.60 L103.2 630.60 L103.7 630.60 L104.2 630.60 L104.7 630.60 L105.2 630.60 L105.7 630.60 L106.2 630.60 L106.7 630.60 L107.2 630.60 L107.7 630.60 L108.2 630.60 L108.7 630.60 L109.2 630.60 L109.7 630.60 L110.2 630.60 L110.7 630.60 L111.2 630.60 L111.7 630.60 L112.2 630.60 L112.7 630.60 L113.2 630.60 L113.7 630.60 L114.2 630.60 L114.7 630.60 L115.2 630.60 L115.7 630.60 L116.2 630.60 L116.7 630.60 L117.2 630.60 L117.7 630.60 L118.2 630.60 L118.7 630.60 L119.2 630.60 L119.7 630.60 L120.2 630.60 L120.7 630.60 L121.2 630.60 L121.7 630.60 L122.2 630.60 L122.7 630.60 L123.2 630.60 L123.7 630.60 L124.2 630.60 L124.7 630.60 L125.2 630.60 L125.7 630.60 L126.3 630.60 L126.8 630.60 L127.3 630.60 L127.8 630.60 L128.3 630.60 L128.8 630.60 L129.3 630.60 L129.8 630.60 L130.3 630.60 L130.8 630.60 L131.3 630.60 L131.8 630.60 L132.3 630.60 L132.8 630.60 L133.3 630.60 L133.8 630.60 L134.3 630.60 L134.8 630.60 L135.3 630.60 L135.8 630.60 L136.3 630.60 L136.8 630.60 L137.3 630.60 L137.8 630.60 L138.3 630.60 L138.8 630.60 L139.3 630.60 L139.8 630.60 L140.3 630.60 L140.8 630.60 L141.3 630.60 L141.8 630.60 L142.3 630.60 L142.8 630.60 L143.3 630.60 L143.8 630.60 L144.3 630.60 L144.8 630.60 L145.3 630.60 L145.8 630.60 L146.3 630.60 L146.8 630.60 L147.3 630.60 L147.8 630.60 L148.3 630.60 L148.8 630.60 L149.3 630.60 L149.8 630.60 L150.3 630.60 L150.8 630.60 L151.3 630.60 L151.8 630.60 L152.3 630.60 L152.8 630.60 L153.3 630.60 L153.8 630.60 L154.3 630.60 L154.8 630.60 L155.3 630.60 L155.8 630.60 L156.3 630.59 L156.8 630.59 L157.3 630.59 L157.8 630.59 L158.3 630.59 L158.8 630.58 L159.3 630.58 L159.8 630.58 L160.3 630.57 L160.8 630.57 L161.3 630.56 L161.8 630.56 L162.3 630.55 L162.8 630.54 L163.3 630.53 L163.8 630.52 L164.3 630.50 L164.8 630.49 L165.3 630.47 L165.8 630.45 L166.3 630.43 L166.8 630.41 L167.3 630.38 L167.8 630.35 L168.3 630.32 L168.8 630.29 L169.3 630.26 L169.8 630.22 L170.3 630.18 L170.8 630.13 L171.3 630.09 L171.8 630.04 L172.3 629.99 L172.8 629.94 L173.3 629.88 L173.9 629.83 L174.4 629.77 L174.9 629.71 L175.4 629.66 L175.9 629.60 L176.4 629.54 L176.9 629.49 L177.4 629.44 L177.9 629.39 L178.4 629.34 L178.9 629.29 L179.4 629.25 L179.9 629.22 L180.4 629.18 L180.9 629.16 L181.4 629.13 L181.9 629.12 L182.4 629.11 L182.9 629.10 L183.4 629.10 L183.9 629.11 L184.4 629.12 L184.9 629.14 L185.4 629.16 L185.9 629.19 L186.4 629.22 L186.9 629.26 L187.4 629.30 L187.9 629.35 L188.4 629.40 L188.9 629.45 L189.4 629.50 L189.9 629.56 L190.4 629.61 L190.9 629.67 L191.4 629.73 L191.9 629.78 L192.4 629.84 L192.9 629.90 L193.4 629.95 L193.9 630.00 L194.4 630.05 L194.9 630.10 L195.4 630.14 L195.9 630.19 L196.4 630.23 L196.9 630.26 L197.4 630.30 L197.9 630.33 L198.4 630.36 L198.9 630.39 L199.4 630.41 L199.9 630.44 L200.4 630.46 L200.9 630.48 L201.4 630.49 L201.9 630.51 L202.4 630.52 L202.9 630.53 L203.4 630.54 L203.9 630.55 L204.4 630.56 L204.9 630.56 L205.4 630.57 L205.9 630.57 L206.4 630.58 L206.9 630.58 L207.4 630.59 L207.9 630.59 L208.4 630.59 L208.9 630.59 L209.4 630.59 L209.9 630.59 L210.4 630.60 L210.9 630.60 L211.4 630.60 L211.9 630.60 L212.4 630.60 L212.9 630.60 L213.4 630.60 L213.9 630.60 L214.4 630.60 L214.9 630.60 L215.4 630.60 L215.9 630.60 L216.4 630.60 L216.9 630.60 L217.4 630.60 L217.9 630.60 L218.4 630.60 L218.9 630.60 L219.4 630.60 L219.9 630.60 L220.4 630.60 L220.9 630.60 L221.4 630.60 L222.0 630.60 L222.5 630.60 L223.0 630.60 L223.5 630.60 L224.0 630.60 L224.5 630.60 L225.0 630.60 L225.5 630.60 L226.0 630.60 L226.5 630.60 L227.0 630.60 L227.5 630.60 L228.0 630.60 L228.5 630.60 L229.0 630.60 L229.5 630.60 L230.0 630.60 L230.5 630.60 L231.0 630.60 L231.5 630.60 L232.0 630.60 L232.5 630.60 L233.0 630.60 L233.5 630.60 L234.0 630.60 L234.5 630.60 L235.0 630.60 L235.5 630.60 L236.0 630.60 L236.5 630.60 L237.0 630.60 L237.5 630.60 L238.0 630.60 L238.5 630.60 L239.0 630.60 L239.5 630.60 L240.0 630.60 L240.5 630.60 L241.0 630.60 L241.5 630.60 L242.0 630.60 L242.5 630.60 L243.0 630.60 L243.5 630.60 L244.0 630.60 L244.5 630.60 L245.0 630.60 L245.5 630.60" stroke="#1a9a4a" stroke-width="1.0"/>
<path d="M102.2 630.60 L102.7 630.60 L103.2 630.60 L103.7 630.60 L104.2 630.60 L104.7 630.60 L105.2 630.60 L105.7 630.60 L106.2 630.60 L106.7 630.60 L107.2 630.60 L107.7 630.60 L108.2 630.60 L108.7 630.59 L109.2 630.59 L109.7 630.59 L110.2 630.59 L110.7 630.59 L111.2 630.58 L111.7 630.58 L112.2 630.58 L112.7 630.57 L113.2 630.57 L113.7 630.56 L114.2 630.55 L114.7 630.54 L115.2 630.54 L115.7 630.52 L116.2 630.51 L116.7 630.50 L117.2 630.48 L117.7 630.46 L118.2 630.44 L118.7 630.42 L119.2 630.40 L119.7 630.37 L120.2 630.34 L120.7 630.31 L121.2 630.28 L121.7 630.24 L122.2 630.20 L122.7 630.16 L123.2 630.12 L123.7 630.07 L124.2 630.02 L124.7 629.97 L125.2 629.92 L125.7 629.86 L126.3 629.81 L126.8 629.75 L127.3 629.69 L127.8 629.64 L128.3 629.58 L128.8 629.52 L129.3 629.47 L129.8 629.42 L130.3 629.37 L130.8 629.32 L131.3 629.28 L131.8 629.24 L132.3 629.20 L132.8 629.17 L133.3 629.15 L133.8 629.13 L134.3 629.11 L134.8 629.10 L135.3 629.10 L135.8 629.10 L136.3 629.11 L136.8 629.13 L137.3 629.15 L137.8 629.17 L138.3 629.20 L138.8 629.24 L139.3 629.28 L139.8 629.32 L140.3 629.37 L140.8 629.42 L141.3 629.47 L141.8 629.52 L142.3 629.58 L142.8 629.63 L143.3 629.69 L143.8 629.75 L144.3 629.81 L144.8 629.86 L145.3 629.92 L145.8 629.97 L146.3 630.02 L146.8 630.07 L147.3 630.12 L147.8 630.16 L148.3 630.20 L148.8 630.24 L149.3 630.28 L149.8 630.31 L150.3 630.34 L150.8 630.37 L151.3 630.40 L151.8 630.42 L152.3 630.44 L152.8 630.46 L153.3 630.48 L153.8 630.50 L154.3 630.51 L154.8 630.52 L155.3 630.53 L155.8 630.53 L156.3 630.54 L156.8 630.54 L157.3 630.54 L157.8 630.53 L158.3 630.52 L158.8 630.51 L159.3 630.48 L159.8 630.45 L160.3 630.40 L160.8 630.34 L161.3 630.27 L161.8 630.16 L162.3 630.03 L162.8 629.87 L163.3 629.66 L163.8 629.40 L164.3 629.08 L164.8 628.68 L165.3 628.21 L165.8 627.63 L166.3 626.95 L166.8 626.14 L167.3 625.19 L167.8 624.08 L168.3 622.81 L168.8 621.37 L169.3 619.73 L169.8 617.90 L170.3 615.87 L170.8 613.64 L171.3 611.23 L171.8 608.63 L172.3 605.87 L172.8 602.97 L173.3 599.96 L173.9 596.88 L174.4 593.76 L174.9 590.65 L175.4 587.60 L175.9 584.67 L176.4 581.89 L176.9 579.34 L177.4 577.05 L177.9 575.07 L178.4 573.45 L178.9 572.22 L179.4 571.41 L179.9 571.03 L180.4 571.09 L180.9 571.60 L181.4 572.54 L181.9 573.88 L182.4 575.61 L182.9 577.68 L183.4 580.05 L183.9 582.68 L184.4 585.51 L184.9 588.48 L185.4 591.55 L185.9 594.67 L186.4 597.78 L186.9 600.85 L187.4 603.83 L187.9 606.69 L188.4 609.40 L188.9 611.95 L189.4 614.31 L189.9 616.48 L190.4 618.45 L190.9 620.23 L191.4 621.81 L191.9 623.20 L192.4 624.42 L192.9 625.48 L193.4 626.39 L193.9 627.16 L194.4 627.81 L194.9 628.36 L195.4 628.81 L195.9 629.18 L196.4 629.48 L196.9 629.73 L197.4 629.92 L197.9 630.08 L198.4 630.20 L198.9 630.30 L199.4 630.37 L199.9 630.43 L200.4 630.47 L200.9 630.51 L201.4 630.53 L201.9 630.55 L202.4 630.56 L202.9 630.57 L203.4 630.58 L203.9 630.59 L204.4 630.59 L204.9 630.59 L205.4 630.60 L205.9 630.60 L206.4 630.60 L206.9 630.60 L207.4 630.60 L207.9 630.60 L208.4 630.60 L208.9 630.60 L209.4 630.60 L209.9 630.60 L210.4 630.60 L210.9 630.60 L211.4 630.60 L211.9 630.60 L212.4 630.60 L212.9 630.60 L213.4 630.60 L213.9 630.60 L214.4 630.60 L214.9 630.60 L215.4 630.60 L215.9 630.60 L216.4 630.60 L216.9 630.60 L217.4 630.60 L217.9 630.60 L218.4 630.60 L218.9 630.60 L219.4 630.60 L219.9 630.60 L220.4 630.60 L220.9 630.60 L221.4 630.60 L222.0 630.60 L222.5 630.60 L223.0 630.60 L223.5 630.60 L224.0 630.60 L224.5 630.60 L225.0 630.60 L225.5 630.60 L226.0 630.60 L226.5 630.60 L227.0 630.60 L227.5 630.60 L228.0 630.60 L228.5 630.60 L229.0 630.60 L229.5 630.60 L230.0 630.60 L230.5 630.60 L231.0 630.60 L231.5 630.60 L232.0 630.60 L232.5 630.60 L233.0 630.60 L233.5 630.60 L234.0 630.60 L234.5 630.60 L235.0 630.60 L235.5 630.60 L236.0 630.60 L236.5 630.60 L237.0 630.60 L237.5 630.60 L238.0 630.60 L238.5 630.60 L239.0 630.60 L239.5 630.60 L240.0 630.60 L240.5 630.60 L241.0 630.60 L241.5 630.60 L242.0 630.60 L242.5 630.60 L243.0 630.60 L243.5 630.60 L244.0 630.60 L244.5 630.60 L245.0 630.60 L245.5 630.60" stroke="#ff1a1a" stroke-width="1.55"/>
<path d="M102.2 630.60 L102.7 630.60 L103.2 630.60 L103.7 630.60 L104.2 630.60 L104.7 630.60 L105.2 630.60 L105.7 630.60 L106.2 630.60 L106.7 630.60 L107.2 630.60 L107.7 630.60 L108.2 630.60 L108.7 630.60 L109.2 630.60 L109.7 630.60 L110.2 630.60 L110.7 630.60 L111.2 630.60 L111.7 630.60 L112.2 630.60 L112.7 630.60 L113.2 630.60 L113.7 630.60 L114.2 630.60 L114.7 630.60 L115.2 630.60 L115.7 630.60 L116.2 630.60 L116.7 630.60 L117.2 630.60 L117.7 630.60 L118.2 630.60 L118.7 630.60 L119.2 630.60 L119.7 630.60 L120.2 630.60 L120.7 630.60 L121.2 630.60 L121.7 630.60 L122.2 630.60 L122.7 630.60 L123.2 630.60 L123.7 630.60 L124.2 630.60 L124.7 630.60 L125.2 630.60 L125.7 630.60 L126.3 630.60 L126.8 630.60 L127.3 630.60 L127.8 630.60 L128.3 630.60 L128.8 630.60 L129.3 630.60 L129.8 630.60 L130.3 630.60 L130.8 630.60 L131.3 630.60 L131.8 630.60 L132.3 630.60 L132.8 630.60 L133.3 630.60 L133.8 630.60 L134.3 630.60 L134.8 630.59 L135.3 630.59 L135.8 630.59 L136.3 630.58 L136.8 630.57 L137.3 630.56 L137.8 630.55 L138.3 630.53 L138.8 630.51 L139.3 630.47 L139.8 630.43 L140.3 630.38 L140.8 630.30 L141.3 630.21 L141.8 630.10 L142.3 629.95 L142.8 629.77 L143.3 629.54 L143.8 629.26 L144.3 628.92 L144.8 628.51 L145.3 628.03 L145.8 627.45 L146.3 626.77 L146.8 625.97 L147.3 625.06 L147.8 624.01 L148.3 622.82 L148.8 621.49 L149.3 620.01 L149.8 618.38 L150.3 616.60 L150.8 614.68 L151.3 612.64 L151.8 610.48 L152.3 608.23 L152.8 605.92 L153.3 603.57 L153.8 601.21 L154.3 598.89 L154.8 596.64 L155.3 594.49 L155.8 592.50 L156.3 590.70 L156.8 589.12 L157.3 587.79 L157.8 586.76 L158.3 586.03 L158.8 585.62 L159.3 585.55 L159.8 585.81 L160.3 586.40 L160.8 587.31 L161.3 588.51 L161.8 589.97 L162.3 591.68 L162.8 593.58 L163.3 595.65 L163.8 597.84 L164.3 600.12 L164.8 602.44 L165.3 604.77 L165.8 607.08 L166.3 609.32 L166.8 611.49 L167.3 613.54 L167.8 615.47 L168.3 617.26 L168.8 618.91 L169.3 620.41 L169.8 621.75 L170.3 622.95 L170.8 624.00 L171.3 624.91 L171.8 625.70 L172.3 626.37 L172.8 626.93 L173.3 627.39 L173.9 627.77 L174.4 628.07 L174.9 628.31 L175.4 628.50 L175.9 628.64 L176.4 628.74 L176.9 628.80 L177.4 628.84 L177.9 628.87 L178.4 628.87 L178.9 628.86 L179.4 628.85 L179.9 628.82 L180.4 628.80 L180.9 628.77 L181.4 628.74 L181.9 628.71 L182.4 628.68 L182.9 628.66 L183.4 628.64 L183.9 628.62 L184.4 628.61 L184.9 628.60 L185.4 628.60 L185.9 628.60 L186.4 628.61 L186.9 628.62 L187.4 628.63 L187.9 628.65 L188.4 628.68 L188.9 628.70 L189.4 628.74 L189.9 628.78 L190.4 628.82 L190.9 628.86 L191.4 628.91 L191.9 628.96 L192.4 629.01 L192.9 629.06 L193.4 629.12 L193.9 629.18 L194.4 629.23 L194.9 629.29 L195.4 629.35 L195.9 629.41 L196.4 629.47 L196.9 629.52 L197.4 629.58 L197.9 629.63 L198.4 629.69 L198.9 629.74 L199.4 629.79 L199.9 629.83 L200.4 629.87 L200.9 629.92 L201.4 629.95 L201.9 629.99 L202.4 630.02 L202.9 630.05 L203.4 630.07 L203.9 630.09 L204.4 630.11 L204.9 630.12 L205.4 630.13 L205.9 630.14 L206.4 630.14 L206.9 630.14 L207.4 630.14 L207.9 630.13 L208.4 630.12 L208.9 630.11 L209.4 630.09 L209.9 630.07 L210.4 630.05 L210.9 630.02 L211.4 630.00 L211.9 629.97 L212.4 629.93 L212.9 629.90 L213.4 629.86 L213.9 629.82 L214.4 629.78 L214.9 629.74 L215.4 629.70 L215.9 629.66 L216.4 629.62 L216.9 629.57 L217.4 629.53 L217.9 629.49 L218.4 629.45 L218.9 629.41 L219.4 629.37 L219.9 629.33 L220.4 629.30 L220.9 629.26 L221.4 629.23 L222.0 629.21 L222.5 629.18 L223.0 629.16 L223.5 629.14 L224.0 629.12 L224.5 629.11 L225.0 629.10 L225.5 629.10 L226.0 629.10 L226.5 629.10 L227.0 629.11 L227.5 629.12 L228.0 629.13 L228.5 629.15 L229.0 629.17 L229.5 629.20 L230.0 629.22 L230.5 629.25 L231.0 629.28 L231.5 629.32 L232.0 629.35 L232.5 629.38 L233.0 629.42 L233.5 629.45 L234.0 629.48 L234.5 629.50 L235.0 629.52 L235.5 629.53 L236.0 629.52 L236.5 629.49 L237.0 629.44 L237.5 629.36 L238.0 629.23 L238.5 629.06 L239.0 628.83 L239.5 628.52 L240.0 628.13 L240.5 627.63 L241.0 627.02 L241.5 626.26 L242.0 625.36 L242.5 624.29 L243.0 623.03 L243.5 621.59 L244.0 619.95 L244.5 618.11 L245.0 616.08 L245.5 613.87" stroke="#1a1aff" stroke-width="1.55"/>
<path d="M102.2 623.49 L102.7 623.91 L103.2 624.08 L103.7 623.98 L104.2 623.62 L104.7 622.99 L105.2 622.08 L105.7 620.90 L106.2 619.44 L106.7 617.71 L107.2 615.69 L107.7 613.41 L108.2 610.87 L108.7 608.09 L109.2 605.10 L109.7 601.92 L110.2 598.60 L110.7 595.19 L111.2 591.75 L111.7 588.32 L112.2 584.98 L112.7 581.79 L113.2 578.83 L113.7 576.15 L114.2 573.83 L114.7 571.91 L115.2 570.45 L115.7 569.48 L116.2 569.03 L116.7 569.11 L117.2 569.71 L117.7 570.82 L118.2 572.41 L118.7 574.45 L119.2 576.88 L119.7 579.64 L120.2 582.67 L120.7 585.90 L121.2 589.27 L121.7 592.70 L122.2 596.13 L122.7 599.50 L123.2 602.75 L123.7 605.85 L124.2 608.75 L124.7 611.41 L125.2 613.81 L125.7 615.93 L126.3 617.77 L126.8 619.29 L127.3 620.51 L127.8 621.42 L128.3 622.02 L128.8 622.30 L129.3 622.27 L129.8 621.92 L130.3 621.25 L130.8 620.27 L131.3 618.98 L131.8 617.37 L132.3 615.46 L132.8 613.25 L133.3 610.76 L133.8 608.01 L134.3 605.03 L134.8 601.84 L135.3 598.49 L135.8 595.04 L136.3 591.53 L136.8 588.02 L137.3 584.59 L137.8 581.30 L138.3 578.22 L138.8 575.42 L139.3 572.97 L139.8 570.93 L140.3 569.34 L140.8 568.25 L141.3 567.68 L141.8 567.65 L142.3 568.16 L142.8 569.20 L143.3 570.74 L143.8 572.74 L144.3 575.15 L144.8 577.92 L145.3 580.98 L145.8 584.26 L146.3 587.69 L146.8 591.21 L147.3 594.76 L147.8 598.26 L148.3 601.67 L148.8 604.94 L149.3 608.04 L149.8 610.94 L150.3 613.60 L150.8 616.04 L151.3 618.23 L151.8 620.18 L152.3 621.90 L152.8 623.40 L153.3 624.69 L153.8 625.79 L154.3 626.72 L154.8 627.50 L155.3 628.14 L155.8 628.67 L156.3 629.09 L156.8 629.43 L157.3 629.71 L157.8 629.92 L158.3 630.09 L158.8 630.22 L159.3 630.32 L159.8 630.39 L160.3 630.45 L160.8 630.49 L161.3 630.52 L161.8 630.54 L162.3 630.56 L162.8 630.57 L163.3 630.58 L163.8 630.59 L164.3 630.59 L164.8 630.59 L165.3 630.60 L165.8 630.60 L166.3 630.60 L166.8 630.60 L167.3 630.60 L167.8 630.60 L168.3 630.60 L168.8 630.60 L169.3 630.60 L169.8 630.60 L170.3 630.60 L170.8 630.60 L171.3 630.60 L171.8 630.60 L172.3 630.60 L172.8 630.60 L173.3 630.60 L173.9 630.60 L174.4 630.60 L174.9 630.60 L175.4 630.60 L175.9 630.60 L176.4 630.60 L176.9 630.60 L177.4 630.60 L177.9 630.60 L178.4 630.60 L178.9 630.60 L179.4 630.60 L179.9 630.60 L180.4 630.60 L180.9 630.60 L181.4 630.60 L181.9 630.60 L182.4 630.60 L182.9 630.60 L183.4 630.60 L183.9 630.60 L184.4 630.60 L184.9 630.60 L185.4 630.60 L185.9 630.60 L186.4 630.60 L186.9 630.60 L187.4 630.59 L187.9 630.59 L188.4 630.59 L188.9 630.58 L189.4 630.57 L189.9 630.55 L190.4 630.53 L190.9 630.50 L191.4 630.45 L191.9 630.39 L192.4 630.30 L192.9 630.18 L193.4 630.02 L193.9 629.80 L194.4 629.52 L194.9 629.16 L195.4 628.68 L195.9 628.09 L196.4 627.33 L196.9 626.40 L197.4 625.25 L197.9 623.85 L198.4 622.18 L198.9 620.21 L199.4 617.90 L199.9 615.24 L200.4 612.20 L200.9 608.80 L201.4 605.02 L201.9 600.90 L202.4 596.47 L202.9 591.77 L203.4 586.88 L203.9 581.88 L204.4 576.85 L204.9 571.91 L205.4 567.17 L205.9 562.75 L206.4 558.76 L206.9 555.30 L207.4 552.49 L207.9 550.40 L208.4 549.09 L208.9 548.60 L209.4 548.95 L209.9 550.13 L210.4 552.10 L210.9 554.80 L211.4 558.16 L211.9 562.07 L212.4 566.43 L212.9 571.13 L213.4 576.04 L213.9 581.05 L214.4 586.06 L214.9 590.96 L215.4 595.68 L215.9 600.13 L216.4 604.27 L216.9 608.05 L217.4 611.45 L217.9 614.46 L218.4 617.06 L218.9 619.26 L219.4 621.07 L219.9 622.51 L220.4 623.58 L220.9 624.31 L221.4 624.69 L222.0 624.75 L222.5 624.49 L223.0 623.90 L223.5 622.98 L224.0 621.73 L224.5 620.15 L225.0 618.24 L225.5 615.98 L226.0 613.39 L226.5 610.48 L227.0 607.26 L227.5 603.77 L228.0 600.06 L228.5 596.16 L229.0 592.16 L229.5 588.12 L230.0 584.13 L230.5 580.28 L231.0 576.66 L231.5 573.37 L232.0 570.50 L232.5 568.13 L233.0 566.33 L233.5 565.15 L234.0 564.63 L234.5 564.78 L235.0 565.60 L235.5 567.06 L236.0 569.12 L236.5 571.73 L237.0 574.79 L237.5 578.24 L238.0 581.97 L238.5 585.90 L239.0 589.92 L239.5 593.96 L240.0 597.93 L240.5 601.76 L241.0 605.39 L241.5 608.78 L242.0 611.89 L242.5 614.70 L243.0 617.19 L243.5 619.37 L244.0 621.24 L244.5 622.80 L245.0 624.08 L245.5 625.09" stroke="#111111" stroke-width="1.65"/>
</g>
<rect x="102.2" y="547.0" width="143.3" height="85.0" fill="none" stroke="#555555" stroke-width="2.2" stroke-dasharray="2.5 3.4"/>
<text x="170.0" y="566.0" font-size="14" fill="#ff1a1a" text-anchor="start" font-weight="normal" font-style="normal" >N.D.</text>
<clipPath id="clip41"><rect x="261.7" y="547.0" width="143.6" height="85.6"/></clipPath>
<g clip-path="url(#clip41)" fill="none" stroke-linejoin="round" stroke-linecap="round">
<path d="M262.1 630.60 L262.6 630.60 L263.1 630.60 L263.6 630.60 L264.1 630.60 L264.6 630.60 L265.1 630.60 L265.6 630.60 L266.1 630.60 L266.6 630.60 L267.1 630.60 L267.6 630.60 L268.1 630.60 L268.6 630.60 L269.1 630.60 L269.6 630.60 L270.1 630.60 L270.6 630.60 L271.1 630.60 L271.6 630.60 L272.1 630.60 L272.6 630.60 L273.1 630.60 L273.6 630.60 L274.1 630.60 L274.6 630.60 L275.1 630.60 L275.6 630.60 L276.1 630.60 L276.6 630.60 L277.1 630.60 L277.6 630.60 L278.1 630.60 L278.6 630.60 L279.1 630.60 L279.6 630.60 L280.1 630.60 L280.6 630.60 L281.1 630.60 L281.6 630.60 L282.1 630.60 L282.6 630.60 L283.1 630.60 L283.6 630.60 L284.1 630.60 L284.6 630.60 L285.1 630.60 L285.6 630.60 L286.2 630.60 L286.7 630.60 L287.2 630.60 L287.7 630.60 L288.2 630.60 L288.7 630.60 L289.2 630.60 L289.7 630.60 L290.2 630.60 L290.7 630.60 L291.2 630.60 L291.7 630.60 L292.2 630.60 L292.7 630.60 L293.2 630.60 L293.7 630.60 L294.2 630.60 L294.7 630.60 L295.2 630.60 L295.7 630.60 L296.2 630.60 L296.7 630.60 L297.2 630.60 L297.7 630.60 L298.2 630.60 L298.7 630.60 L299.2 630.60 L299.7 630.60 L300.2 630.60 L300.7 630.60 L301.2 630.60 L301.7 630.60 L302.2 630.60 L302.7 630.60 L303.2 630.60 L303.7 630.60 L304.2 630.60 L304.7 630.60 L305.2 630.60 L305.7 630.60 L306.2 630.60 L306.7 630.60 L307.2 630.60 L307.7 630.60 L308.2 630.60 L308.7 630.60 L309.2 630.60 L309.7 630.60 L310.2 630.60 L310.7 630.60 L311.2 630.60 L311.7 630.60 L312.2 630.60 L312.7 630.60 L313.2 630.60 L313.7 630.60 L314.2 630.60 L314.7 630.60 L315.2 630.60 L315.7 630.60 L316.2 630.60 L316.7 630.60 L317.2 630.60 L317.7 630.60 L318.2 630.60 L318.7 630.60 L319.2 630.60 L319.7 630.60 L320.2 630.60 L320.7 630.60 L321.2 630.60 L321.7 630.60 L322.2 630.60 L322.7 630.60 L323.2 630.60 L323.7 630.60 L324.2 630.60 L324.7 630.60 L325.2 630.59 L325.7 630.59 L326.2 630.59 L326.7 630.59 L327.2 630.58 L327.7 630.58 L328.2 630.57 L328.7 630.56 L329.2 630.55 L329.7 630.54 L330.2 630.52 L330.7 630.51 L331.2 630.48 L331.7 630.46 L332.2 630.42 L332.7 630.39 L333.2 630.34 L333.8 630.29 L334.3 630.23 L334.8 630.16 L335.3 630.09 L335.8 630.00 L336.3 629.91 L336.8 629.81 L337.3 629.69 L337.8 629.57 L338.3 629.44 L338.8 629.31 L339.3 629.16 L339.8 629.01 L340.3 628.86 L340.8 628.71 L341.3 628.56 L341.8 628.41 L342.3 628.27 L342.8 628.14 L343.3 628.01 L343.8 627.90 L344.3 627.81 L344.8 627.73 L345.3 627.67 L345.8 627.62 L346.3 627.60 L346.8 627.60 L347.3 627.62 L347.8 627.66 L348.3 627.72 L348.8 627.80 L349.3 627.90 L349.8 628.01 L350.3 628.13 L350.8 628.26 L351.3 628.41 L351.8 628.55 L352.3 628.70 L352.8 628.86 L353.3 629.01 L353.8 629.16 L354.3 629.30 L354.8 629.44 L355.3 629.57 L355.8 629.69 L356.3 629.80 L356.8 629.90 L357.3 630.00 L357.8 630.08 L358.3 630.16 L358.8 630.23 L359.3 630.29 L359.8 630.34 L360.3 630.38 L360.8 630.42 L361.3 630.45 L361.8 630.48 L362.3 630.51 L362.8 630.52 L363.3 630.54 L363.8 630.55 L364.3 630.56 L364.8 630.57 L365.3 630.58 L365.8 630.58 L366.3 630.59 L366.8 630.59 L367.3 630.59 L367.8 630.59 L368.3 630.60 L368.8 630.60 L369.3 630.60 L369.8 630.60 L370.3 630.60 L370.8 630.60 L371.3 630.60 L371.8 630.60 L372.3 630.60 L372.8 630.60 L373.3 630.60 L373.8 630.60 L374.3 630.60 L374.8 630.60 L375.3 630.60 L375.8 630.60 L376.3 630.60 L376.8 630.60 L377.3 630.60 L377.8 630.60 L378.3 630.60 L378.8 630.60 L379.3 630.60 L379.8 630.60 L380.3 630.60 L380.8 630.60 L381.4 630.60 L381.9 630.60 L382.4 630.60 L382.9 630.60 L383.4 630.60 L383.9 630.60 L384.4 630.60 L384.9 630.60 L385.4 630.60 L385.9 630.60 L386.4 630.60 L386.9 630.60 L387.4 630.60 L387.9 630.60 L388.4 630.60 L388.9 630.60 L389.4 630.60 L389.9 630.60 L390.4 630.60 L390.9 630.60 L391.4 630.60 L391.9 630.60 L392.4 630.60 L392.9 630.60 L393.4 630.60 L393.9 630.60 L394.4 630.60 L394.9 630.60 L395.4 630.60 L395.9 630.60 L396.4 630.60 L396.9 630.60 L397.4 630.60 L397.9 630.60 L398.4 630.60 L398.9 630.60 L399.4 630.60 L399.9 630.60 L400.4 630.60 L400.9 630.60 L401.4 630.60 L401.9 630.60 L402.4 630.60 L402.9 630.60 L403.4 630.60 L403.9 630.60 L404.4 630.60 L404.9 630.60" stroke="#1a9a4a" stroke-width="1.0"/>
<path d="M262.1 630.60 L262.6 630.60 L263.1 630.60 L263.6 630.60 L264.1 630.60 L264.6 630.60 L265.1 630.60 L265.6 630.60 L266.1 630.60 L266.6 630.60 L267.1 630.60 L267.6 630.60 L268.1 630.60 L268.6 630.60 L269.1 630.60 L269.6 630.60 L270.1 630.60 L270.6 630.60 L271.1 630.60 L271.6 630.60 L272.1 630.60 L272.6 630.60 L273.1 630.60 L273.6 630.60 L274.1 630.60 L274.6 630.60 L275.1 630.60 L275.6 630.60 L276.1 630.60 L276.6 630.60 L277.1 630.60 L277.6 630.60 L278.1 630.60 L278.6 630.60 L279.1 630.60 L279.6 630.60 L280.1 630.60 L280.6 630.60 L281.1 630.60 L281.6 630.60 L282.1 630.60 L282.6 630.60 L283.1 630.60 L283.6 630.60 L284.1 630.60 L284.6 630.60 L285.1 630.60 L285.6 630.60 L286.2 630.60 L286.7 630.60 L287.2 630.60 L287.7 630.60 L288.2 630.60 L288.7 630.60 L289.2 630.60 L289.7 630.60 L290.2 630.60 L290.7 630.60 L291.2 630.60 L291.7 630.60 L292.2 630.60 L292.7 630.60 L293.2 630.60 L293.7 630.59 L294.2 630.59 L294.7 630.59 L295.2 630.59 L295.7 630.58 L296.2 630.58 L296.7 630.58 L297.2 630.57 L297.7 630.56 L298.2 630.55 L298.7 630.54 L299.2 630.52 L299.7 630.51 L300.2 630.49 L300.7 630.46 L301.2 630.44 L301.7 630.41 L302.2 630.37 L302.7 630.33 L303.2 630.29 L303.7 630.24 L304.2 630.19 L304.7 630.13 L305.2 630.07 L305.7 630.00 L306.2 629.93 L306.7 629.86 L307.2 629.79 L307.7 629.71 L308.2 629.64 L308.7 629.56 L309.2 629.49 L309.7 629.42 L310.2 629.35 L310.7 629.29 L311.2 629.24 L311.7 629.19 L312.2 629.15 L312.7 629.13 L313.2 629.11 L313.7 629.10 L314.2 629.10 L314.7 629.11 L315.2 629.14 L315.7 629.17 L316.2 629.21 L316.7 629.26 L317.2 629.31 L317.7 629.37 L318.2 629.43 L318.7 629.49 L319.2 629.55 L319.7 629.61 L320.2 629.65 L320.7 629.69 L321.2 629.70 L321.7 629.69 L322.2 629.66 L322.7 629.58 L323.2 629.45 L323.7 629.25 L324.2 628.98 L324.7 628.62 L325.2 628.14 L325.7 627.54 L326.2 626.78 L326.7 625.85 L327.2 624.72 L327.7 623.39 L328.2 621.82 L328.7 620.02 L329.2 617.97 L329.7 615.67 L330.2 613.14 L330.7 610.40 L331.2 607.48 L331.7 604.41 L332.2 601.26 L332.7 598.08 L333.2 594.95 L333.8 591.94 L334.3 589.12 L334.8 586.59 L335.3 584.40 L335.8 582.63 L336.3 581.33 L336.8 580.55 L337.3 580.30 L337.8 580.60 L338.3 581.44 L338.8 582.78 L339.3 584.60 L339.8 586.82 L340.3 589.39 L340.8 592.23 L341.3 595.26 L341.8 598.40 L342.3 601.58 L342.8 604.73 L343.3 607.79 L343.8 610.71 L344.3 613.44 L344.8 615.95 L345.3 618.24 L345.8 620.28 L346.3 622.07 L346.8 623.63 L347.3 624.97 L347.8 626.10 L348.3 627.04 L348.8 627.82 L349.3 628.45 L349.8 628.95 L350.3 629.35 L350.8 629.67 L351.3 629.91 L351.8 630.09 L352.3 630.23 L352.8 630.34 L353.3 630.41 L353.8 630.47 L354.3 630.51 L354.8 630.54 L355.3 630.56 L355.8 630.57 L356.3 630.58 L356.8 630.59 L357.3 630.59 L357.8 630.59 L358.3 630.60 L358.8 630.60 L359.3 630.60 L359.8 630.60 L360.3 630.60 L360.8 630.60 L361.3 630.60 L361.8 630.60 L362.3 630.60 L362.8 630.60 L363.3 630.60 L363.8 630.60 L364.3 630.60 L364.8 630.60 L365.3 630.60 L365.8 630.60 L366.3 630.60 L366.8 630.60 L367.3 630.60 L367.8 630.60 L368.3 630.60 L368.8 630.60 L369.3 630.60 L369.8 630.60 L370.3 630.60 L370.8 630.60 L371.3 630.60 L371.8 630.60 L372.3 630.60 L372.8 630.60 L373.3 630.60 L373.8 630.60 L374.3 630.60 L374.8 630.60 L375.3 630.60 L375.8 630.60 L376.3 630.60 L376.8 630.60 L377.3 630.60 L377.8 630.60 L378.3 630.60 L378.8 630.60 L379.3 630.60 L379.8 630.60 L380.3 630.60 L380.8 630.60 L381.4 630.60 L381.9 630.60 L382.4 630.60 L382.9 630.60 L383.4 630.60 L383.9 630.60 L384.4 630.60 L384.9 630.60 L385.4 630.60 L385.9 630.60 L386.4 630.60 L386.9 630.60 L387.4 630.60 L387.9 630.60 L388.4 630.60 L388.9 630.60 L389.4 630.60 L389.9 630.60 L390.4 630.60 L390.9 630.60 L391.4 630.60 L391.9 630.60 L392.4 630.60 L392.9 630.60 L393.4 630.60 L393.9 630.60 L394.4 630.60 L394.9 630.60 L395.4 630.60 L395.9 630.60 L396.4 630.60 L396.9 630.60 L397.4 630.60 L397.9 630.60 L398.4 630.60 L398.9 630.60 L399.4 630.60 L399.9 630.60 L400.4 630.60 L400.9 630.60 L401.4 630.60 L401.9 630.60 L402.4 630.60 L402.9 630.60 L403.4 630.60 L403.9 630.60 L404.4 630.60 L404.9 630.60" stroke="#ff1a1a" stroke-width="1.55"/>
<path d="M262.1 630.60 L262.6 630.60 L263.1 630.60 L263.6 630.60 L264.1 630.60 L264.6 630.60 L265.1 630.60 L265.6 630.60 L266.1 630.60 L266.6 630.60 L267.1 630.60 L267.6 630.60 L268.1 630.60 L268.6 630.60 L269.1 630.60 L269.6 630.60 L270.1 630.60 L270.6 630.60 L271.1 630.60 L271.6 630.60 L272.1 630.60 L272.6 630.60 L273.1 630.60 L273.6 630.60 L274.1 630.60 L274.6 630.60 L275.1 630.60 L275.6 630.60 L276.1 630.60 L276.6 630.60 L277.1 630.60 L277.6 630.60 L278.1 630.60 L278.6 630.60 L279.1 630.60 L279.6 630.60 L280.1 630.60 L280.6 630.60 L281.1 630.60 L281.6 630.60 L282.1 630.60 L282.6 630.60 L283.1 630.60 L283.6 630.60 L284.1 630.60 L284.6 630.60 L285.1 630.60 L285.6 630.60 L286.2 630.60 L286.7 630.60 L287.2 630.60 L287.7 630.60 L288.2 630.60 L288.7 630.60 L289.2 630.60 L289.7 630.60 L290.2 630.60 L290.7 630.60 L291.2 630.60 L291.7 630.60 L292.2 630.60 L292.7 630.60 L293.2 630.60 L293.7 630.59 L294.2 630.59 L294.7 630.59 L295.2 630.58 L295.7 630.58 L296.2 630.57 L296.7 630.55 L297.2 630.54 L297.7 630.51 L298.2 630.48 L298.7 630.44 L299.2 630.39 L299.7 630.32 L300.2 630.24 L300.7 630.13 L301.2 629.99 L301.7 629.81 L302.2 629.59 L302.7 629.32 L303.2 628.99 L303.7 628.59 L304.2 628.11 L304.7 627.53 L305.2 626.86 L305.7 626.06 L306.2 625.14 L306.7 624.08 L307.2 622.87 L307.7 621.50 L308.2 619.97 L308.7 618.28 L309.2 616.42 L309.7 614.41 L310.2 612.24 L310.7 609.94 L311.2 607.53 L311.7 605.03 L312.2 602.46 L312.7 599.87 L313.2 597.29 L313.7 594.76 L314.2 592.33 L314.7 590.04 L315.2 587.92 L315.7 586.03 L316.2 584.41 L316.7 583.08 L317.2 582.07 L317.7 581.41 L318.2 581.12 L318.7 581.19 L319.2 581.63 L319.7 582.42 L320.2 583.56 L320.7 585.01 L321.2 586.74 L321.7 588.72 L322.2 590.91 L322.7 593.27 L323.2 595.74 L323.7 598.30 L324.2 600.88 L324.7 603.47 L325.2 606.01 L325.7 608.48 L326.2 610.85 L326.7 613.09 L327.2 615.20 L327.7 617.15 L328.2 618.93 L328.7 620.56 L329.2 622.01 L329.7 623.31 L330.2 624.45 L330.7 625.45 L331.2 626.31 L331.7 627.04 L332.2 627.66 L332.7 628.18 L333.2 628.61 L333.8 628.95 L334.3 629.23 L334.8 629.45 L335.3 629.62 L335.8 629.74 L336.3 629.82 L336.8 629.88 L337.3 629.90 L337.8 629.91 L338.3 629.89 L338.8 629.86 L339.3 629.81 L339.8 629.75 L340.3 629.69 L340.8 629.61 L341.3 629.52 L341.8 629.43 L342.3 629.33 L342.8 629.23 L343.3 629.13 L343.8 629.02 L344.3 628.90 L344.8 628.79 L345.3 628.68 L345.8 628.56 L346.3 628.45 L346.8 628.35 L347.3 628.24 L347.8 628.14 L348.3 628.05 L348.8 627.96 L349.3 627.88 L349.8 627.81 L350.3 627.75 L350.8 627.70 L351.3 627.66 L351.8 627.63 L352.3 627.61 L352.8 627.60 L353.3 627.61 L353.8 627.62 L354.3 627.65 L354.8 627.69 L355.3 627.74 L355.8 627.80 L356.3 627.87 L356.8 627.95 L357.3 628.03 L357.8 628.13 L358.3 628.23 L358.8 628.33 L359.3 628.44 L359.8 628.55 L360.3 628.66 L360.8 628.78 L361.3 628.89 L361.8 629.00 L362.3 629.11 L362.8 629.22 L363.3 629.33 L363.8 629.43 L364.3 629.53 L364.8 629.62 L365.3 629.71 L365.8 629.80 L366.3 629.88 L366.8 629.95 L367.3 630.02 L367.8 630.08 L368.3 630.14 L368.8 630.19 L369.3 630.24 L369.8 630.29 L370.3 630.33 L370.8 630.36 L371.3 630.39 L371.8 630.42 L372.3 630.45 L372.8 630.47 L373.3 630.49 L373.8 630.50 L374.3 630.52 L374.8 630.53 L375.3 630.54 L375.8 630.55 L376.3 630.56 L376.8 630.57 L377.3 630.57 L377.8 630.58 L378.3 630.58 L378.8 630.58 L379.3 630.59 L379.8 630.59 L380.3 630.59 L380.8 630.59 L381.4 630.59 L381.9 630.60 L382.4 630.60 L382.9 630.60 L383.4 630.60 L383.9 630.60 L384.4 630.60 L384.9 630.60 L385.4 630.60 L385.9 630.60 L386.4 630.60 L386.9 630.60 L387.4 630.60 L387.9 630.60 L388.4 630.60 L388.9 630.60 L389.4 630.60 L389.9 630.60 L390.4 630.60 L390.9 630.59 L391.4 630.59 L391.9 630.59 L392.4 630.58 L392.9 630.57 L393.4 630.55 L393.9 630.53 L394.4 630.51 L394.9 630.47 L395.4 630.41 L395.9 630.34 L396.4 630.24 L396.9 630.12 L397.4 629.95 L397.9 629.73 L398.4 629.46 L398.9 629.11 L399.4 628.68 L399.9 628.14 L400.4 627.49 L400.9 626.70 L401.4 625.76 L401.9 624.66 L402.4 623.38 L402.9 621.91 L403.4 620.24 L403.9 618.37 L404.4 616.32 L404.9 614.09" stroke="#1a1aff" stroke-width="1.55"/>
<path d="M262.1 620.87 L262.6 621.35 L263.1 621.56 L263.6 621.50 L264.1 621.17 L264.6 620.57 L265.1 619.68 L265.6 618.52 L266.1 617.08 L266.6 615.37 L267.1 613.40 L267.6 611.18 L268.1 608.72 L268.6 606.05 L269.1 603.19 L269.6 600.17 L270.1 597.04 L270.6 593.82 L271.1 590.58 L271.6 587.36 L272.1 584.21 L272.6 581.20 L273.1 578.37 L273.6 575.80 L274.1 573.51 L274.6 571.58 L275.1 570.03 L275.6 568.90 L276.1 568.21 L276.6 567.99 L277.1 568.23 L277.6 568.92 L278.1 570.07 L278.6 571.62 L279.1 573.56 L279.6 575.84 L280.1 578.41 L280.6 581.21 L281.1 584.20 L281.6 587.30 L282.1 590.46 L282.6 593.63 L283.1 596.75 L283.6 599.76 L284.1 602.62 L284.6 605.30 L285.1 607.74 L285.6 609.92 L286.2 611.82 L286.7 613.41 L287.2 614.68 L287.7 615.61 L288.2 616.20 L288.7 616.43 L289.2 616.31 L289.7 615.85 L290.2 615.03 L290.7 613.88 L291.2 612.41 L291.7 610.63 L292.2 608.56 L292.7 606.23 L293.2 603.67 L293.7 600.92 L294.2 598.01 L294.7 595.00 L295.2 591.92 L295.7 588.84 L296.2 585.81 L296.7 582.88 L297.2 580.12 L297.7 577.58 L298.2 575.32 L298.7 573.38 L299.2 571.81 L299.7 570.64 L300.2 569.89 L300.7 569.59 L301.2 569.75 L301.7 570.35 L302.2 571.40 L302.7 572.85 L303.2 574.69 L303.7 576.87 L304.2 579.35 L304.7 582.08 L305.2 585.01 L305.7 588.08 L306.2 591.23 L306.7 594.42 L307.2 597.61 L307.7 600.73 L308.2 603.76 L308.7 606.66 L309.2 609.41 L309.7 611.98 L310.2 614.36 L310.7 616.54 L311.2 618.52 L311.7 620.30 L312.2 621.88 L312.7 623.27 L313.2 624.49 L313.7 625.54 L314.2 626.45 L314.7 627.21 L315.2 627.86 L315.7 628.40 L316.2 628.84 L316.7 629.21 L317.2 629.51 L317.7 629.75 L318.2 629.94 L318.7 630.09 L319.2 630.21 L319.7 630.31 L320.2 630.38 L320.7 630.44 L321.2 630.48 L321.7 630.51 L322.2 630.54 L322.7 630.55 L323.2 630.57 L323.7 630.58 L324.2 630.58 L324.7 630.59 L325.2 630.59 L325.7 630.59 L326.2 630.60 L326.7 630.60 L327.2 630.60 L327.7 630.60 L328.2 630.60 L328.7 630.60 L329.2 630.60 L329.7 630.59 L330.2 630.59 L330.7 630.58 L331.2 630.57 L331.7 630.56 L332.2 630.54 L332.7 630.51 L333.2 630.47 L333.8 630.42 L334.3 630.35 L334.8 630.25 L335.3 630.12 L335.8 629.95 L336.3 629.74 L336.8 629.47 L337.3 629.14 L337.8 628.74 L338.3 628.26 L338.8 627.70 L339.3 627.06 L339.8 626.34 L340.3 625.54 L340.8 624.69 L341.3 623.78 L341.8 622.84 L342.3 621.91 L342.8 620.99 L343.3 620.13 L343.8 619.36 L344.3 618.69 L344.8 618.17 L345.3 617.81 L345.8 617.61 L346.3 617.61 L346.8 617.78 L347.3 618.13 L347.8 618.63 L348.3 619.27 L348.8 620.01 L349.3 620.83 L349.8 621.69 L350.3 622.56 L350.8 623.41 L351.3 624.20 L351.8 624.90 L352.3 625.50 L352.8 625.97 L353.3 626.28 L353.8 626.43 L354.3 626.39 L354.8 626.16 L355.3 625.71 L355.8 625.03 L356.3 624.11 L356.8 622.93 L357.3 621.48 L357.8 619.73 L358.3 617.68 L358.8 615.32 L359.3 612.63 L359.8 609.63 L360.3 606.31 L360.8 602.70 L361.3 598.81 L361.8 594.69 L362.3 590.37 L362.8 585.92 L363.3 581.40 L363.8 576.89 L364.3 572.47 L364.8 568.22 L365.3 564.23 L365.8 560.59 L366.3 557.39 L366.8 554.70 L367.3 552.58 L367.8 551.09 L368.3 550.27 L368.8 550.13 L369.3 550.69 L369.8 551.92 L370.3 553.79 L370.8 556.26 L371.3 559.27 L371.8 562.75 L372.3 566.60 L372.8 570.75 L373.3 575.11 L373.8 579.59 L374.3 584.10 L374.8 588.56 L375.3 592.90 L375.8 597.07 L376.3 601.00 L376.8 604.65 L377.3 608.00 L377.8 611.02 L378.3 613.68 L378.8 615.99 L379.3 617.94 L379.8 619.54 L380.3 620.78 L380.8 621.67 L381.4 622.23 L381.9 622.45 L382.4 622.35 L382.9 621.93 L383.4 621.19 L383.9 620.14 L384.4 618.79 L384.9 617.14 L385.4 615.21 L385.9 613.00 L386.4 610.54 L386.9 607.86 L387.4 604.97 L387.9 601.91 L388.4 598.74 L388.9 595.50 L389.4 592.24 L389.9 589.03 L390.4 585.92 L390.9 582.99 L391.4 580.31 L391.9 577.92 L392.4 575.89 L392.9 574.27 L393.4 573.09 L393.9 572.40 L394.4 572.20 L394.9 572.50 L395.4 573.30 L395.9 574.56 L396.4 576.27 L396.9 578.38 L397.4 580.83 L397.9 583.57 L398.4 586.54 L398.9 589.67 L399.4 592.89 L399.9 596.15 L400.4 599.38 L400.9 602.53 L401.4 605.55 L401.9 608.40 L402.4 611.05 L402.9 613.48 L403.4 615.66 L403.9 617.58 L404.4 619.25 L404.9 620.64" stroke="#111111" stroke-width="1.65"/>
</g>
<rect x="262.1" y="547.0" width="142.8" height="85.0" fill="none" stroke="#555555" stroke-width="2.2" stroke-dasharray="2.5 3.4"/>
<text x="321.6" y="566.0" font-size="14" fill="#ff1a1a"><tspan font-family='"Liberation Sans", "Noto Sans CJK JP", sans-serif' textLength="14.6" lengthAdjust="spacingAndGlyphs">～</tspan><tspan x="336.4">22%</tspan></text>
<text x="90.4" y="688.9" font-size="17" fill="#1a1a1a" text-anchor="end" font-weight="normal" font-style="normal" >0</text>
<clipPath id="clip50"><rect x="101.8" y="640.1" width="144.1" height="85.6"/></clipPath>
<g clip-path="url(#clip50)" fill="none" stroke-linejoin="round" stroke-linecap="round">
<path d="M102.2 723.52 L102.7 723.50 L103.2 723.48 L103.7 723.45 L104.2 723.43 L104.7 723.40 L105.2 723.38 L105.7 723.35 L106.2 723.31 L106.7 723.28 L107.2 723.25 L107.7 723.21 L108.2 723.17 L108.7 723.14 L109.2 723.10 L109.7 723.05 L110.2 723.01 L110.7 722.97 L111.2 722.92 L111.7 722.88 L112.2 722.83 L112.7 722.79 L113.2 722.74 L113.7 722.70 L114.2 722.65 L114.7 722.61 L115.2 722.57 L115.7 722.52 L116.2 722.48 L116.7 722.44 L117.2 722.41 L117.7 722.37 L118.2 722.34 L118.7 722.31 L119.2 722.29 L119.7 722.26 L120.2 722.24 L120.7 722.23 L121.2 722.22 L121.7 722.21 L122.2 722.20 L122.7 722.20 L123.2 722.20 L123.7 722.21 L124.2 722.22 L124.7 722.23 L125.2 722.25 L125.7 722.27 L126.3 722.29 L126.8 722.32 L127.3 722.35 L127.8 722.38 L128.3 722.41 L128.8 722.45 L129.3 722.49 L129.8 722.53 L130.3 722.57 L130.8 722.62 L131.3 722.66 L131.8 722.71 L132.3 722.75 L132.8 722.80 L133.3 722.84 L133.8 722.89 L134.3 722.93 L134.8 722.98 L135.3 723.02 L135.8 723.06 L136.3 723.10 L136.8 723.14 L137.3 723.18 L137.8 723.22 L138.3 723.25 L138.8 723.29 L139.3 723.32 L139.8 723.35 L140.3 723.38 L140.8 723.41 L141.3 723.43 L141.8 723.46 L142.3 723.48 L142.8 723.50 L143.3 723.52 L143.8 723.54 L144.3 723.55 L144.8 723.57 L145.3 723.58 L145.8 723.60 L146.3 723.61 L146.8 723.62 L147.3 723.63 L147.8 723.64 L148.3 723.64 L148.8 723.65 L149.3 723.66 L149.8 723.66 L150.3 723.67 L150.8 723.67 L151.3 723.67 L151.8 723.68 L152.3 723.68 L152.8 723.68 L153.3 723.69 L153.8 723.69 L154.3 723.69 L154.8 723.69 L155.3 723.69 L155.8 723.69 L156.3 723.69 L156.8 723.70 L157.3 723.70 L157.8 723.70 L158.3 723.70 L158.8 723.70 L159.3 723.70 L159.8 723.70 L160.3 723.70 L160.8 723.70 L161.3 723.70 L161.8 723.70 L162.3 723.70 L162.8 723.70 L163.3 723.70 L163.8 723.70 L164.3 723.70 L164.8 723.70 L165.3 723.70 L165.8 723.70 L166.3 723.70 L166.8 723.70 L167.3 723.70 L167.8 723.70 L168.3 723.70 L168.8 723.70 L169.3 723.70 L169.8 723.70 L170.3 723.70 L170.8 723.70 L171.3 723.70 L171.8 723.70 L172.3 723.70 L172.8 723.70 L173.3 723.70 L173.9 723.70 L174.4 723.70 L174.9 723.70 L175.4 723.70 L175.9 723.70 L176.4 723.70 L176.9 723.70 L177.4 723.70 L177.9 723.70 L178.4 723.70 L178.9 723.70 L179.4 723.70 L179.9 723.70 L180.4 723.70 L180.9 723.70 L181.4 723.70 L181.9 723.70 L182.4 723.70 L182.9 723.70 L183.4 723.70 L183.9 723.70 L184.4 723.70 L184.9 723.70 L185.4 723.70 L185.9 723.70 L186.4 723.69 L186.9 723.69 L187.4 723.69 L187.9 723.69 L188.4 723.69 L188.9 723.69 L189.4 723.68 L189.9 723.68 L190.4 723.67 L190.9 723.67 L191.4 723.66 L191.9 723.66 L192.4 723.65 L192.9 723.64 L193.4 723.63 L193.9 723.62 L194.4 723.61 L194.9 723.59 L195.4 723.58 L195.9 723.56 L196.4 723.54 L196.9 723.51 L197.4 723.49 L197.9 723.46 L198.4 723.43 L198.9 723.40 L199.4 723.36 L199.9 723.33 L200.4 723.29 L200.9 723.24 L201.4 723.20 L201.9 723.15 L202.4 723.10 L202.9 723.05 L203.4 722.99 L203.9 722.94 L204.4 722.88 L204.9 722.83 L205.4 722.77 L205.9 722.71 L206.4 722.66 L206.9 722.60 L207.4 722.55 L207.9 722.50 L208.4 722.45 L208.9 722.40 L209.4 722.36 L209.9 722.32 L210.4 722.29 L210.9 722.26 L211.4 722.24 L211.9 722.22 L212.4 722.21 L212.9 722.20 L213.4 722.20 L213.9 722.21 L214.4 722.22 L214.9 722.23 L215.4 722.26 L215.9 722.28 L216.4 722.32 L216.9 722.35 L217.4 722.39 L217.9 722.44 L218.4 722.49 L218.9 722.54 L219.4 722.59 L219.9 722.64 L220.4 722.70 L220.9 722.76 L221.4 722.81 L222.0 722.87 L222.5 722.93 L223.0 722.98 L223.5 723.04 L224.0 723.09 L224.5 723.14 L225.0 723.19 L225.5 723.23 L226.0 723.28 L226.5 723.32 L227.0 723.36 L227.5 723.39 L228.0 723.42 L228.5 723.45 L229.0 723.48 L229.5 723.51 L230.0 723.53 L230.5 723.55 L231.0 723.57 L231.5 723.59 L232.0 723.60 L232.5 723.62 L233.0 723.63 L233.5 723.64 L234.0 723.65 L234.5 723.66 L235.0 723.66 L235.5 723.67 L236.0 723.67 L236.5 723.68 L237.0 723.68 L237.5 723.68 L238.0 723.69 L238.5 723.69 L239.0 723.69 L239.5 723.69 L240.0 723.69 L240.5 723.70 L241.0 723.70 L241.5 723.70 L242.0 723.70 L242.5 723.70 L243.0 723.70 L243.5 723.70 L244.0 723.70 L244.5 723.70 L245.0 723.70 L245.5 723.70" stroke="#1a9a4a" stroke-width="1.0"/>
<path d="M102.2 723.70 L102.7 723.70 L103.2 723.70 L103.7 723.70 L104.2 723.70 L104.7 723.70 L105.2 723.70 L105.7 723.70 L106.2 723.70 L106.7 723.70 L107.2 723.70 L107.7 723.70 L108.2 723.70 L108.7 723.70 L109.2 723.70 L109.7 723.70 L110.2 723.70 L110.7 723.70 L111.2 723.70 L111.7 723.70 L112.2 723.70 L112.7 723.70 L113.2 723.70 L113.7 723.70 L114.2 723.70 L114.7 723.70 L115.2 723.70 L115.7 723.70 L116.2 723.70 L116.7 723.70 L117.2 723.70 L117.7 723.70 L118.2 723.70 L118.7 723.70 L119.2 723.70 L119.7 723.70 L120.2 723.70 L120.7 723.70 L121.2 723.70 L121.7 723.70 L122.2 723.70 L122.7 723.70 L123.2 723.70 L123.7 723.70 L124.2 723.70 L124.7 723.70 L125.2 723.70 L125.7 723.70 L126.3 723.70 L126.8 723.70 L127.3 723.70 L127.8 723.70 L128.3 723.70 L128.8 723.70 L129.3 723.70 L129.8 723.70 L130.3 723.70 L130.8 723.70 L131.3 723.70 L131.8 723.70 L132.3 723.70 L132.8 723.70 L133.3 723.70 L133.8 723.70 L134.3 723.70 L134.8 723.70 L135.3 723.70 L135.8 723.70 L136.3 723.70 L136.8 723.70 L137.3 723.70 L137.8 723.70 L138.3 723.70 L138.8 723.70 L139.3 723.70 L139.8 723.70 L140.3 723.70 L140.8 723.70 L141.3 723.70 L141.8 723.70 L142.3 723.70 L142.8 723.70 L143.3 723.70 L143.8 723.70 L144.3 723.70 L144.8 723.70 L145.3 723.70 L145.8 723.70 L146.3 723.70 L146.8 723.70 L147.3 723.70 L147.8 723.70 L148.3 723.70 L148.8 723.70 L149.3 723.70 L149.8 723.70 L150.3 723.70 L150.8 723.70 L151.3 723.70 L151.8 723.70 L152.3 723.70 L152.8 723.70 L153.3 723.70 L153.8 723.70 L154.3 723.69 L154.8 723.69 L155.3 723.69 L155.8 723.68 L156.3 723.68 L156.8 723.67 L157.3 723.66 L157.8 723.64 L158.3 723.62 L158.8 723.59 L159.3 723.55 L159.8 723.50 L160.3 723.44 L160.8 723.35 L161.3 723.24 L161.8 723.10 L162.3 722.93 L162.8 722.71 L163.3 722.44 L163.8 722.11 L164.3 721.71 L164.8 721.22 L165.3 720.64 L165.8 719.95 L166.3 719.13 L166.8 718.18 L167.3 717.08 L167.8 715.82 L168.3 714.39 L168.8 712.78 L169.3 710.99 L169.8 709.01 L170.3 706.86 L170.8 704.53 L171.3 702.04 L171.8 699.41 L172.3 696.66 L172.8 693.83 L173.3 690.95 L173.9 688.06 L174.4 685.19 L174.9 682.41 L175.4 679.76 L175.9 677.28 L176.4 675.03 L176.9 673.04 L177.4 671.37 L177.9 670.05 L178.4 669.10 L178.9 668.55 L179.4 668.40 L179.9 668.67 L180.4 669.35 L180.9 670.41 L181.4 671.84 L181.9 673.61 L182.4 675.68 L182.9 678.01 L183.4 680.54 L183.9 683.24 L184.4 686.05 L184.9 688.93 L185.4 691.83 L185.9 694.70 L186.4 697.51 L186.9 700.22 L187.4 702.81 L187.9 705.25 L188.4 707.53 L188.9 709.63 L189.4 711.55 L189.9 713.28 L190.4 714.84 L190.9 716.22 L191.4 717.43 L191.9 718.48 L192.4 719.39 L192.9 720.17 L193.4 720.83 L193.9 721.38 L194.4 721.84 L194.9 722.22 L195.4 722.53 L195.9 722.78 L196.4 722.99 L196.9 723.15 L197.4 723.28 L197.9 723.38 L198.4 723.46 L198.9 723.52 L199.4 723.57 L199.9 723.60 L200.4 723.63 L200.9 723.65 L201.4 723.66 L201.9 723.67 L202.4 723.68 L202.9 723.69 L203.4 723.69 L203.9 723.69 L204.4 723.70 L204.9 723.70 L205.4 723.70 L205.9 723.70 L206.4 723.70 L206.9 723.70 L207.4 723.70 L207.9 723.70 L208.4 723.70 L208.9 723.70 L209.4 723.70 L209.9 723.70 L210.4 723.70 L210.9 723.70 L211.4 723.70 L211.9 723.70 L212.4 723.70 L212.9 723.70 L213.4 723.70 L213.9 723.70 L214.4 723.70 L214.9 723.70 L215.4 723.70 L215.9 723.70 L216.4 723.70 L216.9 723.70 L217.4 723.70 L217.9 723.70 L218.4 723.70 L218.9 723.70 L219.4 723.70 L219.9 723.70 L220.4 723.70 L220.9 723.70 L221.4 723.70 L222.0 723.70 L222.5 723.70 L223.0 723.70 L223.5 723.70 L224.0 723.70 L224.5 723.70 L225.0 723.70 L225.5 723.70 L226.0 723.70 L226.5 723.70 L227.0 723.70 L227.5 723.70 L228.0 723.70 L228.5 723.70 L229.0 723.70 L229.5 723.70 L230.0 723.70 L230.5 723.70 L231.0 723.70 L231.5 723.70 L232.0 723.70 L232.5 723.70 L233.0 723.70 L233.5 723.70 L234.0 723.70 L234.5 723.70 L235.0 723.70 L235.5 723.70 L236.0 723.70 L236.5 723.70 L237.0 723.70 L237.5 723.70 L238.0 723.70 L238.5 723.70 L239.0 723.70 L239.5 723.70 L240.0 723.70 L240.5 723.70 L241.0 723.70 L241.5 723.70 L242.0 723.70 L242.5 723.70 L243.0 723.70 L243.5 723.70 L244.0 723.70 L244.5 723.70 L245.0 723.70 L245.5 723.70" stroke="#ff1a1a" stroke-width="1.55"/>
<path d="M102.2 723.70 L102.7 723.70 L103.2 723.70 L103.7 723.70 L104.2 723.70 L104.7 723.70 L105.2 723.70 L105.7 723.70 L106.2 723.70 L106.7 723.70 L107.2 723.70 L107.7 723.70 L108.2 723.70 L108.7 723.70 L109.2 723.70 L109.7 723.70 L110.2 723.70 L110.7 723.70 L111.2 723.70 L111.7 723.70 L112.2 723.70 L112.7 723.70 L113.2 723.70 L113.7 723.70 L114.2 723.70 L114.7 723.70 L115.2 723.70 L115.7 723.70 L116.2 723.70 L116.7 723.70 L117.2 723.70 L117.7 723.70 L118.2 723.70 L118.7 723.70 L119.2 723.70 L119.7 723.70 L120.2 723.70 L120.7 723.70 L121.2 723.70 L121.7 723.70 L122.2 723.70 L122.7 723.70 L123.2 723.70 L123.7 723.70 L124.2 723.70 L124.7 723.70 L125.2 723.70 L125.7 723.70 L126.3 723.70 L126.8 723.70 L127.3 723.70 L127.8 723.70 L128.3 723.70 L128.8 723.70 L129.3 723.70 L129.8 723.70 L130.3 723.70 L130.8 723.70 L131.3 723.70 L131.8 723.70 L132.3 723.70 L132.8 723.70 L133.3 723.70 L133.8 723.69 L134.3 723.69 L134.8 723.69 L135.3 723.68 L135.8 723.68 L136.3 723.67 L136.8 723.66 L137.3 723.64 L137.8 723.62 L138.3 723.59 L138.8 723.55 L139.3 723.51 L139.8 723.44 L140.3 723.36 L140.8 723.26 L141.3 723.13 L141.8 722.96 L142.3 722.76 L142.8 722.51 L143.3 722.20 L143.8 721.83 L144.3 721.39 L144.8 720.86 L145.3 720.23 L145.8 719.50 L146.3 718.65 L146.8 717.67 L147.3 716.56 L147.8 715.31 L148.3 713.91 L148.8 712.36 L149.3 710.66 L149.8 708.82 L150.3 706.84 L150.8 704.75 L151.3 702.56 L151.8 700.28 L152.3 697.96 L152.8 695.61 L153.3 693.28 L153.8 691.00 L154.3 688.81 L154.8 686.75 L155.3 684.86 L155.8 683.17 L156.3 681.73 L156.8 680.56 L157.3 679.69 L157.8 679.13 L158.3 678.90 L158.8 679.00 L159.3 679.44 L159.8 680.19 L160.3 681.25 L160.8 682.59 L161.3 684.18 L161.8 686.00 L162.3 687.99 L162.8 690.13 L163.3 692.37 L163.8 694.68 L164.3 697.01 L164.8 699.34 L165.3 701.62 L165.8 703.83 L166.3 705.94 L166.8 707.94 L167.3 709.80 L167.8 711.53 L168.3 713.10 L168.8 714.52 L169.3 715.79 L169.8 716.91 L170.3 717.89 L170.8 718.73 L171.3 719.45 L171.8 720.05 L172.3 720.55 L172.8 720.96 L173.3 721.28 L173.9 721.53 L174.4 721.72 L174.9 721.85 L175.4 721.93 L175.9 721.98 L176.4 721.99 L176.9 721.98 L177.4 721.94 L177.9 721.89 L178.4 721.82 L178.9 721.74 L179.4 721.66 L179.9 721.57 L180.4 721.47 L180.9 721.38 L181.4 721.28 L181.9 721.19 L182.4 721.10 L182.9 721.01 L183.4 720.93 L183.9 720.85 L184.4 720.77 L184.9 720.70 L185.4 720.64 L185.9 720.58 L186.4 720.53 L186.9 720.49 L187.4 720.45 L187.9 720.42 L188.4 720.40 L188.9 720.38 L189.4 720.37 L189.9 720.36 L190.4 720.36 L190.9 720.37 L191.4 720.38 L191.9 720.40 L192.4 720.42 L192.9 720.44 L193.4 720.47 L193.9 720.51 L194.4 720.55 L194.9 720.59 L195.4 720.64 L195.9 720.69 L196.4 720.75 L196.9 720.81 L197.4 720.87 L197.9 720.94 L198.4 721.01 L198.9 721.08 L199.4 721.16 L199.9 721.25 L200.4 721.33 L200.9 721.42 L201.4 721.51 L201.9 721.60 L202.4 721.69 L202.9 721.79 L203.4 721.88 L203.9 721.98 L204.4 722.07 L204.9 722.17 L205.4 722.26 L205.9 722.35 L206.4 722.44 L206.9 722.53 L207.4 722.62 L207.9 722.70 L208.4 722.78 L208.9 722.86 L209.4 722.93 L209.9 723.00 L210.4 723.06 L210.9 723.13 L211.4 723.18 L211.9 723.24 L212.4 723.28 L212.9 723.33 L213.4 723.37 L213.9 723.41 L214.4 723.44 L214.9 723.48 L215.4 723.50 L215.9 723.53 L216.4 723.55 L216.9 723.57 L217.4 723.59 L217.9 723.61 L218.4 723.62 L218.9 723.63 L219.4 723.64 L219.9 723.65 L220.4 723.66 L220.9 723.67 L221.4 723.67 L222.0 723.68 L222.5 723.68 L223.0 723.68 L223.5 723.69 L224.0 723.69 L224.5 723.69 L225.0 723.69 L225.5 723.69 L226.0 723.70 L226.5 723.70 L227.0 723.70 L227.5 723.70 L228.0 723.70 L228.5 723.70 L229.0 723.70 L229.5 723.70 L230.0 723.70 L230.5 723.70 L231.0 723.70 L231.5 723.69 L232.0 723.69 L232.5 723.69 L233.0 723.68 L233.5 723.67 L234.0 723.65 L234.5 723.63 L235.0 723.61 L235.5 723.57 L236.0 723.51 L236.5 723.44 L237.0 723.34 L237.5 723.22 L238.0 723.05 L238.5 722.83 L239.0 722.56 L239.5 722.21 L240.0 721.78 L240.5 721.24 L241.0 720.59 L241.5 719.80 L242.0 718.86 L242.5 717.76 L243.0 716.48 L243.5 715.01 L244.0 713.34 L244.5 711.47 L245.0 709.42 L245.5 707.19" stroke="#1a1aff" stroke-width="1.55"/>
<path d="M102.2 712.63 L102.7 712.73 L103.2 712.52 L103.7 712.01 L104.2 711.19 L104.7 710.06 L105.2 708.64 L105.7 706.93 L106.2 704.94 L106.7 702.69 L107.2 700.21 L107.7 697.52 L108.2 694.65 L108.7 691.65 L109.2 688.56 L109.7 685.43 L110.2 682.31 L110.7 679.25 L111.2 676.33 L111.7 673.59 L112.2 671.08 L112.7 668.88 L113.2 667.01 L113.7 665.54 L114.2 664.48 L114.7 663.86 L115.2 663.70 L115.7 664.00 L116.2 664.76 L116.7 665.95 L117.2 667.56 L117.7 669.53 L118.2 671.84 L118.7 674.43 L119.2 677.25 L119.7 680.23 L120.2 683.33 L120.7 686.48 L121.2 689.64 L121.7 692.75 L122.2 695.76 L122.7 698.63 L123.2 701.33 L123.7 703.83 L124.2 706.10 L124.7 708.12 L125.2 709.88 L125.7 711.36 L126.3 712.56 L126.8 713.48 L127.3 714.10 L127.8 714.42 L128.3 714.45 L128.8 714.18 L129.3 713.62 L129.8 712.76 L130.3 711.60 L130.8 710.16 L131.3 708.43 L131.8 706.43 L132.3 704.18 L132.8 701.67 L133.3 698.96 L133.8 696.05 L134.3 692.98 L134.8 689.80 L135.3 686.55 L135.8 683.28 L136.3 680.05 L136.8 676.91 L137.3 673.92 L137.8 671.15 L138.3 668.64 L138.8 666.45 L139.3 664.64 L139.8 663.23 L140.3 662.27 L140.8 661.77 L141.3 661.75 L141.8 662.20 L142.3 663.12 L142.8 664.49 L143.3 666.27 L143.8 668.42 L144.3 670.91 L144.8 673.67 L145.3 676.65 L145.8 679.79 L146.3 683.04 L146.8 686.34 L147.3 689.63 L147.8 692.88 L148.3 696.03 L148.8 699.05 L149.3 701.91 L149.8 704.58 L150.3 707.06 L150.8 709.32 L151.3 711.38 L151.8 713.22 L152.3 714.85 L152.8 716.29 L153.3 717.54 L153.8 718.62 L154.3 719.55 L154.8 720.33 L155.3 720.98 L155.8 721.53 L156.3 721.98 L156.8 722.34 L157.3 722.64 L157.8 722.88 L158.3 723.07 L158.8 723.22 L159.3 723.33 L159.8 723.43 L160.3 723.49 L160.8 723.55 L161.3 723.59 L161.8 723.62 L162.3 723.64 L162.8 723.66 L163.3 723.67 L163.8 723.68 L164.3 723.69 L164.8 723.69 L165.3 723.69 L165.8 723.70 L166.3 723.70 L166.8 723.70 L167.3 723.70 L167.8 723.70 L168.3 723.70 L168.8 723.70 L169.3 723.70 L169.8 723.70 L170.3 723.70 L170.8 723.70 L171.3 723.70 L171.8 723.70 L172.3 723.70 L172.8 723.70 L173.3 723.70 L173.9 723.70 L174.4 723.70 L174.9 723.70 L175.4 723.70 L175.9 723.70 L176.4 723.70 L176.9 723.70 L177.4 723.70 L177.9 723.70 L178.4 723.70 L178.9 723.70 L179.4 723.70 L179.9 723.70 L180.4 723.70 L180.9 723.70 L181.4 723.70 L181.9 723.70 L182.4 723.70 L182.9 723.70 L183.4 723.70 L183.9 723.70 L184.4 723.70 L184.9 723.70 L185.4 723.70 L185.9 723.69 L186.4 723.69 L186.9 723.69 L187.4 723.68 L187.9 723.67 L188.4 723.66 L188.9 723.64 L189.4 723.61 L189.9 723.57 L190.4 723.52 L190.9 723.44 L191.4 723.35 L191.9 723.21 L192.4 723.04 L192.9 722.80 L193.4 722.50 L193.9 722.11 L194.4 721.62 L194.9 721.00 L195.4 720.22 L195.9 719.27 L196.4 718.11 L196.9 716.72 L197.4 715.06 L197.9 713.11 L198.4 710.84 L198.9 708.24 L199.4 705.30 L199.9 702.00 L200.4 698.36 L200.9 694.39 L201.4 690.13 L201.9 685.61 L202.4 680.90 L202.9 676.07 L203.4 671.21 L203.9 666.40 L204.4 661.76 L204.9 657.38 L205.4 653.38 L205.9 649.85 L206.4 646.89 L206.9 644.57 L207.4 642.97 L207.9 642.13 L208.4 642.07 L208.9 642.80 L209.4 644.29 L209.9 646.50 L210.4 649.37 L210.9 652.82 L211.4 656.75 L211.9 661.08 L212.4 665.69 L212.9 670.47 L213.4 675.33 L213.9 680.15 L214.4 684.87 L214.9 689.40 L215.4 693.68 L215.9 697.65 L216.4 701.29 L216.9 704.56 L217.4 707.46 L217.9 709.98 L218.4 712.11 L218.9 713.88 L219.4 715.28 L219.9 716.34 L220.4 717.05 L220.9 717.44 L221.4 717.51 L222.0 717.26 L222.5 716.69 L223.0 715.81 L223.5 714.62 L224.0 713.10 L224.5 711.26 L225.0 709.09 L225.5 706.61 L226.0 703.83 L226.5 700.76 L227.0 697.43 L227.5 693.88 L228.0 690.16 L228.5 686.32 L229.0 682.44 L229.5 678.59 L230.0 674.84 L230.5 671.29 L231.0 668.02 L231.5 665.11 L232.0 662.65 L232.5 660.68 L233.0 659.29 L233.5 658.49 L234.0 658.32 L234.5 658.77 L235.0 659.84 L235.5 661.50 L236.0 663.70 L236.5 666.37 L237.0 669.45 L237.5 672.86 L238.0 676.51 L238.5 680.31 L239.0 684.19 L239.5 688.07 L240.0 691.87 L240.5 695.53 L241.0 698.99 L241.5 702.23 L242.0 705.20 L242.5 707.88 L243.0 710.27 L243.5 712.36 L244.0 714.16 L244.5 715.66 L245.0 716.89 L245.5 717.87" stroke="#111111" stroke-width="1.65"/>
</g>
<rect x="102.2" y="640.1" width="143.3" height="85.0" fill="none" stroke="#555555" stroke-width="2.2" stroke-dasharray="2.5 3.4"/>
<text x="170.0" y="660.2" font-size="14" fill="#ff1a1a" text-anchor="start" font-weight="normal" font-style="normal" >N.D.</text>
<clipPath id="clip51"><rect x="261.7" y="640.1" width="143.6" height="85.6"/></clipPath>
<g clip-path="url(#clip51)" fill="none" stroke-linejoin="round" stroke-linecap="round">
<path d="M262.1 723.70 L262.6 723.70 L263.1 723.70 L263.6 723.70 L264.1 723.70 L264.6 723.70 L265.1 723.70 L265.6 723.70 L266.1 723.70 L266.6 723.70 L267.1 723.70 L267.6 723.70 L268.1 723.70 L268.6 723.70 L269.1 723.70 L269.6 723.70 L270.1 723.70 L270.6 723.70 L271.1 723.70 L271.6 723.70 L272.1 723.70 L272.6 723.70 L273.1 723.70 L273.6 723.70 L274.1 723.70 L274.6 723.70 L275.1 723.70 L275.6 723.70 L276.1 723.70 L276.6 723.70 L277.1 723.70 L277.6 723.70 L278.1 723.70 L278.6 723.70 L279.1 723.70 L279.6 723.70 L280.1 723.70 L280.6 723.70 L281.1 723.70 L281.6 723.70 L282.1 723.70 L282.6 723.70 L283.1 723.70 L283.6 723.70 L284.1 723.70 L284.6 723.70 L285.1 723.70 L285.6 723.70 L286.2 723.70 L286.7 723.70 L287.2 723.70 L287.7 723.70 L288.2 723.70 L288.7 723.70 L289.2 723.70 L289.7 723.70 L290.2 723.70 L290.7 723.70 L291.2 723.70 L291.7 723.70 L292.2 723.70 L292.7 723.70 L293.2 723.70 L293.7 723.70 L294.2 723.70 L294.7 723.70 L295.2 723.70 L295.7 723.70 L296.2 723.70 L296.7 723.70 L297.2 723.70 L297.7 723.70 L298.2 723.70 L298.7 723.70 L299.2 723.70 L299.7 723.70 L300.2 723.70 L300.7 723.70 L301.2 723.70 L301.7 723.70 L302.2 723.70 L302.7 723.70 L303.2 723.70 L303.7 723.70 L304.2 723.70 L304.7 723.70 L305.2 723.70 L305.7 723.70 L306.2 723.70 L306.7 723.70 L307.2 723.70 L307.7 723.70 L308.2 723.70 L308.7 723.70 L309.2 723.70 L309.7 723.70 L310.2 723.70 L310.7 723.70 L311.2 723.70 L311.7 723.70 L312.2 723.70 L312.7 723.70 L313.2 723.70 L313.7 723.70 L314.2 723.70 L314.7 723.70 L315.2 723.70 L315.7 723.70 L316.2 723.70 L316.7 723.70 L317.2 723.70 L317.7 723.70 L318.2 723.70 L318.7 723.70 L319.2 723.70 L319.7 723.70 L320.2 723.70 L320.7 723.70 L321.2 723.70 L321.7 723.70 L322.2 723.70 L322.7 723.70 L323.2 723.70 L323.7 723.70 L324.2 723.70 L324.7 723.70 L325.2 723.70 L325.7 723.70 L326.2 723.70 L326.7 723.70 L327.2 723.70 L327.7 723.70 L328.2 723.70 L328.7 723.70 L329.2 723.70 L329.7 723.70 L330.2 723.70 L330.7 723.70 L331.2 723.70 L331.7 723.70 L332.2 723.70 L332.7 723.70 L333.2 723.70 L333.8 723.70 L334.3 723.70 L334.8 723.70 L335.3 723.70 L335.8 723.70 L336.3 723.70 L336.8 723.70 L337.3 723.70 L337.8 723.70 L338.3 723.70 L338.8 723.70 L339.3 723.70 L339.8 723.70 L340.3 723.70 L340.8 723.70 L341.3 723.70 L341.8 723.70 L342.3 723.70 L342.8 723.70 L343.3 723.70 L343.8 723.70 L344.3 723.70 L344.8 723.70 L345.3 723.70 L345.8 723.70 L346.3 723.70 L346.8 723.70 L347.3 723.69 L347.8 723.69 L348.3 723.69 L348.8 723.69 L349.3 723.69 L349.8 723.69 L350.3 723.68 L350.8 723.68 L351.3 723.68 L351.8 723.67 L352.3 723.66 L352.8 723.66 L353.3 723.65 L353.8 723.64 L354.3 723.63 L354.8 723.62 L355.3 723.61 L355.8 723.59 L356.3 723.58 L356.8 723.56 L357.3 723.54 L357.8 723.52 L358.3 723.49 L358.8 723.46 L359.3 723.44 L359.8 723.40 L360.3 723.37 L360.8 723.33 L361.3 723.29 L361.8 723.25 L362.3 723.20 L362.8 723.16 L363.3 723.11 L363.8 723.05 L364.3 723.00 L364.8 722.95 L365.3 722.89 L365.8 722.83 L366.3 722.78 L366.8 722.72 L367.3 722.66 L367.8 722.61 L368.3 722.56 L368.8 722.50 L369.3 722.45 L369.8 722.41 L370.3 722.37 L370.8 722.33 L371.3 722.29 L371.8 722.26 L372.3 722.24 L372.8 722.22 L373.3 722.21 L373.8 722.20 L374.3 722.20 L374.8 722.20 L375.3 722.21 L375.8 722.23 L376.3 722.25 L376.8 722.28 L377.3 722.31 L377.8 722.35 L378.3 722.39 L378.8 722.43 L379.3 722.48 L379.8 722.53 L380.3 722.58 L380.8 722.64 L381.4 722.69 L381.9 722.75 L382.4 722.81 L382.9 722.86 L383.4 722.92 L383.9 722.98 L384.4 723.03 L384.9 723.08 L385.4 723.13 L385.9 723.18 L386.4 723.23 L386.9 723.27 L387.4 723.31 L387.9 723.35 L388.4 723.39 L388.9 723.42 L389.4 723.45 L389.9 723.48 L390.4 723.51 L390.9 723.53 L391.4 723.55 L391.9 723.57 L392.4 723.59 L392.9 723.60 L393.4 723.62 L393.9 723.63 L394.4 723.64 L394.9 723.65 L395.4 723.65 L395.9 723.66 L396.4 723.67 L396.9 723.67 L397.4 723.68 L397.9 723.68 L398.4 723.68 L398.9 723.69 L399.4 723.69 L399.9 723.69 L400.4 723.69 L400.9 723.69 L401.4 723.70 L401.9 723.70 L402.4 723.70 L402.9 723.70 L403.4 723.70 L403.9 723.70 L404.4 723.70 L404.9 723.70" stroke="#1a9a4a" stroke-width="1.0"/>
<path d="M262.1 723.70 L262.6 723.70 L263.1 723.70 L263.6 723.70 L264.1 723.70 L264.6 723.70 L265.1 723.70 L265.6 723.70 L266.1 723.70 L266.6 723.70 L267.1 723.70 L267.6 723.70 L268.1 723.70 L268.6 723.70 L269.1 723.70 L269.6 723.70 L270.1 723.70 L270.6 723.70 L271.1 723.70 L271.6 723.70 L272.1 723.70 L272.6 723.70 L273.1 723.70 L273.6 723.70 L274.1 723.70 L274.6 723.70 L275.1 723.70 L275.6 723.70 L276.1 723.70 L276.6 723.70 L277.1 723.70 L277.6 723.70 L278.1 723.70 L278.6 723.70 L279.1 723.70 L279.6 723.70 L280.1 723.70 L280.6 723.70 L281.1 723.70 L281.6 723.70 L282.1 723.70 L282.6 723.70 L283.1 723.70 L283.6 723.70 L284.1 723.70 L284.6 723.70 L285.1 723.70 L285.6 723.70 L286.2 723.70 L286.7 723.70 L287.2 723.70 L287.7 723.70 L288.2 723.70 L288.7 723.70 L289.2 723.70 L289.7 723.70 L290.2 723.70 L290.7 723.70 L291.2 723.70 L291.7 723.70 L292.2 723.70 L292.7 723.70 L293.2 723.70 L293.7 723.70 L294.2 723.70 L294.7 723.70 L295.2 723.70 L295.7 723.70 L296.2 723.70 L296.7 723.70 L297.2 723.70 L297.7 723.70 L298.2 723.70 L298.7 723.70 L299.2 723.70 L299.7 723.70 L300.2 723.70 L300.7 723.70 L301.2 723.70 L301.7 723.70 L302.2 723.70 L302.7 723.70 L303.2 723.70 L303.7 723.70 L304.2 723.70 L304.7 723.70 L305.2 723.70 L305.7 723.70 L306.2 723.70 L306.7 723.70 L307.2 723.70 L307.7 723.70 L308.2 723.70 L308.7 723.70 L309.2 723.70 L309.7 723.70 L310.2 723.70 L310.7 723.70 L311.2 723.70 L311.7 723.70 L312.2 723.70 L312.7 723.70 L313.2 723.70 L313.7 723.70 L314.2 723.69 L314.7 723.69 L315.2 723.69 L315.7 723.68 L316.2 723.67 L316.7 723.66 L317.2 723.65 L317.7 723.63 L318.2 723.60 L318.7 723.56 L319.2 723.52 L319.7 723.46 L320.2 723.38 L320.7 723.27 L321.2 723.14 L321.7 722.97 L322.2 722.77 L322.7 722.51 L323.2 722.18 L323.7 721.79 L324.2 721.31 L324.7 720.73 L325.2 720.04 L325.7 719.23 L326.2 718.27 L326.7 717.16 L327.2 715.88 L327.7 714.42 L328.2 712.77 L328.7 710.92 L329.2 708.86 L329.7 706.61 L330.2 704.16 L330.7 701.52 L331.2 698.71 L331.7 695.76 L332.2 692.69 L332.7 689.54 L333.2 686.35 L333.8 683.16 L334.3 680.03 L334.8 677.01 L335.3 674.15 L335.8 671.51 L336.3 669.13 L336.8 667.07 L337.3 665.37 L337.8 664.07 L338.3 663.19 L338.8 662.75 L339.3 662.77 L339.8 663.23 L340.3 664.15 L340.8 665.48 L341.3 667.21 L341.8 669.29 L342.3 671.69 L342.8 674.35 L343.3 677.22 L343.8 680.25 L344.3 683.39 L344.8 686.57 L345.3 689.76 L345.8 692.91 L346.3 695.97 L346.8 698.91 L347.3 701.71 L347.8 704.33 L348.3 706.77 L348.8 709.01 L349.3 711.05 L349.8 712.89 L350.3 714.53 L350.8 715.98 L351.3 717.25 L351.8 718.35 L352.3 719.29 L352.8 720.10 L353.3 720.78 L353.8 721.35 L354.3 721.82 L354.8 722.21 L355.3 722.53 L355.8 722.78 L356.3 722.99 L356.8 723.15 L357.3 723.28 L357.8 723.38 L358.3 723.46 L358.8 723.52 L359.3 723.57 L359.8 723.60 L360.3 723.63 L360.8 723.65 L361.3 723.66 L361.8 723.67 L362.3 723.68 L362.8 723.69 L363.3 723.69 L363.8 723.69 L364.3 723.70 L364.8 723.70 L365.3 723.70 L365.8 723.70 L366.3 723.70 L366.8 723.70 L367.3 723.70 L367.8 723.70 L368.3 723.70 L368.8 723.70 L369.3 723.70 L369.8 723.70 L370.3 723.70 L370.8 723.70 L371.3 723.70 L371.8 723.70 L372.3 723.70 L372.8 723.70 L373.3 723.70 L373.8 723.70 L374.3 723.70 L374.8 723.70 L375.3 723.70 L375.8 723.70 L376.3 723.70 L376.8 723.70 L377.3 723.70 L377.8 723.70 L378.3 723.70 L378.8 723.70 L379.3 723.70 L379.8 723.70 L380.3 723.70 L380.8 723.70 L381.4 723.70 L381.9 723.70 L382.4 723.70 L382.9 723.70 L383.4 723.70 L383.9 723.70 L384.4 723.70 L384.9 723.70 L385.4 723.70 L385.9 723.70 L386.4 723.70 L386.9 723.70 L387.4 723.70 L387.9 723.70 L388.4 723.70 L388.9 723.70 L389.4 723.70 L389.9 723.70 L390.4 723.70 L390.9 723.70 L391.4 723.70 L391.9 723.70 L392.4 723.70 L392.9 723.70 L393.4 723.70 L393.9 723.70 L394.4 723.70 L394.9 723.70 L395.4 723.70 L395.9 723.70 L396.4 723.70 L396.9 723.70 L397.4 723.70 L397.9 723.70 L398.4 723.70 L398.9 723.70 L399.4 723.70 L399.9 723.70 L400.4 723.70 L400.9 723.70 L401.4 723.70 L401.9 723.70 L402.4 723.70 L402.9 723.70 L403.4 723.70 L403.9 723.70 L404.4 723.70 L404.9 723.70" stroke="#ff1a1a" stroke-width="1.55"/>
<path d="M262.1 723.70 L262.6 723.70 L263.1 723.70 L263.6 723.70 L264.1 723.70 L264.6 723.70 L265.1 723.70 L265.6 723.70 L266.1 723.70 L266.6 723.70 L267.1 723.70 L267.6 723.70 L268.1 723.70 L268.6 723.70 L269.1 723.70 L269.6 723.70 L270.1 723.70 L270.6 723.70 L271.1 723.70 L271.6 723.70 L272.1 723.70 L272.6 723.70 L273.1 723.70 L273.6 723.70 L274.1 723.70 L274.6 723.70 L275.1 723.70 L275.6 723.70 L276.1 723.70 L276.6 723.70 L277.1 723.70 L277.6 723.70 L278.1 723.70 L278.6 723.70 L279.1 723.70 L279.6 723.70 L280.1 723.70 L280.6 723.70 L281.1 723.70 L281.6 723.70 L282.1 723.70 L282.6 723.70 L283.1 723.70 L283.6 723.70 L284.1 723.70 L284.6 723.70 L285.1 723.70 L285.6 723.70 L286.2 723.70 L286.7 723.70 L287.2 723.70 L287.7 723.70 L288.2 723.70 L288.7 723.70 L289.2 723.70 L289.7 723.70 L290.2 723.70 L290.7 723.70 L291.2 723.70 L291.7 723.70 L292.2 723.70 L292.7 723.70 L293.2 723.70 L293.7 723.69 L294.2 723.69 L294.7 723.69 L295.2 723.68 L295.7 723.68 L296.2 723.67 L296.7 723.66 L297.2 723.64 L297.7 723.62 L298.2 723.59 L298.7 723.55 L299.2 723.50 L299.7 723.43 L300.2 723.35 L300.7 723.24 L301.2 723.11 L301.7 722.94 L302.2 722.73 L302.7 722.47 L303.2 722.15 L303.7 721.76 L304.2 721.29 L304.7 720.74 L305.2 720.08 L305.7 719.32 L306.2 718.43 L306.7 717.40 L307.2 716.23 L307.7 714.91 L308.2 713.44 L308.7 711.80 L309.2 710.01 L309.7 708.06 L310.2 705.97 L310.7 703.75 L311.2 701.42 L311.7 699.01 L312.2 696.53 L312.7 694.03 L313.2 691.54 L313.7 689.09 L314.2 686.74 L314.7 684.53 L315.2 682.49 L315.7 680.66 L316.2 679.09 L316.7 677.81 L317.2 676.84 L317.7 676.20 L318.2 675.91 L318.7 675.98 L319.2 676.41 L319.7 677.17 L320.2 678.27 L320.7 679.67 L321.2 681.34 L321.7 683.26 L322.2 685.37 L322.7 687.64 L323.2 690.03 L323.7 692.49 L324.2 694.99 L324.7 697.49 L325.2 699.94 L325.7 702.32 L326.2 704.61 L326.7 706.77 L327.2 708.80 L327.7 710.68 L328.2 712.41 L328.7 713.97 L329.2 715.38 L329.7 716.63 L330.2 717.73 L330.7 718.69 L331.2 719.52 L331.7 720.23 L332.2 720.83 L332.7 721.33 L333.2 721.75 L333.8 722.09 L334.3 722.36 L334.8 722.58 L335.3 722.75 L335.8 722.89 L336.3 722.98 L336.8 723.05 L337.3 723.10 L337.8 723.13 L338.3 723.14 L338.8 723.14 L339.3 723.13 L339.8 723.11 L340.3 723.08 L340.8 723.05 L341.3 723.02 L341.8 722.98 L342.3 722.94 L342.8 722.90 L343.3 722.86 L343.8 722.82 L344.3 722.77 L344.8 722.73 L345.3 722.68 L345.8 722.64 L346.3 722.59 L346.8 722.55 L347.3 722.51 L347.8 722.47 L348.3 722.43 L348.8 722.40 L349.3 722.36 L349.8 722.33 L350.3 722.30 L350.8 722.28 L351.3 722.26 L351.8 722.24 L352.3 722.22 L352.8 722.21 L353.3 722.20 L353.8 722.20 L354.3 722.20 L354.8 722.20 L355.3 722.21 L355.8 722.22 L356.3 722.24 L356.8 722.25 L357.3 722.28 L357.8 722.30 L358.3 722.33 L358.8 722.36 L359.3 722.39 L359.8 722.43 L360.3 722.46 L360.8 722.50 L361.3 722.54 L361.8 722.59 L362.3 722.63 L362.8 722.68 L363.3 722.72 L363.8 722.77 L364.3 722.81 L364.8 722.86 L365.3 722.90 L365.8 722.95 L366.3 722.99 L366.8 723.03 L367.3 723.08 L367.8 723.12 L368.3 723.16 L368.8 723.19 L369.3 723.23 L369.8 723.27 L370.3 723.30 L370.8 723.33 L371.3 723.36 L371.8 723.39 L372.3 723.42 L372.8 723.44 L373.3 723.46 L373.8 723.49 L374.3 723.51 L374.8 723.53 L375.3 723.54 L375.8 723.56 L376.3 723.57 L376.8 723.59 L377.3 723.60 L377.8 723.61 L378.3 723.62 L378.8 723.63 L379.3 723.64 L379.8 723.65 L380.3 723.65 L380.8 723.66 L381.4 723.66 L381.9 723.67 L382.4 723.67 L382.9 723.68 L383.4 723.68 L383.9 723.68 L384.4 723.68 L384.9 723.69 L385.4 723.69 L385.9 723.69 L386.4 723.69 L386.9 723.69 L387.4 723.69 L387.9 723.69 L388.4 723.70 L388.9 723.70 L389.4 723.70 L389.9 723.69 L390.4 723.69 L390.9 723.69 L391.4 723.69 L391.9 723.68 L392.4 723.68 L392.9 723.67 L393.4 723.65 L393.9 723.63 L394.4 723.60 L394.9 723.57 L395.4 723.51 L395.9 723.44 L396.4 723.34 L396.9 723.22 L397.4 723.05 L397.9 722.83 L398.4 722.56 L398.9 722.21 L399.4 721.78 L399.9 721.24 L400.4 720.59 L400.9 719.80 L401.4 718.86 L401.9 717.76 L402.4 716.48 L402.9 715.01 L403.4 713.34 L403.9 711.47 L404.4 709.42 L404.9 707.19" stroke="#1a1aff" stroke-width="1.55"/>
<path d="M262.1 708.61 L262.6 708.80 L263.1 708.71 L263.6 708.33 L264.1 707.66 L264.6 706.71 L265.1 705.47 L265.6 703.97 L266.1 702.21 L266.6 700.21 L267.1 698.00 L267.6 695.59 L268.1 693.03 L268.6 690.34 L269.1 687.55 L269.6 684.72 L270.1 681.88 L270.6 679.08 L271.1 676.37 L271.6 673.79 L272.1 671.38 L272.6 669.20 L273.1 667.28 L273.6 665.65 L274.1 664.36 L274.6 663.42 L275.1 662.85 L275.6 662.66 L276.1 662.87 L276.6 663.46 L277.1 664.42 L277.6 665.73 L278.1 667.37 L278.6 669.31 L279.1 671.50 L279.6 673.91 L280.1 676.49 L280.6 679.20 L281.1 681.99 L281.6 684.81 L282.1 687.61 L282.6 690.36 L283.1 693.01 L283.6 695.52 L284.1 697.86 L284.6 699.99 L285.1 701.90 L285.6 703.54 L286.2 704.92 L286.7 706.00 L287.2 706.78 L287.7 707.25 L288.2 707.40 L288.7 707.23 L289.2 706.75 L289.7 705.95 L290.2 704.85 L290.7 703.45 L291.2 701.77 L291.7 699.84 L292.2 697.66 L292.7 695.28 L293.2 692.72 L293.7 690.02 L294.2 687.21 L294.7 684.34 L295.2 681.45 L295.7 678.58 L296.2 675.79 L296.7 673.13 L297.2 670.64 L297.7 668.36 L298.2 666.34 L298.7 664.62 L299.2 663.23 L299.7 662.20 L300.2 661.55 L300.7 661.29 L301.2 661.42 L301.7 661.96 L302.2 662.88 L302.7 664.17 L303.2 665.81 L303.7 667.76 L304.2 669.99 L304.7 672.47 L305.2 675.14 L305.7 677.97 L306.2 680.90 L306.7 683.91 L307.2 686.94 L307.7 689.96 L308.2 692.93 L308.7 695.82 L309.2 698.60 L309.7 701.24 L310.2 703.74 L310.7 706.07 L311.2 708.23 L311.7 710.21 L312.2 712.02 L312.7 713.64 L313.2 715.10 L313.7 716.39 L314.2 717.53 L314.7 718.52 L315.2 719.39 L315.7 720.13 L316.2 720.76 L316.7 721.30 L317.2 721.75 L317.7 722.12 L318.2 722.44 L318.7 722.69 L319.2 722.90 L319.7 723.07 L320.2 723.21 L320.7 723.32 L321.2 723.41 L321.7 723.47 L322.2 723.53 L322.7 723.57 L323.2 723.60 L323.7 723.63 L324.2 723.64 L324.7 723.66 L325.2 723.67 L325.7 723.67 L326.2 723.68 L326.7 723.68 L327.2 723.68 L327.7 723.67 L328.2 723.67 L328.7 723.66 L329.2 723.65 L329.7 723.64 L330.2 723.62 L330.7 723.60 L331.2 723.57 L331.7 723.54 L332.2 723.50 L332.7 723.46 L333.2 723.41 L333.8 723.35 L334.3 723.28 L334.8 723.20 L335.3 723.12 L335.8 723.03 L336.3 722.93 L336.8 722.83 L337.3 722.72 L337.8 722.61 L338.3 722.50 L338.8 722.39 L339.3 722.29 L339.8 722.20 L340.3 722.11 L340.8 722.04 L341.3 721.98 L341.8 721.93 L342.3 721.90 L342.8 721.89 L343.3 721.90 L343.8 721.92 L344.3 721.96 L344.8 722.01 L345.3 722.07 L345.8 722.13 L346.3 722.20 L346.8 722.27 L347.3 722.34 L347.8 722.39 L348.3 722.43 L348.8 722.45 L349.3 722.43 L349.8 722.38 L350.3 722.28 L350.8 722.13 L351.3 721.91 L351.8 721.62 L352.3 721.24 L352.8 720.75 L353.3 720.15 L353.8 719.42 L354.3 718.54 L354.8 717.49 L355.3 716.26 L355.8 714.84 L356.3 713.20 L356.8 711.33 L357.3 709.22 L357.8 706.87 L358.3 704.27 L358.8 701.41 L359.3 698.31 L359.8 694.98 L360.3 691.44 L360.8 687.71 L361.3 683.82 L361.8 679.83 L362.3 675.77 L362.8 671.70 L363.3 667.67 L363.8 663.75 L364.3 660.00 L364.8 656.49 L365.3 653.28 L365.8 650.43 L366.3 647.99 L366.8 646.01 L367.3 644.54 L367.8 643.59 L368.3 643.20 L368.8 643.37 L369.3 644.09 L369.8 645.36 L370.3 647.13 L370.8 649.39 L371.3 652.07 L371.8 655.13 L372.3 658.50 L372.8 662.13 L373.3 665.94 L373.8 669.88 L374.3 673.86 L374.8 677.83 L375.3 681.73 L375.8 685.50 L376.3 689.10 L376.8 692.47 L377.3 695.59 L377.8 698.41 L378.3 700.92 L378.8 703.09 L379.3 704.90 L379.8 706.35 L380.3 707.43 L380.8 708.14 L381.4 708.47 L381.9 708.44 L382.4 708.04 L382.9 707.28 L383.4 706.18 L383.9 704.75 L384.4 703.01 L384.9 700.98 L385.4 698.69 L385.9 696.16 L386.4 693.43 L386.9 690.54 L387.4 687.52 L387.9 684.44 L388.4 681.33 L388.9 678.24 L389.4 675.24 L389.9 672.38 L390.4 669.71 L390.9 667.28 L391.4 665.14 L391.9 663.33 L392.4 661.90 L392.9 660.86 L393.4 660.26 L393.9 660.08 L394.4 660.35 L394.9 661.06 L395.4 662.18 L395.9 663.70 L396.4 665.59 L396.9 667.80 L397.4 670.29 L397.9 673.03 L398.4 675.94 L398.9 678.99 L399.4 682.11 L399.9 685.27 L400.4 688.40 L400.9 691.47 L401.4 694.43 L401.9 697.25 L402.4 699.90 L402.9 702.35 L403.4 704.58 L403.9 706.58 L404.4 708.34 L404.9 709.85" stroke="#111111" stroke-width="1.65"/>
</g>
<rect x="262.1" y="640.1" width="142.8" height="85.0" fill="none" stroke="#555555" stroke-width="2.2" stroke-dasharray="2.5 3.4"/>
<text x="325.8" y="660.2" font-size="14" fill="#ff1a1a" text-anchor="start" font-weight="normal" font-style="normal" >N.D.</text>
</g>
<g id="panel-b">
<text x="476.6" y="23.2" font-size="25" fill="#111" text-anchor="start" font-weight="bold" font-style="normal" >b</text>
<g fill="none" stroke-linecap="round" stroke-linejoin="round">
<path d="M696.1 295.8L807.7 234.2M815.2 229.0L927.7 133.0M935.5 128.2L1046.5 82.3" stroke="#cf7a00" stroke-width="2.95" stroke-linecap="butt"/>
<g stroke-linecap="butt"><circle cx="692.1" cy="298.0" r="4.6" fill="none" stroke="#cf7a00" stroke-width="2.4"/><line x1="687.5" y1="298.0" x2="696.7" y2="298.0" stroke="#cf7a00" stroke-width="2.0"/><circle cx="811.7" cy="232.0" r="4.6" fill="none" stroke="#cf7a00" stroke-width="2.4"/><line x1="807.1" y1="232.0" x2="816.3" y2="232.0" stroke="#cf7a00" stroke-width="2.0"/><circle cx="931.2" cy="130.0" r="4.6" fill="none" stroke="#cf7a00" stroke-width="2.4"/><line x1="926.6" y1="130.0" x2="935.8" y2="130.0" stroke="#cf7a00" stroke-width="2.0"/><circle cx="1050.8" cy="80.5" r="4.6" fill="none" stroke="#cf7a00" stroke-width="2.4"/><line x1="1046.2" y1="80.5" x2="1055.4" y2="80.5" stroke="#cf7a00" stroke-width="2.0"/></g>
<polyline points="692.1,304.0 811.7,240.9 931.2,150.7 1050.8,91.6" stroke="#ff8682" stroke-width="2.95"/>
<g stroke-linecap="butt"><rect x="684.8" y="296.7" width="14.6" height="14.6" fill="#ff8682"/><rect x="687.1" y="299.3" width="3.9" height="3.8" fill="#ffe9e7"/><rect x="687.1" y="304.9" width="3.9" height="3.8" fill="#ffe9e7"/><rect x="804.4" y="233.6" width="14.6" height="14.6" fill="#ff8682"/><rect x="806.7" y="236.2" width="3.9" height="3.8" fill="#ffe9e7"/><rect x="806.7" y="241.8" width="3.9" height="3.8" fill="#ffe9e7"/><rect x="923.9" y="143.4" width="14.6" height="14.6" fill="#ff8682"/><rect x="926.2" y="146.0" width="3.9" height="3.8" fill="#ffe9e7"/><rect x="926.2" y="151.6" width="3.9" height="3.8" fill="#ffe9e7"/><rect x="1043.5" y="84.3" width="14.6" height="14.6" fill="#ff8682"/><rect x="1045.8" y="86.9" width="3.9" height="3.8" fill="#ffe9e7"/><rect x="1045.8" y="92.5" width="3.9" height="3.8" fill="#ffe9e7"/></g>
<polyline points="692.1,311.5 811.7,247.4 931.2,196.0 1050.8,112.5" stroke="#7f7f7f" stroke-width="2.95"/>
<g stroke-linecap="butt"><polygon points="698.7,311.5 695.4,316.9 688.8,316.9 685.5,311.5 688.8,306.1 695.4,306.1" fill="#7f7f7f" stroke="none" stroke-width="0" stroke-linejoin="miter"/><circle cx="692.1" cy="311.5" r="2.6" fill="none" stroke="#9a9a9a" stroke-width="1" stroke-dasharray="1 1"/><polygon points="818.3,247.4 815.0,252.8 808.4,252.8 805.1,247.4 808.4,242.0 815.0,242.0" fill="#7f7f7f" stroke="none" stroke-width="0" stroke-linejoin="miter"/><circle cx="811.7" cy="247.4" r="2.6" fill="none" stroke="#9a9a9a" stroke-width="1" stroke-dasharray="1 1"/><polygon points="937.8,196.0 934.5,201.4 927.9,201.4 924.6,196.0 927.9,190.6 934.5,190.6" fill="#7f7f7f" stroke="none" stroke-width="0" stroke-linejoin="miter"/><circle cx="931.2" cy="196.0" r="2.6" fill="none" stroke="#9a9a9a" stroke-width="1" stroke-dasharray="1 1"/><polygon points="1057.4,112.5 1054.1,117.9 1047.5,117.9 1044.2,112.5 1047.5,107.1 1054.1,107.1" fill="#7f7f7f" stroke="none" stroke-width="0" stroke-linejoin="miter"/><circle cx="1050.8" cy="112.5" r="2.6" fill="none" stroke="#9a9a9a" stroke-width="1" stroke-dasharray="1 1"/></g>
<polyline points="692.1,312.0 811.7,266.6 931.2,155.0 1050.8,88.5" stroke="#c9c9ff" stroke-width="2.95"/>
<g stroke-linecap="butt"><polygon points="692.1,305.7 698.7,312.0 692.1,318.3 685.5,312.0" fill="#f0f0ff" stroke="#c9c9ff" stroke-width="1.8" stroke-linejoin="miter"/><polygon points="692.1,305.7 698.7,312.0 685.5,312.0" fill="#c9c9ff" stroke="none" stroke-width="0" stroke-linejoin="miter"/><polygon points="811.7,260.3 818.3,266.6 811.7,272.9 805.1,266.6" fill="#f0f0ff" stroke="#c9c9ff" stroke-width="1.8" stroke-linejoin="miter"/><polygon points="811.7,260.3 818.3,266.6 805.1,266.6" fill="#c9c9ff" stroke="none" stroke-width="0" stroke-linejoin="miter"/><polygon points="931.2,148.7 937.8,155.0 931.2,161.3 924.6,155.0" fill="#f0f0ff" stroke="#c9c9ff" stroke-width="1.8" stroke-linejoin="miter"/><polygon points="931.2,148.7 937.8,155.0 924.6,155.0" fill="#c9c9ff" stroke="none" stroke-width="0" stroke-linejoin="miter"/><polygon points="1050.8,82.2 1057.4,88.5 1050.8,94.8 1044.2,88.5" fill="#f0f0ff" stroke="#c9c9ff" stroke-width="1.8" stroke-linejoin="miter"/><polygon points="1050.8,82.2 1057.4,88.5 1044.2,88.5" fill="#c9c9ff" stroke="none" stroke-width="0" stroke-linejoin="miter"/></g>
<polyline points="692.1,305.0 811.7,259.0 931.2,152.0 1050.8,89.0" stroke="#a3c8f7" stroke-width="2.95"/>
<g stroke-linecap="butt"><path d="M686.2 299.1L698.0 310.9M686.2 310.9L698.0 299.1M685.2 305.0H699.0" stroke="#a3c8f7" stroke-width="2.0" fill="none"/><path d="M805.8 253.1L817.6 264.9M805.8 264.9L817.6 253.1M804.8 259.0H818.6" stroke="#a3c8f7" stroke-width="2.0" fill="none"/><path d="M925.3 146.1L937.1 157.9M925.3 157.9L937.1 146.1M924.3 152.0H938.1" stroke="#a3c8f7" stroke-width="2.0" fill="none"/><path d="M1044.9 83.1L1056.7 94.9M1044.9 94.9L1056.7 83.1M1043.9 89.0H1057.7" stroke="#a3c8f7" stroke-width="2.0" fill="none"/></g>
<polyline points="692.1,315.8 811.7,256.0 931.2,157.0 1050.8,78.0" stroke="#00ee00" stroke-width="2.95"/>
<g stroke-linecap="butt"><path d="M685.5 315.8H698.7M692.1 309.2V322.4" stroke="#00ee00" stroke-width="2.4" fill="none"/><path d="M805.1 256.0H818.3M811.7 249.4V262.6" stroke="#00ee00" stroke-width="2.4" fill="none"/><path d="M924.6 157.0H937.8M931.2 150.4V163.6" stroke="#00ee00" stroke-width="2.4" fill="none"/><path d="M1044.2 78.0H1057.4M1050.8 71.4V84.6" stroke="#00ee00" stroke-width="2.4" fill="none"/></g>
<polyline points="692.1,225.5 811.7,160.3 931.2,93.5" stroke="#f8c595" stroke-width="2.95"/>
<g stroke-linecap="butt"><polygon points="692.1,218.3 693.9,223.1 698.9,223.3 695.0,226.4 696.3,231.3 692.1,228.5 687.9,231.3 689.2,226.4 685.3,223.3 690.3,223.1" fill="#f8c595" stroke="none" stroke-width="0" stroke-linejoin="miter"/><polygon points="811.7,153.1 813.5,157.9 818.5,158.1 814.6,161.2 815.9,166.1 811.7,163.3 807.5,166.1 808.8,161.2 804.9,158.1 809.9,157.9" fill="#f8c595" stroke="none" stroke-width="0" stroke-linejoin="miter"/><polygon points="931.2,86.3 933.0,91.1 938.0,91.3 934.1,94.4 935.4,99.3 931.2,96.5 927.0,99.3 928.3,94.4 924.4,91.3 929.4,91.1" fill="#f8c595" stroke="none" stroke-width="0" stroke-linejoin="miter"/></g>
<polyline points="692.1,307.2 811.7,227.5 931.2,178.9 1050.8,113.6" stroke="#0b6118" stroke-width="2.95"/>
<g stroke-linecap="butt"><path d="M685.9 307.2L698.3 307.2M687.7 302.8L696.5 311.6M692.1 301.0L692.1 313.4M696.5 302.8L687.7 311.6" stroke="#0a6b3c" stroke-width="2.2" fill="none"/><circle cx="692.1" cy="307.2" r="3.2" fill="#0a6b3c"/><path d="M805.5 227.5L817.9 227.5M807.3 223.1L816.1 231.9M811.7 221.3L811.7 233.7M816.1 223.1L807.3 231.9" stroke="#0a6b3c" stroke-width="2.2" fill="none"/><circle cx="811.7" cy="227.5" r="3.2" fill="#0a6b3c"/><path d="M925.0 178.9L937.4 178.9M926.8 174.5L935.6 183.3M931.2 172.7L931.2 185.1M935.6 174.5L926.8 183.3" stroke="#0a6b3c" stroke-width="2.2" fill="none"/><circle cx="931.2" cy="178.9" r="3.2" fill="#0a6b3c"/><path d="M1044.6 113.6L1057.0 113.6M1046.4 109.2L1055.2 118.0M1050.8 107.4L1050.8 119.8M1055.2 109.2L1046.4 118.0" stroke="#0a6b3c" stroke-width="2.2" fill="none"/><circle cx="1050.8" cy="113.6" r="3.2" fill="#0a6b3c"/></g>
<path d="M696.9 324.7L806.9 259.8M816.1 253.5L926.8 166.8M936.1 160.6L1045.9 101.3" stroke="#b51700" stroke-width="2.95" stroke-linecap="butt"/>
<g stroke-linecap="butt"><polygon points="698.1,327.5 695.1,332.2 689.1,332.2 686.1,327.5 689.1,322.8 695.1,322.8" fill="none" stroke="#b51700" stroke-width="2.4" stroke-linejoin="miter"/><polygon points="686.1,327.5 689.1,322.8 695.1,322.8 698.1,327.5" fill="#b51700" stroke="#b51700" stroke-width="2.4" stroke-linejoin="miter"/><polygon points="817.7,257.0 814.7,261.7 808.7,261.7 805.7,257.0 808.7,252.3 814.7,252.3" fill="none" stroke="#b51700" stroke-width="2.4" stroke-linejoin="miter"/><polygon points="805.7,257.0 808.7,252.3 814.7,252.3 817.7,257.0" fill="#b51700" stroke="#b51700" stroke-width="2.4" stroke-linejoin="miter"/><polygon points="937.2,163.3 934.2,168.0 928.2,168.0 925.2,163.3 928.2,158.6 934.2,158.6" fill="none" stroke="#b51700" stroke-width="2.4" stroke-linejoin="miter"/><polygon points="925.2,163.3 928.2,158.6 934.2,158.6 937.2,163.3" fill="#b51700" stroke="#b51700" stroke-width="2.4" stroke-linejoin="miter"/><polygon points="1056.8,98.6 1053.8,103.3 1047.8,103.3 1044.8,98.6 1047.8,93.9 1053.8,93.9" fill="none" stroke="#b51700" stroke-width="2.4" stroke-linejoin="miter"/><polygon points="1044.8,98.6 1047.8,93.9 1053.8,93.9 1056.8,98.6" fill="#b51700" stroke="#b51700" stroke-width="2.4" stroke-linejoin="miter"/></g>
<path d="M695.9 270.1L807.9 216.0M815.0 211.6L927.9 124.4M935.0 120.0L1047.0 68.4" stroke="#7a1582" stroke-width="2.95" stroke-linecap="butt"/>
<g stroke-linecap="butt"><polygon points="692.1,266.3 697.7,276.5 686.5,276.5" fill="none" stroke="#7a1582" stroke-width="2.2" stroke-linejoin="miter"/><polygon points="811.7,208.6 817.3,218.8 806.1,218.8" fill="none" stroke="#7a1582" stroke-width="2.2" stroke-linejoin="miter"/><polygon points="931.2,116.2 936.8,126.4 925.6,126.4" fill="none" stroke="#7a1582" stroke-width="2.2" stroke-linejoin="miter"/><polygon points="1050.8,61.0 1056.4,71.2 1045.2,71.2" fill="none" stroke="#7a1582" stroke-width="2.2" stroke-linejoin="miter"/></g>
<path d="M695.7 247.8L808.1 179.6M815.2 175.2L927.7 103.9M935.2 100.4L1046.8 65.3" stroke="#011993" stroke-width="2.95" stroke-linecap="butt"/>
<g stroke-linecap="butt"><polygon points="692.1,255.6 697.7,245.4 686.5,245.4" fill="none" stroke="#011993" stroke-width="2.2" stroke-linejoin="miter"/><polygon points="811.7,183.0 817.3,172.8 806.1,172.8" fill="none" stroke="#011993" stroke-width="2.2" stroke-linejoin="miter"/><polygon points="931.2,107.3 936.8,97.1 925.6,97.1" fill="none" stroke="#011993" stroke-width="2.2" stroke-linejoin="miter"/><polygon points="1050.8,69.6 1056.4,59.4 1045.2,59.4" fill="none" stroke="#011993" stroke-width="2.2" stroke-linejoin="miter"/></g>
<path d="M697.0 293.9L806.8 235.0M815.9 228.7L927.0 131.8M936.3 125.7L1045.7 74.5" stroke="#a9791f" stroke-width="2.95" stroke-linecap="butt"/>
<g stroke-linecap="butt"><circle cx="692.1" cy="296.5" r="5.6" fill="none" stroke="#a9791f" stroke-width="2.8"/><path d="M686.5 296.5 A5.6 5.6 0 0 0 697.7 296.5 Z" fill="#a9791f"/><circle cx="811.7" cy="232.4" r="5.6" fill="none" stroke="#a9791f" stroke-width="2.8"/><path d="M806.1 232.4 A5.6 5.6 0 0 0 817.3 232.4 Z" fill="#a9791f"/><circle cx="931.2" cy="128.1" r="5.6" fill="none" stroke="#a9791f" stroke-width="2.8"/><path d="M925.6 128.1 A5.6 5.6 0 0 0 936.8 128.1 Z" fill="#a9791f"/><circle cx="1050.8" cy="72.1" r="5.6" fill="none" stroke="#a9791f" stroke-width="2.8"/><path d="M1045.2 72.1 A5.6 5.6 0 0 0 1056.4 72.1 Z" fill="#a9791f"/></g>
<path d="M696.4 283.3L807.4 187.9M816.3 181.1L926.6 102.4M936.4 97.0L1045.6 51.1" stroke="#000000" stroke-width="2.95" stroke-linecap="butt"/>
<g stroke-linecap="butt"><circle cx="692.1" cy="286.9" r="5.6" fill="none" stroke="#000000" stroke-width="2.8"/><path d="M686.5 286.9 A5.6 5.6 0 0 1 697.7 286.9 Z" fill="#000000"/><circle cx="811.7" cy="184.3" r="5.6" fill="none" stroke="#000000" stroke-width="2.8"/><path d="M806.1 184.3 A5.6 5.6 0 0 1 817.3 184.3 Z" fill="#000000"/><circle cx="931.2" cy="99.2" r="5.6" fill="none" stroke="#000000" stroke-width="2.8"/><path d="M925.6 99.2 A5.6 5.6 0 0 1 936.8 99.2 Z" fill="#000000"/><circle cx="1050.8" cy="48.9" r="5.6" fill="none" stroke="#000000" stroke-width="2.8"/><path d="M1045.2 48.9 A5.6 5.6 0 0 1 1056.4 48.9 Z" fill="#000000"/></g>
<polyline points="692.1,292.0 811.7,219.6 931.2,130.6 1050.8,82.8" stroke="#ff9300" stroke-width="2.95"/>
<g stroke-linecap="butt"><polygon points="692.1,285.6 698.5,292.0 692.1,298.4 685.7,292.0" fill="#ff9300" stroke="none" stroke-width="0" stroke-linejoin="miter"/><polygon points="811.7,213.2 818.1,219.6 811.7,226.0 805.3,219.6" fill="#ff9300" stroke="none" stroke-width="0" stroke-linejoin="miter"/><polygon points="931.2,124.2 937.6,130.6 931.2,137.0 924.8,130.6" fill="#ff9300" stroke="none" stroke-width="0" stroke-linejoin="miter"/><polygon points="1050.8,76.4 1057.2,82.8 1050.8,89.2 1044.4,82.8" fill="#ff9300" stroke="none" stroke-width="0" stroke-linejoin="miter"/></g>
<polyline points="692.1,233.5 811.7,197.0 931.2,109.3 1050.8,78.4" stroke="#b940f5" stroke-width="2.95"/>
<g stroke-linecap="butt"><polygon points="692.1,240.1 698.7,228.3 685.5,228.3" fill="#b940f5" stroke="none" stroke-width="0" stroke-linejoin="miter"/><polygon points="811.7,203.6 818.3,191.8 805.1,191.8" fill="#b940f5" stroke="none" stroke-width="0" stroke-linejoin="miter"/><polygon points="931.2,115.9 937.8,104.1 924.6,104.1" fill="#b940f5" stroke="none" stroke-width="0" stroke-linejoin="miter"/><polygon points="1050.8,85.0 1057.4,73.2 1044.2,73.2" fill="#b940f5" stroke="none" stroke-width="0" stroke-linejoin="miter"/></g>
<polyline points="692.1,299.7 811.7,207.8 931.2,170.9 1050.8,101.7" stroke="#0db30d" stroke-width="2.95"/>
<g stroke-linecap="butt"><polygon points="692.1,293.1 698.7,304.9 685.5,304.9" fill="#0db30d" stroke="none" stroke-width="0" stroke-linejoin="miter"/><polygon points="811.7,201.2 818.3,213.0 805.1,213.0" fill="#0db30d" stroke="none" stroke-width="0" stroke-linejoin="miter"/><polygon points="931.2,164.3 937.8,176.1 924.6,176.1" fill="#0db30d" stroke="none" stroke-width="0" stroke-linejoin="miter"/><polygon points="1050.8,95.1 1057.4,106.9 1044.2,106.9" fill="#0db30d" stroke="none" stroke-width="0" stroke-linejoin="miter"/></g>
<polyline points="692.1,288.0 811.7,192.8 931.2,92.9 1050.8,56.4" stroke="#ff2600" stroke-width="2.95"/>
<g stroke-linecap="butt"><rect x="686.2" y="282.1" width="11.8" height="11.8" fill="#ff2600"/><rect x="805.8" y="186.9" width="11.8" height="11.8" fill="#ff2600"/><rect x="925.3" y="87.0" width="11.8" height="11.8" fill="#ff2600"/><rect x="1044.9" y="50.5" width="11.8" height="11.8" fill="#ff2600"/></g>
<polyline points="692.1,243.1 811.7,200.3 931.2,141.2 1050.8,106.1" stroke="#0433ff" stroke-width="2.95"/>
<g stroke-linecap="butt"><circle cx="692.1" cy="243.1" r="5.9" fill="#0433ff"/><circle cx="811.7" cy="200.3" r="5.9" fill="#0433ff"/><circle cx="931.2" cy="141.2" r="5.9" fill="#0433ff"/><circle cx="1050.8" cy="106.1" r="5.9" fill="#0433ff"/></g>
</g>
<rect x="633.0" y="33.3" width="478.0999999999999" height="319.2" fill="none" stroke="#0a0a0a" stroke-width="2.4"/>
<path d="M622.2 33.3H633.0M622.2 64.2H633.0M622.2 104.1H633.0M622.2 160.3H633.0M622.2 256.4H633.0M622.2 352.5H633.0M692.1 352.5V362.1M811.7 352.5V362.1M931.2 352.5V362.1M1050.8 352.5V362.1" stroke="#111" stroke-width="2.2" fill="none"/>
<text x="615.2" y="39.9" font-size="16.2" fill="#1a1a1a" text-anchor="end" textLength="26.2" lengthAdjust="spacingAndGlyphs">100</text>
<text x="618.8" y="70.0" font-size="16.2" fill="#1a1a1a" text-anchor="end" font-weight="normal" font-style="normal" >80</text>
<text x="618.8" y="109.9" font-size="16.2" fill="#1a1a1a" text-anchor="end" font-weight="normal" font-style="normal" >60</text>
<text x="618.8" y="166.1" font-size="16.2" fill="#1a1a1a" text-anchor="end" font-weight="normal" font-style="normal" >40</text>
<text x="618.8" y="262.2" font-size="16.2" fill="#1a1a1a" text-anchor="end" font-weight="normal" font-style="normal" >20</text>
<text x="618.8" y="361.3" font-size="16.2" fill="#1a1a1a" text-anchor="end" font-weight="normal" font-style="normal" >10</text>
<text x="689.5" y="383.8" font-size="16.4" fill="#1a1a1a" text-anchor="middle" font-weight="normal" font-style="normal" >0.01</text>
<text x="809.7" y="383.8" font-size="16.4" fill="#1a1a1a" text-anchor="middle" font-weight="normal" font-style="normal" >0.1</text>
<text x="930.8" y="383.8" font-size="16.4" fill="#1a1a1a" text-anchor="middle" font-weight="normal" font-style="normal" >1</text>
<text x="1050.4" y="383.8" font-size="16.4" fill="#1a1a1a" text-anchor="middle" font-weight="normal" font-style="normal" >10</text>
<text x="867.0" y="409.2" font-size="19.4" fill="#1a1a1a" text-anchor="middle" textLength="112.2" lengthAdjust="spacingAndGlyphs">Pre-VAF (%)</text>
<text transform="translate(587.4 196.0) rotate(-90)" font-size="19.4" fill="#1a1a1a" text-anchor="middle" textLength="121" lengthAdjust="spacingAndGlyphs">Post-VAF (%)</text>
<line x1="1119.2" y1="31.4" x2="1143.2" y2="31.4" stroke="#0433ff" stroke-width="2.5"/>
<circle cx="1131.3" cy="31.4" r="5.9" fill="#0433ff"/>
<text transform="translate(1154.8 35.9) scale(1.1 1)" font-size="13" fill="#1a1a1a"><tspan font-style="italic">EGFR</tspan> L858R</text>
<line x1="1119.2" y1="51.2" x2="1143.2" y2="51.2" stroke="#ff2600" stroke-width="2.5"/>
<rect x="1125.4" y="45.3" width="11.8" height="11.8" fill="#ff2600"/>
<text transform="translate(1154.8 55.7) scale(1.1 1)" font-size="13" fill="#1a1a1a"><tspan font-style="italic">EGFR</tspan> E746_A750 Del</text>
<line x1="1119.2" y1="70.9" x2="1143.2" y2="70.9" stroke="#0db30d" stroke-width="2.5"/>
<polygon points="1131.3,64.3 1137.9,76.1 1124.7,76.1" fill="#0db30d" stroke="none" stroke-width="0" stroke-linejoin="miter"/>
<text transform="translate(1154.8 75.4) scale(1.1 1)" font-size="13" fill="#1a1a1a"><tspan font-style="italic">EGFR</tspan> G719S</text>
<line x1="1119.2" y1="90.7" x2="1143.2" y2="90.7" stroke="#b940f5" stroke-width="2.5"/>
<polygon points="1131.3,97.3 1137.9,85.5 1124.7,85.5" fill="#b940f5" stroke="none" stroke-width="0" stroke-linejoin="miter"/>
<text transform="translate(1154.8 95.2) scale(1.1 1)" font-size="13" fill="#1a1a1a"><tspan font-style="italic">EGFR</tspan> T790M</text>
<line x1="1119.2" y1="110.4" x2="1143.2" y2="110.4" stroke="#ff9300" stroke-width="2.5"/>
<polygon points="1131.3,104.0 1137.7,110.4 1131.3,116.8 1124.9,110.4" fill="#ff9300" stroke="none" stroke-width="0" stroke-linejoin="miter"/>
<text transform="translate(1154.8 114.9) scale(1.1 1)" font-size="13" fill="#1a1a1a"><tspan font-style="italic">EGFR</tspan> C797S</text>
<line x1="1119.2" y1="130.2" x2="1143.2" y2="130.2" stroke="#000000" stroke-width="2.5"/>
<circle cx="1131.3" cy="130.2" r="5.6" fill="#ffffff" stroke="#000000" stroke-width="2.8"/><path d="M1125.7 130.2 A5.6 5.6 0 0 1 1136.9 130.2 Z" fill="#000000"/>
<text transform="translate(1154.8 134.7) scale(1.1 1)" font-size="13" fill="#1a1a1a"><tspan font-style="italic">EGFR</tspan> V769-D770 Ins ASV</text>
<line x1="1119.2" y1="150.0" x2="1143.2" y2="150.0" stroke="#a9791f" stroke-width="2.5"/>
<circle cx="1131.3" cy="150.0" r="5.6" fill="#ffffff" stroke="#a9791f" stroke-width="2.8"/><path d="M1125.7 150.0 A5.6 5.6 0 0 0 1136.9 150.0 Z" fill="#a9791f"/>
<text transform="translate(1154.8 154.5) scale(1.1 1)" font-size="13" fill="#1a1a1a"><tspan font-style="italic">KRAS</tspan> G12V</text>
<line x1="1119.2" y1="169.7" x2="1143.2" y2="169.7" stroke="#011993" stroke-width="2.5"/>
<polygon points="1131.3,175.3 1136.9,165.1 1125.7,165.1" fill="#ffffff" stroke="#011993" stroke-width="2.2" stroke-linejoin="miter"/>
<text transform="translate(1154.8 174.2) scale(1.1 1)" font-size="13" fill="#1a1a1a"><tspan font-style="italic">KRAS</tspan> G12D</text>
<line x1="1119.2" y1="189.5" x2="1143.2" y2="189.5" stroke="#7a1582" stroke-width="2.5"/>
<polygon points="1131.3,183.9 1136.9,194.1 1125.7,194.1" fill="#ffffff" stroke="#7a1582" stroke-width="2.2" stroke-linejoin="miter"/>
<text transform="translate(1154.8 194.0) scale(1.1 1)" font-size="13" fill="#1a1a1a"><tspan font-style="italic">KRAS</tspan> G12A</text>
<line x1="1119.2" y1="209.2" x2="1143.2" y2="209.2" stroke="#b51700" stroke-width="2.5"/>
<polygon points="1137.3,209.2 1134.3,213.9 1128.3,213.9 1125.3,209.2 1128.3,204.6 1134.3,204.6" fill="#ffffff" stroke="#b51700" stroke-width="2.4" stroke-linejoin="miter"/><polygon points="1125.3,209.2 1128.3,204.6 1134.3,204.6 1137.3,209.2" fill="#b51700" stroke="#b51700" stroke-width="2.4" stroke-linejoin="miter"/>
<text transform="translate(1154.8 213.7) scale(1.1 1)" font-size="13" fill="#1a1a1a"><tspan font-style="italic">KRAS</tspan> G13D</text>
<line x1="1119.2" y1="229.0" x2="1143.2" y2="229.0" stroke="#0b6118" stroke-width="2.5"/>
<path d="M1125.1 229.0L1137.5 229.0M1126.9 224.6L1135.7 233.4M1131.3 222.8L1131.3 235.2M1135.7 224.6L1126.9 233.4" stroke="#0a6b3c" stroke-width="2.2" fill="none"/><circle cx="1131.3" cy="229.0" r="3.2" fill="#0a6b3c"/>
<text transform="translate(1154.8 233.5) scale(1.1 1)" font-size="13" fill="#1a1a1a"><tspan font-style="italic">BRAF</tspan> V600E</text>
<line x1="1119.2" y1="248.8" x2="1143.2" y2="248.8" stroke="#f8c595" stroke-width="2.5"/>
<polygon points="1131.3,241.6 1133.1,246.3 1138.1,246.5 1134.2,249.7 1135.5,254.6 1131.3,251.8 1127.1,254.6 1128.4,249.7 1124.5,246.5 1129.5,246.3" fill="#f8c595" stroke="none" stroke-width="0" stroke-linejoin="miter"/>
<text transform="translate(1154.8 253.3) scale(1.1 1)" font-size="13" fill="#1a1a1a"><tspan font-style="italic">PIK3CA</tspan> E453K</text>
<line x1="1119.2" y1="268.5" x2="1143.2" y2="268.5" stroke="#00ee00" stroke-width="2.5"/>
<path d="M1124.7 268.5H1137.9M1131.3 261.9V275.1" stroke="#00ee00" stroke-width="2.4" fill="none"/>
<text transform="translate(1154.8 273.0) scale(1.1 1)" font-size="13" fill="#1a1a1a"><tspan font-style="italic">PIK3CA</tspan> E542K</text>
<line x1="1119.2" y1="288.3" x2="1143.2" y2="288.3" stroke="#a3c8f7" stroke-width="2.5"/>
<path d="M1125.4 282.4L1137.2 294.2M1125.4 294.2L1137.2 282.4M1124.4 288.3H1138.2" stroke="#a3c8f7" stroke-width="2.0" fill="none"/>
<text transform="translate(1154.8 292.8) scale(1.1 1)" font-size="13" fill="#1a1a1a"><tspan font-style="italic">PIK3CA</tspan> E545K</text>
<line x1="1119.2" y1="308.0" x2="1143.2" y2="308.0" stroke="#c9c9ff" stroke-width="2.5"/>
<polygon points="1131.3,301.7 1137.9,308.0 1131.3,314.3 1124.7,308.0" fill="#f0f0ff" stroke="#c9c9ff" stroke-width="1.8" stroke-linejoin="miter"/><polygon points="1131.3,301.7 1137.9,308.0 1124.7,308.0" fill="#c9c9ff" stroke="none" stroke-width="0" stroke-linejoin="miter"/>
<text transform="translate(1154.8 312.5) scale(1.1 1)" font-size="13" fill="#1a1a1a"><tspan font-style="italic">PIK3CA</tspan> Q546E</text>
<line x1="1119.2" y1="327.8" x2="1143.2" y2="327.8" stroke="#7f7f7f" stroke-width="2.5"/>
<polygon points="1137.9,327.8 1134.6,333.2 1128.0,333.2 1124.7,327.8 1128.0,322.4 1134.6,322.4" fill="#7f7f7f" stroke="none" stroke-width="0" stroke-linejoin="miter"/><circle cx="1131.3" cy="327.8" r="2.6" fill="none" stroke="#9a9a9a" stroke-width="1" stroke-dasharray="1 1"/>
<text transform="translate(1154.8 332.3) scale(1.1 1)" font-size="13" fill="#1a1a1a"><tspan font-style="italic">PIK3CA</tspan> Y644H</text>
<line x1="1119.2" y1="347.6" x2="1143.2" y2="347.6" stroke="#ff8682" stroke-width="2.5"/>
<rect x="1124.0" y="340.3" width="14.6" height="14.6" fill="#ff8682"/><rect x="1126.3" y="342.9" width="3.9" height="3.8" fill="#ffe9e7"/><rect x="1126.3" y="348.5" width="3.9" height="3.8" fill="#ffe9e7"/>
<text transform="translate(1154.8 352.1) scale(1.1 1)" font-size="13" fill="#1a1a1a"><tspan font-style="italic">PIK3CA</tspan> T1025A</text>
<line x1="1119.2" y1="367.3" x2="1143.2" y2="367.3" stroke="#cf7a00" stroke-width="2.5"/>
<circle cx="1131.3" cy="367.3" r="4.6" fill="#ffffff" stroke="#cf7a00" stroke-width="2.4"/><line x1="1126.7" y1="367.3" x2="1135.9" y2="367.3" stroke="#cf7a00" stroke-width="2.0"/>
<text transform="translate(1154.8 371.8) scale(1.1 1)" font-size="13" fill="#1a1a1a"><tspan font-style="italic">TEK</tspan> L914F</text>
</g>
<g id="panel-c">
<text x="477.5" y="415.8" font-size="25" fill="#111" text-anchor="start" font-weight="bold" font-style="normal" >c</text>
<text transform="translate(494.6 559.0) rotate(-90)" font-size="19.4" fill="#1a1a1a" text-anchor="middle" textLength="197" lengthAdjust="spacing">Nucleotide Frequency</text>
<text x="922.7" y="762.4" font-size="20" fill="#1a1a1a" text-anchor="middle" textLength="172.8" lengthAdjust="spacingAndGlyphs">Nucleotide position</text>
<rect x="553.20" y="688.20" width="12.20" height="5.00" fill="#f9cb9c" stroke="#3a3a3a" stroke-width="1.2"/>
<rect x="553.20" y="687.40" width="12.20" height="0.80" fill="#a6c5b3" stroke="#3a3a3a" stroke-width="1.2"/>
<rect x="553.20" y="686.60" width="12.20" height="0.80" fill="#c3aebd" stroke="#3a3a3a" stroke-width="1.2"/>
<rect x="553.20" y="682.60" width="12.20" height="4.00" fill="#d8cd86" stroke="#3a3a3a" stroke-width="1.2"/>
<rect x="568.64" y="692.60" width="12.20" height="0.60" fill="#f9cb9c" stroke="#3a3a3a" stroke-width="1.2"/>
<rect x="568.64" y="691.60" width="12.20" height="1.00" fill="#a6c5b3" stroke="#3a3a3a" stroke-width="1.2"/>
<rect x="568.64" y="690.60" width="12.20" height="1.00" fill="#c3aebd" stroke="#3a3a3a" stroke-width="1.2"/>
<rect x="568.64" y="688.20" width="12.20" height="2.40" fill="#d8cd86" stroke="#3a3a3a" stroke-width="1.2"/>
<rect x="584.08" y="667.50" width="12.20" height="25.70" fill="#f9cb9c" stroke="#3a3a3a" stroke-width="1.2"/>
<rect x="584.08" y="644.30" width="12.20" height="23.20" fill="#a6c5b3" stroke="#3a3a3a" stroke-width="1.2"/>
<rect x="584.08" y="619.10" width="12.20" height="25.20" fill="#c3aebd" stroke="#3a3a3a" stroke-width="1.2"/>
<rect x="599.52" y="668.70" width="12.20" height="24.50" fill="#f9cb9c" stroke="#3a3a3a" stroke-width="1.2"/>
<rect x="599.52" y="645.30" width="12.20" height="23.40" fill="#a6c5b3" stroke="#3a3a3a" stroke-width="1.2"/>
<rect x="599.52" y="619.10" width="12.20" height="26.20" fill="#c3aebd" stroke="#3a3a3a" stroke-width="1.2"/>
<rect x="614.96" y="692.40" width="12.20" height="0.80" fill="#f9cb9c" stroke="#3a3a3a" stroke-width="1.2"/>
<rect x="614.96" y="691.80" width="12.20" height="0.60" fill="#a6c5b3" stroke="#3a3a3a" stroke-width="1.2"/>
<rect x="614.96" y="688.60" width="12.20" height="3.20" fill="#c3aebd" stroke="#3a3a3a" stroke-width="1.2"/>
<rect x="614.96" y="685.60" width="12.20" height="3.00" fill="#d8cd86" stroke="#3a3a3a" stroke-width="1.2"/>
<rect x="630.40" y="667.50" width="12.20" height="25.70" fill="#f9cb9c" stroke="#3a3a3a" stroke-width="1.2"/>
<rect x="630.40" y="640.60" width="12.20" height="26.90" fill="#a6c5b3" stroke="#3a3a3a" stroke-width="1.2"/>
<rect x="630.40" y="614.70" width="12.20" height="25.90" fill="#c3aebd" stroke="#3a3a3a" stroke-width="1.2"/>
<rect x="645.84" y="668.10" width="12.20" height="25.10" fill="#f9cb9c" stroke="#3a3a3a" stroke-width="1.2"/>
<rect x="645.84" y="643.40" width="12.20" height="24.70" fill="#a6c5b3" stroke="#3a3a3a" stroke-width="1.2"/>
<rect x="645.84" y="618.00" width="12.20" height="25.40" fill="#c3aebd" stroke="#3a3a3a" stroke-width="1.2"/>
<rect x="661.28" y="692.00" width="12.20" height="1.20" fill="#f9cb9c" stroke="#3a3a3a" stroke-width="1.2"/>
<rect x="661.28" y="678.00" width="12.20" height="14.00" fill="#a6c5b3" stroke="#3a3a3a" stroke-width="1.2"/>
<rect x="661.28" y="676.80" width="12.20" height="1.20" fill="#c3aebd" stroke="#3a3a3a" stroke-width="1.2"/>
<rect x="661.28" y="675.80" width="12.20" height="1.00" fill="#d8cd86" stroke="#3a3a3a" stroke-width="1.2"/>
<rect x="676.72" y="687.20" width="12.20" height="6.00" fill="#f9cb9c" stroke="#3a3a3a" stroke-width="1.2"/>
<rect x="676.72" y="680.10" width="12.20" height="7.10" fill="#a6c5b3" stroke="#3a3a3a" stroke-width="1.2"/>
<rect x="676.72" y="672.10" width="12.20" height="8.00" fill="#c3aebd" stroke="#3a3a3a" stroke-width="1.2"/>
<rect x="692.16" y="692.60" width="12.20" height="0.60" fill="#f9cb9c" stroke="#3a3a3a" stroke-width="1.2"/>
<rect x="692.16" y="692.10" width="12.20" height="0.50" fill="#a6c5b3" stroke="#3a3a3a" stroke-width="1.2"/>
<rect x="692.16" y="689.70" width="12.20" height="2.40" fill="#c3aebd" stroke="#3a3a3a" stroke-width="1.2"/>
<rect x="692.16" y="687.20" width="12.20" height="2.50" fill="#d8cd86" stroke="#3a3a3a" stroke-width="1.2"/>
<path d="M551.3 445.3V693.6H706.5M551.3 693.6h5.2M551.3 643.9h5.2M551.3 594.3h5.2M551.3 544.6h5.2M551.3 495.0h5.2M551.3 445.3h5.2M559.3 693.6v4.6M574.7 693.6v4.6M590.2 693.6v4.6M605.6 693.6v4.6M621.1 693.6v4.6M636.5 693.6v4.6M651.9 693.6v4.6M667.4 693.6v4.6M682.8 693.6v4.6M698.3 693.6v4.6" fill="none" stroke="#1c1c1c" stroke-width="2.0"/>
<text x="546.8" y="697.4" font-size="13.2" fill="#1a1a1a" text-anchor="end" font-weight="normal" font-style="normal" >0.000</text>
<text x="546.8" y="647.7" font-size="13.2" fill="#1a1a1a" text-anchor="end" font-weight="normal" font-style="normal" >0.002</text>
<text x="546.8" y="598.1" font-size="13.2" fill="#1a1a1a" text-anchor="end" font-weight="normal" font-style="normal" >0.004</text>
<text x="546.8" y="548.4" font-size="13.2" fill="#1a1a1a" text-anchor="end" font-weight="normal" font-style="normal" >0.006</text>
<text x="546.8" y="498.8" font-size="13.2" fill="#1a1a1a" text-anchor="end" font-weight="normal" font-style="normal" >0.008</text>
<text x="546.8" y="449.1" font-size="13.2" fill="#1a1a1a" text-anchor="end" font-weight="normal" font-style="normal" >0.010</text>
<text x="559.3" y="713.2" font-size="12.8" fill="#2a2a2a" text-anchor="middle" font-weight="normal" font-style="normal" >C</text>
<text x="574.7" y="713.2" font-size="12.8" fill="#2a2a2a" text-anchor="middle" font-weight="normal" font-style="normal" >T</text>
<text x="590.2" y="713.2" font-size="12.8" fill="#2a2a2a" text-anchor="middle" font-weight="normal" font-style="normal" >G</text>
<text x="605.6" y="713.2" font-size="12.8" fill="#2a2a2a" text-anchor="middle" font-weight="normal" font-style="normal" >G</text>
<text x="621.1" y="713.2" font-size="12.8" fill="#2a2a2a" text-anchor="middle" font-weight="normal" font-style="normal" >T</text>
<text x="636.5" y="713.2" font-size="12.8" fill="#2a2a2a" text-anchor="middle" font-weight="normal" font-style="normal" >G</text>
<text x="651.9" y="713.2" font-size="12.8" fill="#2a2a2a" text-anchor="middle" font-weight="normal" font-style="normal" >G</text>
<text x="667.4" y="713.2" font-size="12.8" fill="#2a2a2a" text-anchor="middle" font-weight="normal" font-style="normal" >C</text>
<text x="682.8" y="713.2" font-size="12.8" fill="#2a2a2a" text-anchor="middle" font-weight="normal" font-style="normal" >G</text>
<text x="698.3" y="713.2" font-size="12.8" fill="#2a2a2a" text-anchor="middle" font-weight="normal" font-style="normal" >T</text>
<text x="562.0" y="458.4" font-size="14.5" fill="#2b3f9e" text-anchor="start" font-weight="normal" font-style="normal" >VAF=0.1%</text>
<text x="562.0" y="474.1" font-size="14.5" fill="#2b3f9e" text-anchor="start" font-weight="normal" font-style="normal" >Before sgDNase</text>
<text x="562.0" y="489.8" font-size="14.5" fill="#2b3f9e" text-anchor="start" font-weight="normal" font-style="normal" >pretreatment</text>
<text x="662.6" y="662.6" font-size="14.2" fill="#222" text-anchor="start" font-weight="normal" font-style="normal" >Noise</text>
<rect x="758.00" y="690.80" width="12.60" height="2.40" fill="#f9cb9c" stroke="#3a3a3a" stroke-width="1.2"/>
<rect x="758.00" y="689.80" width="12.60" height="1.00" fill="#a6c5b3" stroke="#3a3a3a" stroke-width="1.2"/>
<rect x="758.00" y="688.80" width="12.60" height="1.00" fill="#c3aebd" stroke="#3a3a3a" stroke-width="1.2"/>
<rect x="758.00" y="686.20" width="12.60" height="2.60" fill="#d8cd86" stroke="#3a3a3a" stroke-width="1.2"/>
<rect x="773.35" y="692.60" width="12.60" height="0.60" fill="#f9cb9c" stroke="#3a3a3a" stroke-width="1.2"/>
<rect x="773.35" y="691.80" width="12.60" height="0.80" fill="#a6c5b3" stroke="#3a3a3a" stroke-width="1.2"/>
<rect x="773.35" y="691.00" width="12.60" height="0.80" fill="#c3aebd" stroke="#3a3a3a" stroke-width="1.2"/>
<rect x="773.35" y="690.10" width="12.60" height="0.90" fill="#d8cd86" stroke="#3a3a3a" stroke-width="1.2"/>
<rect x="788.70" y="624.00" width="12.60" height="69.20" fill="#f9cb9c" stroke="#3a3a3a" stroke-width="1.2"/>
<rect x="788.70" y="590.40" width="12.60" height="33.60" fill="#a6c5b3" stroke="#3a3a3a" stroke-width="1.2"/>
<rect x="788.70" y="544.80" width="12.60" height="45.60" fill="#c3aebd" stroke="#3a3a3a" stroke-width="1.2"/>
<rect x="804.05" y="619.20" width="12.60" height="74.00" fill="#f9cb9c" stroke="#3a3a3a" stroke-width="1.2"/>
<rect x="804.05" y="594.80" width="12.60" height="24.40" fill="#a6c5b3" stroke="#3a3a3a" stroke-width="1.2"/>
<rect x="804.05" y="548.10" width="12.60" height="46.70" fill="#c3aebd" stroke="#3a3a3a" stroke-width="1.2"/>
<rect x="819.40" y="690.30" width="12.60" height="2.90" fill="#f9cb9c" stroke="#3a3a3a" stroke-width="1.2"/>
<rect x="819.40" y="689.50" width="12.60" height="0.80" fill="#a6c5b3" stroke="#3a3a3a" stroke-width="1.2"/>
<rect x="819.40" y="688.70" width="12.60" height="0.80" fill="#c3aebd" stroke="#3a3a3a" stroke-width="1.2"/>
<rect x="819.40" y="687.80" width="12.60" height="0.90" fill="#d8cd86" stroke="#3a3a3a" stroke-width="1.2"/>
<rect x="834.75" y="601.30" width="12.60" height="91.90" fill="#f9cb9c" stroke="#3a3a3a" stroke-width="1.2"/>
<rect x="834.75" y="570.00" width="12.60" height="31.30" fill="#a6c5b3" stroke="#3a3a3a" stroke-width="1.2"/>
<rect x="834.75" y="521.10" width="12.60" height="48.90" fill="#c3aebd" stroke="#3a3a3a" stroke-width="1.2"/>
<rect x="850.10" y="629.20" width="12.60" height="64.00" fill="#f9cb9c" stroke="#3a3a3a" stroke-width="1.2"/>
<rect x="850.10" y="555.70" width="12.60" height="73.50" fill="#a6c5b3" stroke="#3a3a3a" stroke-width="1.2"/>
<rect x="850.10" y="521.80" width="12.60" height="33.90" fill="#c3aebd" stroke="#3a3a3a" stroke-width="1.2"/>
<rect x="865.45" y="692.40" width="12.60" height="0.80" fill="#f9cb9c" stroke="#3a3a3a" stroke-width="1.2"/>
<rect x="865.45" y="688.00" width="12.60" height="4.40" fill="#a6c5b3" stroke="#3a3a3a" stroke-width="1.2"/>
<rect x="865.45" y="686.50" width="12.60" height="1.50" fill="#c3aebd" stroke="#3a3a3a" stroke-width="1.2"/>
<rect x="865.45" y="685.50" width="12.60" height="1.00" fill="#d8cd86" stroke="#3a3a3a" stroke-width="1.2"/>
<rect x="880.80" y="691.70" width="12.60" height="1.50" fill="#f9cb9c" stroke="#3a3a3a" stroke-width="1.2"/>
<rect x="880.80" y="688.80" width="12.60" height="2.90" fill="#a6c5b3" stroke="#3a3a3a" stroke-width="1.2"/>
<rect x="880.80" y="686.50" width="12.60" height="2.30" fill="#c3aebd" stroke="#3a3a3a" stroke-width="1.2"/>
<rect x="880.80" y="685.50" width="12.60" height="1.00" fill="#d8cd86" stroke="#3a3a3a" stroke-width="1.2"/>
<rect x="896.15" y="692.60" width="12.60" height="0.60" fill="#f9cb9c" stroke="#3a3a3a" stroke-width="1.2"/>
<rect x="896.15" y="692.00" width="12.60" height="0.60" fill="#a6c5b3" stroke="#3a3a3a" stroke-width="1.2"/>
<rect x="896.15" y="691.20" width="12.60" height="0.80" fill="#c3aebd" stroke="#3a3a3a" stroke-width="1.2"/>
<rect x="896.15" y="689.60" width="12.60" height="1.60" fill="#d8cd86" stroke="#3a3a3a" stroke-width="1.2"/>
<path d="M787.5 673.6H817.8M833.5 673.6H863.9" stroke="#ffffff" stroke-width="2.2" fill="none"/>
<path d="M756.8 445.3V670.6M756.8 676.6V693.6H910.9M756.8 616.3h5.2M756.8 559.0h5.2M756.8 501.7h5.2M756.8 444.4h5.2M756.8 684.6h5.2M764.3 693.6v4.6M779.6 693.6v4.6M795.0 693.6v4.6M810.3 693.6v4.6M825.7 693.6v4.6M841.0 693.6v4.6M856.4 693.6v4.6M871.8 693.6v4.6M887.1 693.6v4.6M902.4 693.6v4.6" fill="none" stroke="#1c1c1c" stroke-width="2.0"/>
<path d="M751.6 674.2l10 -5.2M751.6 678.0l10 -5.2" stroke="#222" stroke-width="1.3" fill="none"/>
<text x="750.6" y="620.9" font-size="13.2" fill="#1a1a1a" text-anchor="end" font-weight="normal" font-style="normal" >0.1</text>
<text x="750.6" y="563.6" font-size="13.2" fill="#1a1a1a" text-anchor="end" font-weight="normal" font-style="normal" >0.2</text>
<text x="750.6" y="506.3" font-size="13.2" fill="#1a1a1a" text-anchor="end" font-weight="normal" font-style="normal" >0.3</text>
<text x="750.6" y="449.0" font-size="13.2" fill="#1a1a1a" text-anchor="end" font-weight="normal" font-style="normal" >0.4</text>
<text x="751.6" y="689.0" font-size="13.2" fill="#333" text-anchor="end" font-weight="normal" font-style="normal" >0.001</text>
<text x="751.6" y="697.6" font-size="13.2" fill="#333" text-anchor="end" font-weight="normal" font-style="normal" >0.000</text>
<text x="764.3" y="713.2" font-size="12.8" fill="#2a2a2a" text-anchor="middle" font-weight="normal" font-style="normal" >C</text>
<text x="779.6" y="713.2" font-size="12.8" fill="#2a2a2a" text-anchor="middle" font-weight="normal" font-style="normal" >T</text>
<text x="795.0" y="713.2" font-size="12.8" fill="#2a2a2a" text-anchor="middle" font-weight="normal" font-style="normal" >G</text>
<text x="810.3" y="713.2" font-size="12.8" fill="#2a2a2a" text-anchor="middle" font-weight="normal" font-style="normal" >G</text>
<text x="825.7" y="713.2" font-size="12.8" fill="#2a2a2a" text-anchor="middle" font-weight="normal" font-style="normal" >T</text>
<text x="841.0" y="713.2" font-size="12.8" fill="#2a2a2a" text-anchor="middle" font-weight="normal" font-style="normal" >G</text>
<text x="856.4" y="713.2" font-size="12.8" fill="#2a2a2a" text-anchor="middle" font-weight="normal" font-style="normal" >G</text>
<text x="871.8" y="713.2" font-size="12.8" fill="#2a2a2a" text-anchor="middle" font-weight="normal" font-style="normal" >C</text>
<text x="887.1" y="713.2" font-size="12.8" fill="#2a2a2a" text-anchor="middle" font-weight="normal" font-style="normal" >G</text>
<text x="902.4" y="713.2" font-size="12.8" fill="#2a2a2a" text-anchor="middle" font-weight="normal" font-style="normal" >T</text>
<text x="765.6" y="457.7" font-size="14.5" fill="#ee1c25" text-anchor="start" font-weight="normal" font-style="normal" >VAF=0.1%</text>
<text x="765.6" y="473.4" font-size="14.5" fill="#ee1c25" text-anchor="start" font-weight="normal" font-style="normal" >After sgDNase</text>
<text x="765.6" y="489.1" font-size="14.5" fill="#ee1c25" text-anchor="start" font-weight="normal" font-style="normal" >pretreatment</text>
<text x="870.4" y="669.0" font-size="14.2" fill="#222" text-anchor="start" font-weight="normal" font-style="normal" >Noise</text>
<rect x="963.00" y="686.70" width="12.40" height="5.80" fill="#f9cb9c" stroke="#3a3a3a" stroke-width="1.2"/>
<rect x="963.00" y="681.70" width="12.40" height="5.00" fill="#a6c5b3" stroke="#3a3a3a" stroke-width="1.2"/>
<rect x="963.00" y="680.70" width="12.40" height="1.00" fill="#c3aebd" stroke="#3a3a3a" stroke-width="1.2"/>
<rect x="963.00" y="679.60" width="12.40" height="1.10" fill="#d8cd86" stroke="#3a3a3a" stroke-width="1.2"/>
<rect x="978.45" y="691.80" width="12.40" height="0.70" fill="#f9cb9c" stroke="#3a3a3a" stroke-width="1.2"/>
<rect x="978.45" y="691.10" width="12.40" height="0.70" fill="#a6c5b3" stroke="#3a3a3a" stroke-width="1.2"/>
<rect x="978.45" y="680.20" width="12.40" height="10.90" fill="#c3aebd" stroke="#3a3a3a" stroke-width="1.2"/>
<rect x="978.45" y="677.80" width="12.40" height="2.40" fill="#d8cd86" stroke="#3a3a3a" stroke-width="1.2"/>
<rect x="993.90" y="691.70" width="12.40" height="0.80" fill="#f9cb9c" stroke="#3a3a3a" stroke-width="1.2"/>
<rect x="993.90" y="688.10" width="12.40" height="3.60" fill="#a6c5b3" stroke="#3a3a3a" stroke-width="1.2"/>
<rect x="993.90" y="665.50" width="12.40" height="22.60" fill="#c3aebd" stroke="#3a3a3a" stroke-width="1.2"/>
<rect x="993.90" y="664.60" width="12.40" height="0.90" fill="#d8cd86" stroke="#3a3a3a" stroke-width="1.2"/>
<rect x="1009.35" y="691.90" width="12.40" height="0.60" fill="#f9cb9c" stroke="#3a3a3a" stroke-width="1.2"/>
<rect x="1009.35" y="675.30" width="12.40" height="16.60" fill="#a6c5b3" stroke="#3a3a3a" stroke-width="1.2"/>
<rect x="1009.35" y="673.50" width="12.40" height="1.80" fill="#c3aebd" stroke="#3a3a3a" stroke-width="1.2"/>
<rect x="1009.35" y="672.70" width="12.40" height="0.80" fill="#d8cd86" stroke="#3a3a3a" stroke-width="1.2"/>
<rect x="1024.80" y="688.90" width="12.40" height="3.60" fill="#f9cb9c" stroke="#3a3a3a" stroke-width="1.2"/>
<rect x="1024.80" y="688.30" width="12.40" height="0.60" fill="#a6c5b3" stroke="#3a3a3a" stroke-width="1.2"/>
<rect x="1024.80" y="678.60" width="12.40" height="9.70" fill="#c3aebd" stroke="#3a3a3a" stroke-width="1.2"/>
<rect x="1024.80" y="677.40" width="12.40" height="1.20" fill="#d8cd86" stroke="#3a3a3a" stroke-width="1.2"/>
<rect x="1040.25" y="679.60" width="12.40" height="12.90" fill="#f9cb9c" stroke="#3a3a3a" stroke-width="1.2"/>
<rect x="1040.25" y="675.30" width="12.40" height="4.30" fill="#a6c5b3" stroke="#3a3a3a" stroke-width="1.2"/>
<rect x="1040.25" y="673.50" width="12.40" height="1.80" fill="#c3aebd" stroke="#3a3a3a" stroke-width="1.2"/>
<rect x="1040.25" y="672.70" width="12.40" height="0.80" fill="#d8cd86" stroke="#3a3a3a" stroke-width="1.2"/>
<rect x="1055.70" y="691.70" width="12.40" height="0.80" fill="#f9cb9c" stroke="#3a3a3a" stroke-width="1.2"/>
<rect x="1055.70" y="673.10" width="12.40" height="18.60" fill="#a6c5b3" stroke="#3a3a3a" stroke-width="1.2"/>
<rect x="1055.70" y="670.10" width="12.40" height="3.00" fill="#c3aebd" stroke="#3a3a3a" stroke-width="1.2"/>
<rect x="1055.70" y="669.30" width="12.40" height="0.80" fill="#d8cd86" stroke="#3a3a3a" stroke-width="1.2"/>
<rect x="1071.15" y="679.60" width="12.40" height="12.90" fill="#f9cb9c" stroke="#3a3a3a" stroke-width="1.2"/>
<rect x="1071.15" y="673.10" width="12.40" height="6.50" fill="#a6c5b3" stroke="#3a3a3a" stroke-width="1.2"/>
<rect x="1071.15" y="671.90" width="12.40" height="1.20" fill="#c3aebd" stroke="#3a3a3a" stroke-width="1.2"/>
<rect x="1071.15" y="670.70" width="12.40" height="1.20" fill="#d8cd86" stroke="#3a3a3a" stroke-width="1.2"/>
<rect x="1086.60" y="673.60" width="12.40" height="18.90" fill="#f9cb9c" stroke="#3a3a3a" stroke-width="1.2"/>
<rect x="1086.60" y="657.40" width="12.40" height="16.20" fill="#a6c5b3" stroke="#3a3a3a" stroke-width="1.2"/>
<rect x="1086.60" y="656.70" width="12.40" height="0.70" fill="#c3aebd" stroke="#3a3a3a" stroke-width="1.2"/>
<rect x="1086.60" y="656.00" width="12.40" height="0.70" fill="#d8cd86" stroke="#3a3a3a" stroke-width="1.2"/>
<rect x="1102.05" y="688.90" width="12.40" height="3.60" fill="#f9cb9c" stroke="#3a3a3a" stroke-width="1.2"/>
<rect x="1102.05" y="688.30" width="12.40" height="0.60" fill="#a6c5b3" stroke="#3a3a3a" stroke-width="1.2"/>
<rect x="1102.05" y="679.60" width="12.40" height="8.70" fill="#c3aebd" stroke="#3a3a3a" stroke-width="1.2"/>
<rect x="1102.05" y="678.40" width="12.40" height="1.20" fill="#d8cd86" stroke="#3a3a3a" stroke-width="1.2"/>
<path d="M961.7 445.3V692.9H1116.6M961.7 692.9h5.2M961.7 643.4h5.2M961.7 593.9h5.2M961.7 544.3h5.2M961.7 494.8h5.2M961.7 445.3h5.2M969.2 692.9v4.6M984.7 692.9v4.6M1000.1 692.9v4.6M1015.6 692.9v4.6M1031.0 692.9v4.6M1046.5 692.9v4.6M1061.9 692.9v4.6M1077.4 692.9v4.6M1092.8 692.9v4.6M1108.2 692.9v4.6" fill="none" stroke="#1c1c1c" stroke-width="2.0"/>
<text x="955.4" y="696.2" font-size="13.2" fill="#1a1a1a" text-anchor="end" font-weight="normal" font-style="normal" >0.000</text>
<text x="955.4" y="646.7" font-size="13.2" fill="#1a1a1a" text-anchor="end" font-weight="normal" font-style="normal" >0.002</text>
<text x="955.4" y="597.2" font-size="13.2" fill="#1a1a1a" text-anchor="end" font-weight="normal" font-style="normal" >0.004</text>
<text x="955.4" y="547.6" font-size="13.2" fill="#1a1a1a" text-anchor="end" font-weight="normal" font-style="normal" >0.006</text>
<text x="955.4" y="498.1" font-size="13.2" fill="#1a1a1a" text-anchor="end" font-weight="normal" font-style="normal" >0.008</text>
<text x="955.4" y="448.6" font-size="13.2" fill="#1a1a1a" text-anchor="end" font-weight="normal" font-style="normal" >0.010</text>
<text x="969.2" y="713.2" font-size="12.8" fill="#2a2a2a" text-anchor="middle" font-weight="normal" font-style="normal" >C</text>
<text x="984.7" y="713.2" font-size="12.8" fill="#2a2a2a" text-anchor="middle" font-weight="normal" font-style="normal" >T</text>
<text x="1000.1" y="713.2" font-size="12.8" fill="#2a2a2a" text-anchor="middle" font-weight="normal" font-style="normal" >G</text>
<text x="1015.6" y="713.2" font-size="12.8" fill="#2a2a2a" text-anchor="middle" font-weight="normal" font-style="normal" >G</text>
<text x="1031.0" y="713.2" font-size="12.8" fill="#2a2a2a" text-anchor="middle" font-weight="normal" font-style="normal" >T</text>
<text x="1046.5" y="713.2" font-size="12.8" fill="#2a2a2a" text-anchor="middle" font-weight="normal" font-style="normal" >G</text>
<text x="1061.9" y="713.2" font-size="12.8" fill="#2a2a2a" text-anchor="middle" font-weight="normal" font-style="normal" >G</text>
<text x="1077.4" y="713.2" font-size="12.8" fill="#2a2a2a" text-anchor="middle" font-weight="normal" font-style="normal" >C</text>
<text x="1092.8" y="713.2" font-size="12.8" fill="#2a2a2a" text-anchor="middle" font-weight="normal" font-style="normal" >G</text>
<text x="1108.2" y="713.2" font-size="12.8" fill="#2a2a2a" text-anchor="middle" font-weight="normal" font-style="normal" >T</text>
<text x="968.4" y="457.2" font-size="14.5" fill="#2b3f9e" text-anchor="start" font-weight="normal" font-style="normal" >VAF=0.01%</text>
<text x="968.4" y="472.9" font-size="14.5" fill="#2b3f9e" text-anchor="start" font-weight="normal" font-style="normal" >Before sgDNase</text>
<text x="968.4" y="488.6" font-size="14.5" fill="#2b3f9e" text-anchor="start" font-weight="normal" font-style="normal" >pretreatment</text>
<text x="983.6" y="648.4" font-size="14.2" fill="#222" text-anchor="start" font-weight="normal" font-style="normal" >Noise</text>
<text x="1072.6" y="648.4" font-size="14.2" fill="#222" text-anchor="start" font-weight="normal" font-style="normal" >Noise</text>
<rect x="1163.9" y="692.0" width="12.8" height="0.3" fill="#3a3a3a" stroke="#3a3a3a" stroke-width="0.6"/>
<rect x="1179.3" y="691.7" width="12.8" height="0.6" fill="#3a3a3a" stroke="#3a3a3a" stroke-width="0.6"/>
<rect x="1195.00" y="667.90" width="12.40" height="24.40" fill="#f9cb9c" stroke="#3a3a3a" stroke-width="1.2"/>
<rect x="1195.00" y="635.70" width="12.40" height="32.20" fill="#a6c5b3" stroke="#3a3a3a" stroke-width="1.2"/>
<rect x="1195.00" y="605.70" width="12.40" height="30.00" fill="#c3aebd" stroke="#3a3a3a" stroke-width="1.2"/>
<rect x="1210.45" y="673.40" width="12.40" height="18.90" fill="#f9cb9c" stroke="#3a3a3a" stroke-width="1.2"/>
<rect x="1210.45" y="661.30" width="12.40" height="12.10" fill="#a6c5b3" stroke="#3a3a3a" stroke-width="1.2"/>
<rect x="1210.45" y="642.60" width="12.40" height="18.70" fill="#c3aebd" stroke="#3a3a3a" stroke-width="1.2"/>
<rect x="1225.7" y="692.0" width="12.8" height="0.3" fill="#3a3a3a" stroke="#3a3a3a" stroke-width="0.6"/>
<rect x="1241.35" y="664.80" width="12.40" height="27.50" fill="#f9cb9c" stroke="#3a3a3a" stroke-width="1.2"/>
<rect x="1241.35" y="636.80" width="12.40" height="28.00" fill="#a6c5b3" stroke="#3a3a3a" stroke-width="1.2"/>
<rect x="1241.35" y="611.90" width="12.40" height="24.90" fill="#c3aebd" stroke="#3a3a3a" stroke-width="1.2"/>
<rect x="1256.80" y="673.40" width="12.40" height="18.90" fill="#f9cb9c" stroke="#3a3a3a" stroke-width="1.2"/>
<rect x="1256.80" y="649.30" width="12.40" height="24.10" fill="#a6c5b3" stroke="#3a3a3a" stroke-width="1.2"/>
<rect x="1256.80" y="614.90" width="12.40" height="34.40" fill="#c3aebd" stroke="#3a3a3a" stroke-width="1.2"/>
<rect x="1272.0" y="692.0" width="12.8" height="0.3" fill="#3a3a3a" stroke="#3a3a3a" stroke-width="0.6"/>
<rect x="1287.5" y="691.1" width="12.8" height="1.2" fill="#3a3a3a" stroke="#3a3a3a" stroke-width="0.6"/>
<rect x="1302.9" y="692.0" width="12.8" height="0.3" fill="#3a3a3a" stroke="#3a3a3a" stroke-width="0.6"/>
<path d="M1163.8 444.6V692.7H1318.0M1163.8 692.7h5.2M1163.8 661.7h5.2M1163.8 630.7h5.2M1163.8 599.7h5.2M1163.8 568.7h5.2M1163.8 537.6h5.2M1163.8 506.6h5.2M1163.8 475.6h5.2M1163.8 444.6h5.2M1170.3 692.7v4.6M1185.8 692.7v4.6M1201.2 692.7v4.6M1216.6 692.7v4.6M1232.1 692.7v4.6M1247.5 692.7v4.6M1263.0 692.7v4.6M1278.5 692.7v4.6M1293.9 692.7v4.6M1309.3 692.7v4.6" fill="none" stroke="#1c1c1c" stroke-width="2.0"/>
<text x="1157.6" y="696.3" font-size="13.2" fill="#1a1a1a" text-anchor="end" font-weight="normal" font-style="normal" >0.00</text>
<text x="1157.6" y="665.3" font-size="13.2" fill="#1a1a1a" text-anchor="end" font-weight="normal" font-style="normal" >0.05</text>
<text x="1157.6" y="634.3" font-size="13.2" fill="#1a1a1a" text-anchor="end" font-weight="normal" font-style="normal" >0.10</text>
<text x="1157.6" y="603.3" font-size="13.2" fill="#1a1a1a" text-anchor="end" font-weight="normal" font-style="normal" >0.15</text>
<text x="1157.6" y="572.3" font-size="13.2" fill="#1a1a1a" text-anchor="end" font-weight="normal" font-style="normal" >0.20</text>
<text x="1157.6" y="541.2" font-size="13.2" fill="#1a1a1a" text-anchor="end" font-weight="normal" font-style="normal" >0.25</text>
<text x="1157.6" y="510.2" font-size="13.2" fill="#1a1a1a" text-anchor="end" font-weight="normal" font-style="normal" >0.30</text>
<text x="1157.6" y="479.2" font-size="13.2" fill="#1a1a1a" text-anchor="end" font-weight="normal" font-style="normal" >0.35</text>
<text x="1157.6" y="448.2" font-size="13.2" fill="#1a1a1a" text-anchor="end" font-weight="normal" font-style="normal" >0.40</text>
<text x="1170.3" y="713.2" font-size="12.8" fill="#2a2a2a" text-anchor="middle" font-weight="normal" font-style="normal" >C</text>
<text x="1185.8" y="713.2" font-size="12.8" fill="#2a2a2a" text-anchor="middle" font-weight="normal" font-style="normal" >T</text>
<text x="1201.2" y="713.2" font-size="12.8" fill="#2a2a2a" text-anchor="middle" font-weight="normal" font-style="normal" >G</text>
<text x="1216.6" y="713.2" font-size="12.8" fill="#2a2a2a" text-anchor="middle" font-weight="normal" font-style="normal" >G</text>
<text x="1232.1" y="713.2" font-size="12.8" fill="#2a2a2a" text-anchor="middle" font-weight="normal" font-style="normal" >T</text>
<text x="1247.5" y="713.2" font-size="12.8" fill="#2a2a2a" text-anchor="middle" font-weight="normal" font-style="normal" >G</text>
<text x="1263.0" y="713.2" font-size="12.8" fill="#2a2a2a" text-anchor="middle" font-weight="normal" font-style="normal" >G</text>
<text x="1278.5" y="713.2" font-size="12.8" fill="#2a2a2a" text-anchor="middle" font-weight="normal" font-style="normal" >C</text>
<text x="1293.9" y="713.2" font-size="12.8" fill="#2a2a2a" text-anchor="middle" font-weight="normal" font-style="normal" >G</text>
<text x="1309.3" y="713.2" font-size="12.8" fill="#2a2a2a" text-anchor="middle" font-weight="normal" font-style="normal" >T</text>
<text x="1172.0" y="457.2" font-size="14.5" fill="#ee1c25" text-anchor="start" font-weight="normal" font-style="normal" >VAF=0.01%</text>
<text x="1172.0" y="472.9" font-size="14.5" fill="#ee1c25" text-anchor="start" font-weight="normal" font-style="normal" >After sgDNase</text>
<text x="1172.0" y="488.6" font-size="14.5" fill="#ee1c25" text-anchor="start" font-weight="normal" font-style="normal" >pretreatment</text>
<text x="1273.2" y="669.8" font-size="14.2" fill="#222" text-anchor="start" font-weight="normal" font-style="normal" >Noise</text>
<rect x="1286.4" y="443.7" width="30" height="14.2" fill="#fff3a6" stroke="#454545" stroke-width="1.6"/>
<text x="1320.4" y="455.3" font-size="12.6" fill="#111" text-anchor="start" font-weight="bold" font-style="normal" >G</text>
<rect x="1286.4" y="460.3" width="30" height="14.2" fill="#c3aebd" stroke="#454545" stroke-width="1.6"/>
<text x="1320.4" y="471.9" font-size="12.6" fill="#111" text-anchor="start" font-weight="bold" font-style="normal" >C</text>
<rect x="1286.4" y="476.9" width="30" height="14.2" fill="#a6c5b3" stroke="#454545" stroke-width="1.6"/>
<text x="1320.4" y="488.5" font-size="12.6" fill="#111" text-anchor="start" font-weight="bold" font-style="normal" >T</text>
<rect x="1286.4" y="493.5" width="30" height="14.2" fill="#f9cb9c" stroke="#454545" stroke-width="1.6"/>
<text x="1320.4" y="505.1" font-size="12.6" fill="#111" text-anchor="start" font-weight="bold" font-style="normal" >A</text>
</g>
</svg>
</body>
</html>
